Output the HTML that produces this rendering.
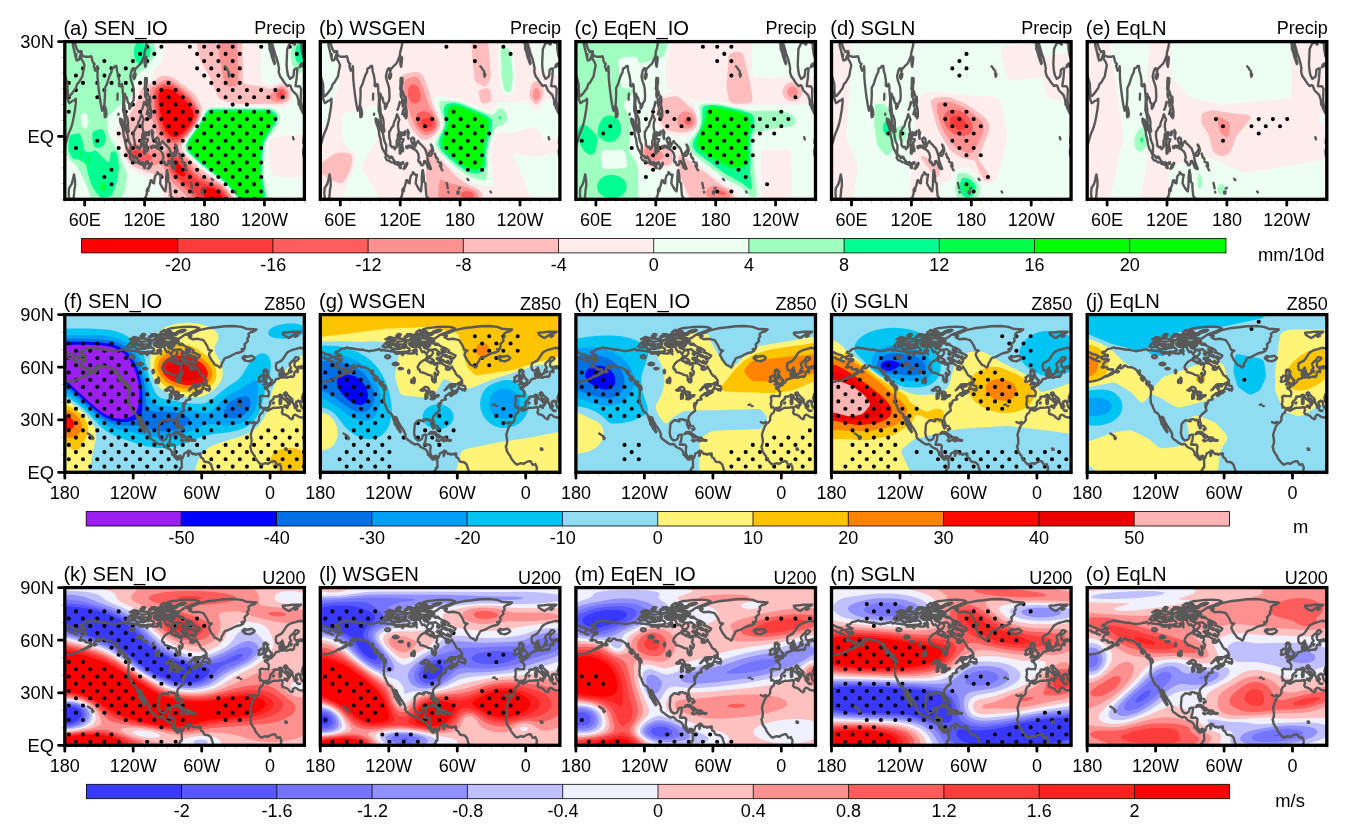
<!DOCTYPE html><html><head><meta charset="utf-8"><title>fig</title><style>html,body{margin:0;padding:0;background:#fff}</style></head><body><svg width="1350" height="832" viewBox="0 0 1350 832" style="display:block;will-change:transform;font-family:'Liberation Sans',sans-serif" fill="#000">
<rect width="1350" height="832" fill="#fff"/>
<defs><clipPath id="cp"><rect x="1.6" y="1.6" width="239.6" height="157.7"/></clipPath><path id="c1" d="M-0.3 30L1.2 33.2L3.1 39.5L4.4 44.2L4.5 49L4.9 54.6L5.1 56.2L6.6 55.9L9.1 53.1L11.1 50.2L12.6 48.3L14.1 43.9L15.6 42.7L17.1 40.1L19.3 36.3L20.1 31.6L21.4 25.3L20.1 21.8L18.4 19.3L17.9 13.6L17.1 15.8L15.6 19.9L13.6 20.6L12.9 18.7L13.1 14.3L12.4 16.8L11.8 13.3L10.8 9.5L9.8 5.4L9.6 2.9L10.4 0.7M10.4 0.7L11.1 1.6L12.4 4.8L13.6 8.6L15.6 12.1L17.4 11.1L18.4 11.1L18.9 15.2L20.6 16.2L22.6 16.8L25.6 16.8L28.1 16.2L28.8 18.1L29.4 21.2L30.4 23.1L31.6 24L30.6 25.9L32.1 30.7L33.6 29.7L34.1 26.3L34.4 30L34.4 36.3L34.9 42.7L35.4 47.4L36.4 55.6L37.8 64.7L39.1 70.7L39.8 68.2L40.6 66.9L41.4 63.8L41.9 55L41.8 48.3L42.6 46.4L43.9 43.9L44.9 40.4L46.6 35.4L48.3 32.2L48.8 28.5L50.6 27.8L52.1 25.9L53.4 25.9L53.9 31L55.1 34.8L56.1 41.1L55.9 45.8L57.1 46.4L58.6 43.9L59.3 45.2L59.7 52.1L60.3 58.4L60.1 64.7L59.9 70.1L61.1 74.5L61.8 78.6L62.2 83.7L62.8 87.4L64.9 91.9L65.7 91.5L64.9 86.8L64.9 82.4L64.4 78.6L63.5 76.4L62.1 73.9L61.5 67.3L60.9 62.8L61.5 58.1L61.8 53.7L62.5 56.2L63.8 57.8L64.8 62.5L66.1 63.5L66.3 68.8L67.9 66.3L68.5 63.5L70.4 60.6L70.8 56.2L70.4 48.3L69.7 45.2L68 40.4L67.2 36.3L68.1 32.2L68.9 29.7L70 28.1L71.1 28.5L71.5 31.9L72 29.4L73.5 27.8L75.1 25.9L77 24.4L78.5 22.2L79.8 19L81.1 15.8L81.5 12.1L82.8 7.6L83.5 3.5L83.3 0.1M0.7 46.4L2.1 49.6L3.6 54.3L4.7 59.4L6.1 63.2L7.6 62.2L9.4 60.9L11.1 60.3L12.8 58.7L12.7 63.2L11.9 69.5L10.6 77.3L9.6 82.1L7.9 88.1L6.1 92.2L4.3 97.2L3.1 101.9L2.1 104.8L1.3 109.5L0.7 115.2M10.9 134.4L11.9 140.4L12 146.1L11.3 149.3L11 153.7L10.2 160.9M10.9 134.4L9.8 139.2L8.6 143.9L7.1 146.4L6 148L5.6 153L6 158.7L5.4 162.5M41.5 65.7L42.8 69.5L43.4 74.2L42.8 76.7L41.7 77.3L41.4 72L41.5 65.7M54.5 53.7L54.3 59.7M55.4 73.6L55.3 74.8M56.9 78.6L59.1 79.9L60.3 84.6L61.9 89.3L63 90.9L64.5 94.4L65.2 99.1L66 101.9L67.5 105.1L67.5 107L67.4 114.6L66.8 114.6L65.8 112L63.8 108.9L62.5 104.2L61.8 99.1L60.6 95.3L60.2 90.9L58.8 86.2L57.1 81.8L56.9 78.6M66.7 117.7L67.6 114.9L68.5 115.2L69.8 116.1L70.3 117.7L71.9 118L72.5 116.5L74.1 118L74.3 119.3L76 120.9L75.9 123.7L74.5 122.4L72.5 122.4L70.5 120.6L69 120.6L67.9 119.6L66.7 117.7M76.5 122.1L77.1 124L76.7 123.4L76.5 122.1M77.5 122.4L78.2 122.8L77.9 124.3L77.5 122.4M78.3 123.1L79.5 122.1L80.5 123.1L79.8 124L78.5 124.7L78.3 123.1M81.3 123.1L82.5 122.8L84.4 122.1L84.3 123.7L82.5 124.3L81.3 124L81.3 123.1M80.5 126.2L81.7 125.9L82.3 128.1L81.1 127.8L80.5 126.2M85 128.8L86.5 124.7L88.5 122.8L88.7 123.7L87 127.2L85.5 128.8L85 128.8M70.5 91.5L71.5 90.9L72.8 87.8L74.5 86.2L75.5 81.8L77 78.9L78.3 74.2L79.2 76.1L80.7 79.6L79.5 82.7L79.3 86.8L80.4 93.1L79.3 93.7L79 98.8L78 101L78 107.3L77.4 107.6L76.1 109.2L75.1 106.7L73.5 107.3L71.7 105.4L71.5 101L70.6 97.8L70.5 91.5M81.5 93.4L82.5 92.2L84.5 93.4L86.5 91.2L86 95L84.5 94.7L82.5 95L81.7 99.1L83 99.1L84.8 99.1L84.5 101.3L83.1 102.3L83.8 106.4L84.5 109.5L84.3 111.4L83.1 111.4L83.1 108.9L82.4 104.8L81.8 105.4L81.9 113.6L81 113.6L81 107.3L80.3 104.8L81.3 96.6L81.5 93.4M82.1 37.9L83.7 38.2L83.7 42.7L83.1 45.8L83.1 51.2L84.1 51.5L85.5 56.5L84.5 53.1L84.1 54.6L83.2 52.4L82.2 52.4L82.1 49.6L81.5 49L81.9 45.2L81.9 41.1L82.1 37.9M83.5 74.2L84.9 69.1L86.3 69.5L87 65.7L87.9 71L88 76.1L87.2 78.3L86.9 74.8L85.7 76.4L85.5 72.3L83.5 74.2M85.8 56.8L86.8 56.8L87.2 61.6L86.5 64.7L86.3 61.9L85.8 56.8M83.5 59.1L84.6 60L84.7 64.7L84.1 66.6L83.9 63.5L83.4 63.2L83.5 59.1M78.7 69.8L80 66.3L81 61.9L80.8 64.1L79.5 68.2L78.7 69.8M81.9 54L82.9 54.3L82.8 57.5L82.4 57.2L81.9 54M82.5 16.8L83.4 17.4L83.1 21.2L82.4 26.9L81.7 24.4L81.6 21.8L82.5 16.8M70.2 35.7L71.5 32.9L72.5 34.1L72 37.3L71 38.9L70.2 37.6L70.2 35.7M89 90L89.5 93.1L90.2 92.2L89.5 95.6L89.8 98.8L89.3 97.2L89 93.7L89 90M89.5 105.7L91.5 105.7L92.3 107.6L90.5 107.3L89.5 105.7M87.5 106.4L88.5 106.4L88.5 108.3L87.7 107.9L87.5 106.4M92.5 98.8L94.1 97.5L95.5 98.8L95.8 103.8L96.5 106.7L97.8 103.2L99.4 101L101.3 103.8L102.5 104.5L104 106.4L106 108.3L107.3 111.7L108.3 115.2L109.3 115.8L108.7 117.7L109.5 121.5L111.4 126.5L112.3 128.8L111.2 129.1L109.4 127.8L108.1 124.3L106.5 120.9L105.4 121.2L104.9 124L103.9 125.3L102.5 125L101.4 121.8L100.4 122.4L99.5 120.2L100.3 117.7L99.5 113.6L98 111.1L96.5 110.1L95 108.3L94.3 108.9L93.5 105.4L94.5 104.2L93.5 102.9L92.5 100.7L92.5 98.8M109.8 113.9L111.5 112L113 109.5L113.8 109.8L113.5 113.6L112 115.8L110.5 115.8L109.8 113.9M112.2 104.5L113.5 106.4L114.5 110.5L114.3 111.1L113.3 107.6L112.2 105.1M116.2 113.6L117.4 117.7M118 117.4L119 119.6M119 121.5L121.3 123.1M121.1 125.6L122.2 127.5M122.1 122.8L122.7 126.5M122.7 128.8L123.7 130.3M128 142.9L128.6 145.5M128.7 146.7L129.2 148.3M129.6 151.8L129.8 152.4M138.7 151.8L140 151.5L139.7 153.7L138.8 153.4L138.7 151.8M140.2 148.6L141.3 147.7M148.6 138.8L149.8 140.1M171.7 151.5L172.3 152.4M79 161.6L80.1 160.3L81.3 159L83 156.2L83.8 153L83.7 149.9L84.5 148.3L85.1 151.1L85.5 147.7L86.5 145.2L87.5 140.4L88.5 140.1L89.7 142.9L91 143.3L91.3 138.8L92.3 135.4L94.1 134.1L94.1 132.2L96.5 134.7L98.3 134.7L97.5 138.8L97 143.3L98.5 146.1L100.5 149.6L102.3 151.5L103.1 143.6L103.1 137.3L103.6 131L104.1 130L105 135.7L105.3 141.7L106.8 143.3L107 148.3L107.7 155.9L109 157.5L110.3 160.3L111 164.1M161.7 26.3L162.1 26.9M163.2 28.1L163.7 29.1M164.7 30.4L165.4 31M165.5 32.6L166.6 34.8L165.8 36.7L165.4 34.1L165.5 32.6M229.9 97.2L230.5 99.4L230.2 98.5L229.9 97.2M204 -7.8L204.2 -6.2L204.7 -3.1L205.5 1.6L206.5 6.4L206.3 8.6L207.1 10.8L207.8 12.4L209 17.4L209.8 19.6L211.4 24L211.9 22.8L211 19.9L210 14.3L209 9.5L208.1 4.8L206.8 0.1L206.5 -3.7L208.1 -2.1L209.1 3.9L210.5 8.6L211.8 13.3L213.3 17.4L214.9 23.1L215.9 28.5L215.6 31.9L217 36.3L219.3 39.5L221.3 42.7L224.3 46.1L226.3 45.2L227.3 45.8L229 50.2L231.3 52.7L233.3 54.6L233.8 55.3L235.3 60L235.6 64.7L236.3 64.7L237.3 67.9L238.3 70.1L239.8 73.2L241 73.2L241.2 70.1L241.7 67.9L242.7 69.5M236 2.6L234.8 0.4L233.3 0.7L231.8 1L232 4.5L230.8 4.2L229.5 2.9L227.5 2.6L226.5 3.9L225.3 6.4L224.1 9.2L223.9 14.3L223.6 20.6L223.5 25.3L224.1 31.3L225 35.4L226.3 37.6L226.9 38.9L228.8 37.6L230 36.7L230.7 33.8L230.9 30L232.8 28.5L234.3 28.5L233.9 32.6L233.6 37.9L233.1 41.1L232.4 46.1L233.8 46.4L235.3 46.1L236.8 46.4L238 49L237.7 55.3L237.6 60.9L238.3 64.7L239.3 67.9L240.3 68.5L241.4 66.6L242.7 66.6M236 2.6L237.3 1.5L238.5 4.8L238.6 8.9L239.5 14.3L240.3 17.1L241.1 15.8L241.2 11.7L240.8 7.3L240.3 4.8L239.9 0.1M236.4 27.2L237.3 24.7L238.8 23.4L240.8 23.4L242.2 25.3L243.2 27.5M236.4 27.2L237.8 26.3L239.3 25.6L240.8 26.9L242.2 28.5L243.2 31M242.4 91.5L241.2 93.7L240.8 97.8L240.4 99.4L240.3 103.2L241.2 104.2L241 107L240 111.1L240.3 115.2L241.4 119L242.7 124.7" fill="none" stroke="#585858" stroke-width="2.4" stroke-linejoin="round" stroke-linecap="round"/><path id="c2" d="M15.2 44.4L17.1 46.2L18.3 46.3L21 46.3L23.3 46.5L22.8 48.1L21.6 48.1L19.3 49L17.6 51.4L18.3 53.3L19.9 54.4L22 54.4L22.2 56L23.9 56.5L26.2 56.3L27.7 56.5L27.3 58.6L26.1 59.8L23.9 61.2L21.6 62.5L19 63.7L21 63.5L22.8 62.8L24.5 61.9L26.3 61.2L28.5 59.5L30.2 58.1L31.3 56.8L32 55.4L33.6 53.3L35.3 52.1L34.3 53L33.8 55.1L35.9 55.3L37.6 54.2L38.7 52.5L40.4 52.8L42.2 54L45 54.2L47.3 54.7L49.6 56L51.3 57.4L52.4 59.1L54.1 60.9L55.8 62.5L57.6 63.5L58.4 64.2L59.8 66.5L61 68.2L61.8 70L64.4 71.7L66.5 73.1L67.1 74.4L67.3 76.5L66.1 75.1L64.7 74.5L65.4 77.2L65.5 78.4L65.4 82.3L65 84.4L65.3 87.5L65.1 88.6L65.8 90.5L66.7 92.4L67.3 93.1L67.4 94.2L67.9 95.2L68.6 96.8L69.4 98.7L71 99.6L71.9 100.1L73.2 101.5L73.4 102.4L74 104.2L74.9 106.8L76 109.4L75.8 110.6L76.7 111.9L77.5 112.7L78.9 115.5L79.8 116.8L81.6 119.2L82.2 118.5L81.2 116.9L80 113.8L78.9 111.2L77.9 108.5L76.4 105.9L76 103.8L77.9 104.7L79 108L80.6 110.6L82.1 113.3L83.8 115.5L85.6 118.7L86.8 121.7L86.4 123.6L88 126.1L90.6 127.8L92.9 129.6L96.3 131.5L98.6 131L99.8 131.3L101.7 133.8L104.3 135.2L106.6 136.2L107.2 136.6L108.9 139.2L109.2 141.8L110 141.8L111.2 143.6L112.3 144.8L114 146.6L115.4 146.6L115.7 144.8L116.3 143.6L117.5 144.5L118.1 146.6L118.7 148L118.6 149.7L118.8 152.3L118.6 154.6L117.3 155L117.1 156.7L115.7 157.9L115.6 160.2M15.2 44.4L17.3 43.4L19.9 42.8L21 43.5L22.4 43.2L22.2 42L20.2 41.8L19 40.5L16.7 39.7L17.4 38.6L19.9 38.4L21 37.2L22.2 36.2L25.6 35.3L28.5 34.4L30.7 35.3L33.6 35.3L35.9 35.8L38.2 36.2L41.6 36.7L43.9 36.5L46.1 37.4L48.4 37.6L50.7 38.4L52.4 37.7L54.1 37.6L55.3 37.6L57.6 36.7L59.3 36.7L61 35.8L62.7 37.6L64.4 37L65 36.7L66.7 37.6L69.5 37.7L72.4 38.4L74.7 38.6L76.4 39.8L77.2 40.7L79.2 40.5L81.5 40.4L83.8 41.1L83.8 42.3L84.9 40.5L86.1 39.7L88.4 40L90.6 40.5L92.9 40.5L95.2 40.2L95.8 39.3L97.5 39.8L98.1 41.4L97.3 38.4L97.7 36.7L96.9 34.6L99.2 33.2L101.5 34.9L102.1 36.7L102.6 37.4L103.8 39.3L105.5 38.4L106.6 39.7L107.8 41.3L108.3 40.4L109.5 38.4L110 37L112.9 37.2L114 38.4L114.3 40.2L112.9 42.3L111.8 43.2L110 43.2L108.6 42.8L108.9 43.7L107.8 44.6L106.6 46.7L104.3 47.6L103.2 48.4L101.5 49.7L99.8 52.1L99 54.2L99.5 56.3L100.9 56.5L101.5 59.1L103.8 59.5L106.6 60.3L109.5 61.9L112.9 62.6L113.5 65.6L113.2 66.7L114.6 68.8L115.7 69.5L116.9 68.9L117.1 67.2L116.9 64.7L116.1 63.3L118.6 62.1L119.5 60.3L119.6 58.6L117.5 56.3L118.4 54.2L118.3 51.9L117.9 50L120.9 50.2L122.9 50L124.9 51.4L126.6 52.5L127.7 53.3L127.2 56L127.7 56.5L129.4 56.8L131.1 56.3L132.3 54.6L133.2 53.5L134 55.1L135.1 56.8L136.3 58.6L136.9 60.3L138 61.9L139.1 63L140.8 63.5L141.4 64.7L143.1 66.8L143.5 68.2L142 69.1L139.8 70L138.6 71.2L136.3 71.2L134 71.2L131.1 71.4L130 72.8L128.3 74.4L126.6 76.5L125.8 77.3L127.2 76.5L128.9 74.5L131.7 73.1L133.7 73.7L133.4 74.9L131.7 75.2L132.9 76.3L133.1 77.9L134 78.6L134.6 78.9L136.3 79.1L137.4 80L134.6 81.2L132.3 83.1L131.5 82.6L131.6 81.6L133.4 80L132.3 80L130.6 80.3L128.9 81.7L127.2 82.8L126.4 84L126.2 84.9L126.5 85.9L127.2 85.7L127.2 86.5L125.8 86.6L124.3 87.2L122.8 87.7L122.6 88.2L122.5 89.6L121.6 91.2L121 90.3L121.3 91.9L120.4 94.2L120 94.5L119.9 91.9L120 90.5L120.1 93.6L120.3 94.7L120.7 96.3L120.9 97.7L119.7 98.5L118.3 99.8L116.9 100.8L115.7 102.2L114.6 103.6L114.1 105.9L114.6 108.5L115.2 109.9L115.7 112.4L115.5 114.7L114.6 115.4L113.7 113.8L112.7 110.8L112.6 108.5L111.2 106.7L109.7 107.3L108.3 106.1L106.6 106.3L104.9 106.4L105.1 108.4L103.8 108.2L102.3 107.5L100 107.3L98.9 108L97.5 109.4L96.1 111L95.9 113.8L95.6 117.3L95.4 119.9L96.1 123.3L97.1 125.5L98.6 126.8L99.3 127.5L101.5 126.8L102.9 126.2L103.7 124.7L103.9 122.6L106 121.7L107.8 121.7L107.3 124L107 126.9L106.4 128.7L105.6 131.5L107.2 131.7L108.9 131.5L110.6 131.7L112 133.1L111.6 136.6L111.5 139.7L112.3 141.8L113.5 143.6L114.6 143.9L116 142.9L117.5 142.9L118.8 144.3L119.4 145.3L120.3 143.1L120.8 141.5L120.9 141.1L121.7 140.1L123.2 139.5L124.6 138.5L125.6 137.6L125.7 138.8L125 139.5L125.3 140.4L126 140.1L127.2 138.1L127.5 139.2L129.1 140.3L129.4 141L131.7 140.8L132.9 141.7L134 141L135.5 140.6L136.3 140.8L136.4 141.8L137.4 142.7L138 144.5L139.7 145.3L140.5 147.3L141.6 148.8L143.7 149L145.4 149.2L147.1 150.6L148 151.6L148.8 154.1L149.4 156.2L150 157.6L150 160.2M117.5 142.9L118.8 144.3M117.5 144.5L118.1 146.6M1.6 38.4L4.5 39.7L7.4 41.1L10.8 42L13.4 43.5L11.9 44.6L10.2 46.3L9.1 46.7L6.8 45.8L5.6 44.6L3.4 44.4L2.4 43.4L1.6 44.8M1.6 49.8L2.6 50.2M11.1 47.7L13.1 48.1L14.4 48.6L12.5 48.4L11.1 47.7M16.1 53.9L17.9 53.7L17.9 54.6L16.5 54.6L16.1 53.9M30.5 58.9L32.2 57.7L33.4 58.6L31.9 59.6L30.5 58.9M19 63.7L17.1 65.1L14.8 66.1M13.6 66.7L12.1 67.2M10.2 67.7L7.9 68.1M6.2 68.4L3.9 68.8M60.5 70.3L64.1 71.4L66.1 74.5L64.6 74.2L62.7 72.6L60.5 70.3M55.3 64.7L56.8 64.7L57.6 67.9L55.8 66.5L55.3 64.7M54.1 57.4L52.1 59.1L54.7 62.1L54.1 57.4M107.8 44.9L110 44.1L111.2 45.1L113.5 46L115.2 47.6L112.3 48.6L109.5 48.6L107.8 47.7L108.9 46.3L107.8 44.9M131.7 50.9L129.4 50.2L127.2 49.3L124.9 47.7L122.6 46.5L119.2 46.7L118 45.6L118.6 44.6L122.6 44.6L123.2 42.5L124.3 41.4L123.2 39.7L121.5 39.7L118 37.2L116.9 36.2L114 36.7L110.3 36.7L108.9 36.2L105.5 34.9L104.6 33.2L104.9 31.1L108.9 30L110.6 30.9L113.5 30.2L115.2 30.4L118 31.4L119.2 32L120.3 31.8L121.5 33L123.7 34.1L126 34.9L127.7 35.8L129.4 36.7L130.6 38.1L129.4 39.3L132.9 40.5L135.1 41.6L136.9 42.5L136.3 43.7L134.6 45.5L133.4 44.6L131.7 43.4L130 43.7L131.7 45.8L133.1 47.2L132.9 49L131.7 49.7L129.4 48.4L128.9 47.7L131.1 49.7L131.7 50.9M71.8 32.3L75.8 30.9L81.5 31.4L84.9 31.1L87.2 32L87.8 34.1L90.6 35.8L91.2 37.6L88.4 38.6L84.9 38.6L81.5 39.1L77.5 39.3L74.1 38.4L73.5 36.7L77 36.2L73.5 35.5L71.8 34.6L71.8 32.3M64.4 33.2L66.1 30.6L68.4 28.8L73 29.3L75.2 30.9L72.4 32.7L69.5 34.1L66.7 34.6L63.8 33.4L64.4 33.2M73.5 27.6L75.8 25.5L81.5 25.5L86.1 26.2L86.7 27.9L83.8 28.1L79.2 28.8L77 28.3L73.5 27.6M90.6 30L95.2 30L96.3 31.8L95.2 34.1L92.9 33.5L90.6 31.8L90.6 30M98.1 29.7L103.2 29.7L104.3 31.4L100.9 33.2L98.1 32.3L98.1 29.7M97.5 24.8L102.1 25.1L105.5 25.5L110 25.7L114.6 26.5L115.7 28.3L112.3 28.8L106.6 28.8L102.1 28.5L101.5 27.1L97.5 26.2L97.5 24.8M115.7 25.8L118 24.4L120.9 22.2L123.7 20.9L128.3 19.2L132.9 17.4L136.3 15.3L132.9 14.1L127.2 13.7L119.2 13.9L113.5 14.6L107.8 15.3L104.3 16.5L107.8 18.3L108.9 20L106.6 21.8L106 23.6L110 24.4L113.5 25.5L115.7 25.8M97.5 19.2L100.9 16.9L104.3 18.3L106.6 20.4L103.2 22.2L99.8 21.3L97.5 19.2M92.9 25.3L95.8 25.3L96.3 27.4L92.9 27.9L90.6 26.7L92.9 25.3M66.7 26.2L71.2 23.9L74.7 24.8L71.2 26.5L66.7 26.2M94.1 37.6L96.3 36.9L98.1 38.1L96.9 39.3L94.6 38.8L94.1 37.6M88.4 21.3L92.9 21.3L94.1 23L89.5 23.2L88.4 21.3M115.7 30.6L119.2 30.6L119.7 31.6L116.3 31.8L115.7 30.6M71.5 43.7L70.7 42.6L69 42.1L67.2 42.6L66.5 43.7L67.2 44.8L69 45.3L70.7 44.8L71.5 43.7M79.8 51.1L79 50.2L77 49.8L74.9 50.2L74.1 51.1L74.9 51.9L77 52.3L79 51.9L79.8 51.1M84.1 55.6L83.5 55.1L82.1 54.9L80.6 55.1L80 55.6L80.6 56.1L82.1 56.3L83.5 56.1L84.1 55.6M90.8 58.6L90.6 57.4L90.1 56.8L89.6 57.4L89.4 58.6L89.6 59.8L90.1 60.3L90.6 59.8L90.8 58.6M96.1 67.4L95.9 65.4L95.2 64.6L94.6 65.4L94.3 67.4L94.6 69.3L95.2 70.2L95.9 69.3L96.1 67.4M93.4 68.2L93.2 67.1L92.9 66.7L92.6 67.1L92.5 68.2L92.6 69.3L92.9 69.8L93.2 69.3L93.4 68.2M101.9 77.3L104.3 75.6L106 74L108.3 74L110 75.4L110.4 77.2L108.9 77.7L107.2 77.9L106 76.6L104.3 77.7L101.9 77.3M106.8 85.8L108.6 85.2L108.6 82.3L109.5 80.1L110 79.1L108.3 79.1L106.8 81.4L106.7 84L106.8 85.8M110.6 78.9L111.8 78.6L114 78.7L115.7 79.6L115.7 81.2L114.3 81L113.8 83.5L112.9 84L111.8 82.6L111.8 80.5L110.6 78.9M112 86.1L114.6 86.3L116.9 84.5L116.9 84.2L114.6 84.5L112.3 85.4L112 86.1M116.1 83.5L119.2 83.5L120.1 82.3L118.6 82.3L116.7 82.6L116.1 83.5M139.4 75.4L140.3 73.5L141.6 70.5L143.2 68.9L143.6 70.9L142.6 71.7L143.9 72.6L146 73L146.6 74.4L146.9 76.1L146 77.7L145.1 76.3L143.7 77.2L143.1 75.9L140.8 75.9L139.4 75.4M133.4 71.9L136.6 73.3L135.1 73L133.4 71.9M136.9 79.4L138.2 77L138.8 78.7L136.9 79.4M133.5 77.7L136.3 77.9L135.7 78.7L133.5 77.7M156.8 54.6L154.5 52.8L151.7 51.6L150 49L148.3 46.9L147.1 44.6L145.8 42L146.6 39.3L148.8 37.6L145.4 36.7L144.8 34.9L143.7 32.3L142 29.7L140.3 27.1L135.1 25.8L129.4 26.2L126 24.4L128.3 23L123.7 21.8L129.4 20L132.9 18.8L136.3 17.1L144.3 15.3L153.4 14.3L161.4 13.2L170.5 13L178.5 13.9L183.1 15.7L193.3 16.5L191 18.3L187.6 19.2L185.3 20.9L185.9 23.6L184.2 25.8L184.8 27.9L183.1 29.7L181.3 31.4L181.9 33.2L181.3 35.8L178.5 36.2L180.2 37.6L177.4 39.3L172.8 40.2L169.4 42L165.9 43.9L163.1 44.6L161.4 45.5L160.2 48.1L158.5 50.7L158 53.3L156.8 54.6M179.3 44.6L181.3 43L183.9 43.7L186.5 43.2L188.8 42.8L190.4 43.7L191.5 45.1L190.1 46.7L186.5 48.3L183.6 47.9L181.3 47.4L181.9 46.3L179.6 45.6L181.3 44.9L179.3 44.6M219.6 19.7L225.3 19.2L229.8 18.6L237.8 18.8L235.5 20.4L231 21.5L228.1 23.6L225.8 25L223 23.6L220.1 21.5L219.6 19.7M231 22.3L234.4 23L232.1 23.9L231 22.3M200.5 71.6L203 71.2L205 70.5L207.4 70.3L208.6 69.6L207.9 69.1L209 67.2L207.4 66.5L207 65.4L205.5 63.7L205.2 62.1L203.7 61.2L204.5 59.8L205 58.4L202.5 58.2L203.4 56.7L201.3 56.7L200.4 58.2L200.6 60.3L201 61.8L201.5 63.3L203.1 63.2L203.6 64.9L203.5 66L201.9 66L202.2 67.2L201.1 68.4L203.3 69.3L201.9 70L200.5 71.6M195.6 68.9L197.7 68.6L199.8 67.9L200.2 66L200.6 63.7L199.6 62.6L197.7 62.6L197.3 64L195.6 64.4L196.2 66L195.8 67.5L195.2 68.2L195.6 68.9M242.4 37L239.5 35.3L236.5 34.8L232.1 36.2L228.7 37L225.3 38.8L223.6 40.2L221.9 42.8L220.1 45.5L218.4 47.7L216.1 48.8L213.3 50.4L212.7 52.5L213 55.4L213.5 56.7L215 57.7L216.7 57.2L218.7 55.6L219.2 54.6L219.6 56L220.1 57.7L220.9 59.8L221.6 61.4L221.9 62.3L223.3 62.1L223.6 60.9L225.3 60.3L225.8 58.6L226.4 56.5L228.1 54.9L227 53L226.6 50.7L228.1 49L230.4 47.2L231.6 45.5L232.5 44.1L234.4 44.1L235.9 45.5L234.4 47.2L231.6 49L231.3 51.6L231.6 53.3L233.3 54.4L235.5 53.9L238.4 53.3L241.8 54.2M241.8 54.6L239 55.1L235.5 55.1L233.8 55.6L233.8 57.4L234.9 57.2L234.4 59.3L232.8 58.2L231.6 58.8L231 61.2L231 62.6L229.6 64L228.2 63.5L225.8 63.9L223.3 64.9L221.3 64L219.6 64.7L218.4 63.9L218 63L218.8 60.9L219.1 58.2L217.9 59.3L216.4 59.8L216.3 61.9L216.8 63.2L217.1 64.7L216.1 65.4L215 65.8L213.3 66L212.4 66.7L211.6 68.4L210.8 69.5L209.8 70L208.8 70.7L208.7 71.6L207.2 72.4L205.8 72.8L205 72.3L205.3 74L203.6 74L201.7 74.4L202.1 75.6L203.9 76.3L204.6 77.3L205.7 78.7L205.7 81.2L205.1 83.3L203 83.1L200.7 83L197.9 82.8L196.5 84L197 85.8L197 88.9L196.2 91.4L197 92.1L196.9 94.5L198.6 94.2L199.8 95.2L200.6 96.3L202 95L204.5 95L206.2 93.5L207.2 91.4L206.7 90.1L207.9 87.9L209.5 86.8L210.7 85.4L210.6 83.8L212.2 83.3L214.1 83.8L215.6 82.6L217.1 81.6L218.7 82.4L219.6 84.9L221.1 86.3L222.7 87.2L224.1 88.9L225 89.8L225.3 91.5L224.9 92.8L225.8 92.1L226.5 91L226 89.8L226.4 88.4L228 89.3L227.6 88L225.3 86.6L225.3 85.9L224.1 85.8L223 84.4L222.4 83L221.2 81.7L221.1 80L222.7 79.3L222.5 80.5L223.6 80L224.4 81.9L225.8 83.1L228.1 85.1L229.3 86.5L229.2 88.4L230.1 90.1L231 91.9L231.3 93.3L231.8 94.9L232.7 95.4L233.4 95.4L233 93.6L233.8 93.1L234.4 93.3L233.3 91.5L233 90.5L233.1 88.6L234.4 88.9L234.9 87.7L236.7 88L236.9 89.1L237.3 90.5L237.6 91.9L238.2 93.6L239 95L240.1 95.4L241.8 95.7M240.1 87.3L239 85.9L238.9 84.4L239.7 82.8L239.8 81.4L240.9 80.1L241.8 78.7M236.9 89.1L238.4 88.6L240.1 88.4L240.1 87.3L241.8 87.2M221.3 92.8L224.8 92.4L224.2 95L221.3 93.5L221.3 92.8M216.4 87.3L218.1 87.5L218 90.7L216.7 91L216.5 88.9L216.4 87.3M216.9 84.7L217.7 84L217.9 85.9L217.5 86.8L216.8 85.8L216.9 84.7M233.9 97.1L237 97.7L235 98L233.9 97.1M209.8 90L210.9 89.6L210.4 90.5L209.8 90M219.3 61.2L221.3 61.2L220.9 62.6L219.6 62.6L219.3 61.2M227.8 57.9L228.7 58.1L227.9 59.5L227.8 57.9M241.8 104.5L238.4 104.5L235.5 103.8L233.3 102.1L231.6 101.7L229.8 103.3L229.8 105.4L228.7 106.3L226.4 105L224.5 102.8L221.9 101.7L219.6 101L218.7 99.2L219.6 97.5L219 95.4L219.6 94.5L218.4 94L216.1 94.5L212.7 94.9L210.4 94.7L207 96.4L204.7 97.7L203.6 97.5L201 96.4L200.2 96.6L199.3 99.8L197.3 101L195.8 104.2L196 106.4L195.4 108L193.9 109.8L192.2 110.8L190.5 113.4L189 117.3L187.6 121.7L188.2 125.2L188.5 127.8L188.2 131.3L187.1 133.6L187.9 136L188 137.8L189.3 139.7L190.1 141.3L191.6 142.9L192 144.6L193.3 146.6L194.7 148.3L196.8 150.6L198.5 151.6L200.2 150.9L202.5 150.2L204.7 150.9L207 149.5L208.4 148.8L209.9 148.3L211.9 148.3L213.1 150.2L213.9 151.8L215.6 151.6L216.7 151.1L217.3 152.5L218.1 154.1L218.2 155.8L217.7 157.6L217.6 160.2M222.1 135.5L223.6 135.7L223.7 136.9L222.5 136.9L222.1 135.5M110.2 121L111.2 119.6L112.9 118.9L115.2 118.9L116.9 119.9L118.6 121.2L120.3 122.2L122.4 124L120.9 124.5L118.4 124.5L118 123.1L116.9 121.7L115.2 120.8L113.5 120.1L111.8 120.5L110.2 121M122.1 127.1L124.3 127.5L125.2 128.3L126.6 127.3L128.8 127.5L129 126.6L127.5 125.7L127.2 124.7L125.2 124.5L123.7 124.5L123.3 124.8L124 125.7L124.4 126.8L122.1 127.1M117.7 127.3L120 127.5L120.1 128L118.6 128.2L117.7 127.3M130.3 126.9L132.2 127.1L131.9 127.8L130.3 127.8L130.3 126.9M136.5 140.6L137.4 140.4L137.4 141.7L136.5 141.7L136.5 140.6M117.7 112.7L118.9 113.3M118 115.9L118.4 117.3M120.1 115.2L120.2 116.2M125 139.5L125.7 141.8L125.1 143.1L124.9 141L125 139.5M24.8 120.5L25.3 120.8M26.5 121.5L27.1 122M28.2 122.7L29 123.1M29.1 124L30.4 125.2L29.5 126.2L29 124.8L29.1 124M174.4 91.9L176 91.5M177.6 93.1L178.3 93.1M186.5 109.1L188.4 109.8M189.1 110.3L191.5 108.9M98.6 22.2L98.1 21.5L96.9 21.3L95.7 21.5L95.2 22.2L95.7 22.8L96.9 23L98.1 22.8L98.6 22.2M81.1 23.2L80.5 22.6L79.2 22.3L77.9 22.6L77.4 23.2L77.9 23.8L79.2 24.1L80.5 23.8L81.1 23.2M82.1 21.6L81.6 21.1L80.4 20.9L79.2 21.1L78.7 21.6L79.2 22.1L80.4 22.3L81.6 22.1L82.1 21.6M88.6 23.7L88.2 23.3L87.2 23.1L86.3 23.3L85.9 23.7L86.3 24.2L87.2 24.3L88.2 24.2L88.6 23.7M100.3 23.4L100 23L99.2 22.9L98.4 23L98.1 23.4L98.4 23.7L99.2 23.9L100 23.7L100.3 23.4M104.7 23.9L104.4 23.5L103.8 23.4L103.1 23.5L102.9 23.9L103.1 24.3L103.8 24.4L104.4 24.3L104.7 23.9M73 26.5L72.6 25.9L71.8 25.7L71 25.9L70.7 26.5L71 27.2L71.8 27.4L72.6 27.2L73 26.5M89.3 27.6L89 27.2L88.4 27.1L87.7 27.2L87.4 27.6L87.7 28L88.4 28.1L89 28L89.3 27.6M87.8 30.7L87.5 30.2L86.7 30L85.8 30.2L85.5 30.7L85.8 31.2L86.7 31.4L87.5 31.2L87.8 30.7M95.8 29.5L95.4 29.2L94.6 29.1L93.8 29.2L93.5 29.5L93.8 29.8L94.6 29.9L95.4 29.8L95.8 29.5M121.1 40.7L120.7 40L119.7 39.7L118.8 40L118.4 40.7L118.8 41.5L119.7 41.8L120.7 41.5L121.1 40.7M114.7 49.5L114.2 48.9L112.9 48.6L111.6 48.9L111.1 49.5L111.6 50.1L112.9 50.4L114.2 50.1L114.7 49.5M116.4 50.7L116.2 50L115.7 49.7L115.3 50L115.1 50.7L115.3 51.5L115.7 51.8L116.2 51.5L116.4 50.7M100 27.6L99.6 27L98.6 26.8L97.7 27L97.3 27.6L97.7 28.1L98.6 28.4L99.6 28.1L100 27.6M111.4 32.2L110.5 31.4L108.7 31.5L107 32.3L106.4 33.5L107.3 34.3L109.1 34.2L110.8 33.3L111.4 32.2M86.7 34.1L86.1 33.3L84.9 33L83.7 33.3L83.2 34.1L83.7 34.8L84.9 35.1L86.1 34.8L86.7 34.1M82.6 35L81.9 34.5L80.3 34.4L78.7 34.9L78.1 35.6L78.8 36.1L80.4 36.2L82 35.7L82.6 35M80.6 33.2L79.9 32.5L78.1 32L76.4 32L75.6 32.5L76.3 33.2L78 33.7L79.8 33.7L80.6 33.2M102.1 31.1L101.7 30.5L100.9 30.2L100.1 30.5L99.8 31.1L100.1 31.7L100.9 32L101.7 31.7L102.1 31.1M114 27L113.2 26.6L111.2 26.5L109.2 26.9L108.3 27.5L109.2 27.9L111.2 27.9L113.2 27.6L114 27M114.6 20.5L113.5 20L111.1 20.2L108.7 21.1L107.8 22L108.9 22.5L111.3 22.3L113.6 21.5L114.6 20.5M122.5 17.1L121.1 16.7L117.9 17.3L114.8 18.4L113.5 19.5L114.9 19.9L118.1 19.3L121.3 18.2L122.5 17.1M105 19.9L104.5 19.3L103.2 19L101.9 19.3L101.4 19.9L101.9 20.5L103.2 20.7L104.5 20.5L105 19.9M72 30.4L71.3 29.9L69.8 30.3L68.5 31.4L68.2 32.5L68.9 33L70.4 32.6L71.7 31.5L72 30.4M127 38.8L126.6 37.7L125.1 36.6L123.5 36L122.7 36.4L123.2 37.4L124.6 38.6L126.2 39.1L127 38.8M129.4 43.7L128.8 42.9L127.3 42L125.7 41.6L125 41.9L125.5 42.8L127 43.7L128.6 44.1L129.4 43.7M124.6 47.3L123.9 47L122.5 47.4L121.1 48.2L120.6 48.9L121.3 49.1L122.7 48.8L124.1 48L124.6 47.3M95.1 31.8L94.8 30.9L94.1 30.6L93.3 30.9L93 31.8L93.3 32.7L94.1 33L94.8 32.7L95.1 31.8M115.6 66.5L115.3 66L114.6 65.9L113.9 66L113.6 66.5L113.9 66.9L114.6 67.1L115.3 66.9L115.6 66.5M116.9 60.7L116.7 60.1L116.3 59.8L115.9 60.1L115.7 60.7L115.9 61.3L116.3 61.6L116.7 61.3L116.9 60.7M63.9 69.1L63.7 68.7L63.3 68.6L62.8 68.7L62.6 69.1L62.8 69.5L63.3 69.6L63.7 69.5L63.9 69.1M130 53.7L129.8 53.3L129.4 53.2L129 53.3L128.9 53.7L129 54.1L129.4 54.2L129.8 54.1L130 53.7" fill="none" stroke="#585858" stroke-width="2.4" stroke-linejoin="round" stroke-linecap="round"/></defs>
<g transform="translate(63.1 40)" clip-path="url(#cp)"><rect x="0" y="0" width="242.9" height="161" fill="#FF0000"/><path d="M-2 -2L244.8 -2L244.8 163L158.9 163L159.5 162.2L160 160.8L159.9 158.5L159 155.5L158.1 154L156.9 152.5L154 150.3L151 148.8L147.2 147.8L142.8 147.3L139.8 147.6L138.7 148L137.9 148.8L137.7 149.5L137.7 150.2L138.5 152.5L139.4 154L141.1 156.2L144.2 159.5L147.2 161.6L150.4 163L-2 163ZM101.5 49.3L99.2 50.1L97.5 51.2L96.5 52.8L95.9 55L95.8 58L96.2 64.1L97 70.7L97.9 75.2L99.2 80.5L101.4 87.2L102.3 89.5L103.8 92.1L106 94.5L108.2 96.1L110.5 96.9L112.8 96.9L114.2 96.4L115.8 95.7L119.1 93.2L122.5 90.1L125.5 86.4L128.4 82L129.9 79L130.6 76L130.6 74.5L130.3 73L129.8 71.5L128.5 68.9L126.9 66.2L124.8 63.5L122.3 61L113.3 52.8L110 50.5L107.5 49.5L104.5 49ZM112 123.2L111.3 124.8L111.3 127L112.1 130L113.5 132.5L115 134.1L117.2 135.6L119.5 136.3L120.2 136.3L121.3 136L121.8 135.2L122 134.5L121.8 133L120.7 130L118.9 127L117.2 125.1L115 123.4L113.5 122.9L112.8 122.9Z" fill="#FF3A3A" fill-rule="evenodd"/><path d="M-2 -2L244.8 -2L244.8 163L165.1 163L163.8 159.2L162 155.5L160 152.5L157.8 150.3L155.6 148.8L153.2 147.5L150.2 146.3L142.8 143.9L139 142.5L136 141L133 139.1L130 136.6L127.8 134.3L125.5 131.5L121 125L118.1 121.8L115.8 119.7L113.5 118.1L112 117.4L110.5 117.1L109.8 117.2L109 117.6L108.2 118.5L107.7 120.2L107.5 121.8L107.8 124.8L108.6 128.5L109.6 131.5L110.8 133.8L112 135.4L114 137.5L122.5 144L127.8 148.9L136.7 158.5L138.3 160.8L139.5 163L-2 163ZM68.5 112.8L68.5 114.2L69.1 115.8L70.8 117.2L72.2 117.8L74.5 118.1L76.8 117.7L78.2 116.9L78.7 116.5L79 115.8L78.7 114.2L77.6 112.8L75.7 111.2L73.8 110.5L72.2 110.3L70.8 110.6L69.2 111.5ZM100.8 46.8L97.8 47.7L95.5 49.1L94 51.1L93.3 53.5L93.1 57.2L93.6 64L94.4 70.8L95.3 76L96.7 81.2L98.8 88L100.1 91L101.9 94L104.5 96.8L107.5 98.9L109 99.5L110.5 99.8L112.8 99.8L114.2 99.3L115.8 98.6L118.8 96.5L122.5 93L126.2 88.7L130 83.3L132.2 79L133.3 76L133.4 74.5L133.3 73L132.5 70.8L131.3 68.5L129.2 65.1L127 61.9L122.5 57.1L115.2 50.5L111.9 48.2L108.2 46.8L104.5 46.3ZM217.8 52.4L217 52.8L216.5 53.5L216.5 54.2L217 55.3L217.8 55.6L218.5 55.5L219.1 55L219.4 54.2L219.4 53.5L218.9 52.8L218.5 52.5Z" fill="#FF5C5C" fill-rule="evenodd"/><path d="M-2 -2L244.8 -2L244.8 163L168.3 163L166.9 159.2L164.4 154.8L162.2 151.8L159.2 148.7L157 147.1L154.8 145.8L142 140.5L138.2 138.4L135.2 136.4L131.9 133.8L129.2 131.2L127 128.6L122.5 122.5L119 118.8L113.5 114.1L111.2 112.9L109.8 112.6L108.2 112.9L107.1 113.5L106.3 114.2L104.8 116.5L104.3 118.8L104.3 121.8L105 125.5L106.3 130L107.8 133.8L109.6 136.8L111.2 138.7L120.2 146.5L124.8 150.9L132.9 159.2L134.5 161.2L135.6 163L-2 163ZM66.4 111.2L66 112.8L66.1 114.2L67 116.6L68.1 118L69.2 119L70.8 119.8L72.2 120.4L74.5 120.9L76.8 121.1L81.2 121.2L84.2 121L87.2 120.2L88.3 119.5L88.9 118.8L89.2 118L89.2 117.2L89 116.5L87.5 115L82.8 112.3L78.2 109.4L75.2 108.1L72.2 107.7L70 108L68.5 108.6L67.8 109.2L67 110ZM103 43.6L98.5 44.8L94.8 46.5L92.6 48.2L91.2 50.5L90.6 52.8L90.5 56.5L91.2 66.2L92 72.2L93.4 79L95.9 87.2L97.5 91.8L99.2 94.8L100.8 96.8L102.2 98.3L106 101.1L109 102.5L110.5 102.7L112 102.7L113.5 102.4L115 101.8L118 99.7L123.2 94.4L127 89.9L131.5 83.5L133.8 79.4L134.6 77.5L135.2 75.2L135.2 72.6L134.7 70.8L133.6 68.5L131 64L129 61L125.5 56.9L119.5 51.2L115 47.4L111.2 45.2L109 44.3L106.8 43.7L104.5 43.5ZM217 49.2L215.5 49.8L214 51.2L213 53.5L212.9 55.8L213.3 57.2L213.9 58L214.8 58.7L216.2 59.1L217.8 59.2L220 58.6L221.5 57.3L222.3 55.8L222.5 53.5L222.2 52.3L221.8 51.2L220.8 50.1L219.2 49.3L218.5 49.2Z" fill="#FF9090" fill-rule="evenodd"/><path d="M-2 -2L244.8 -2L244.8 163L171.3 163L169.6 159.2L166.7 154.8L163.8 150.7L160 146.8L157.8 145.1L155.5 143.7L145.1 138.2L141.2 136L137.5 133.5L134 130.8L130.8 127.5L124.2 119.5L118.7 114.2L116.7 112L114.7 109L114.5 107.5L115.2 106L127.8 90.7L130.8 86.5L133.7 82L135.6 78.2L136.6 75.2L137 72.2L136.6 70L134.9 66.2L130.8 59.5L128.4 56.5L124.7 52.8L117.2 46.4L112.8 43.2L110.5 42L107.5 40.8L105.2 40.1L103 39.9L100.8 40.2L99.2 40.8L92.5 44.7L89.7 46.8L88.3 48.2L87 50.5L86.4 52.8L86.3 55.8L87 65.5L88.2 74.5L89.7 81.2L92.2 89.5L94.3 94.8L96.1 97.8L98.5 100.5L103 104.5L104.3 106L104.6 106.8L104.5 107.5L104.2 108.2L103 109.9L100.8 112.2L99.2 113.1L98.5 113.1L97 112.6L92.5 110.1L84.7 107.5L78.2 104.7L76 104L73.8 103.6L70.8 103.7L69.2 104L67.8 104.6L66.2 105.9L65.5 106.9L64.5 109L64 111.2L63.9 112.8L64.2 115L64.7 116.5L65.5 118L67 119.8L68.5 121.2L70 122.2L72.2 123.3L78.2 125.1L83.5 126.1L88 126.1L91.8 125.4L97 123.4L97.8 123.3L98.5 123.5L99.2 124.2L100 125.4L102.5 131.5L104 134.5L106.1 138.2L108.2 141.3L110.5 143.9L116.9 149.5L121 153.4L127.8 160.2L130.3 163L-2 163ZM157.8 -0.3L156.2 0.5L155.1 1.8L154.6 3.2L154.5 5.5L158.3 28L160.9 42.2L161.6 43.8L162.2 44.8L163 45.5L164.5 46.4L166 46.7L167.5 46.8L171.2 46.3L172.8 45.7L173.5 45.2L174.2 44.4L175 42.5L175.3 40L175.2 25.8L174.7 19L174.4 10L173.5 3.2L172.8 1.5L172 0.6L171.2 0L169.8 -0.5L167.5 -0.7L161.5 -0.7L159.2 -0.6ZM223 49.2L221.5 48L219.2 47.1L217 47.1L214.8 47.8L212.8 49L209.5 52.7L206.5 55L206 55.8L205.9 56.5L206.1 58L207.3 59.5L208.3 60.2L209.7 61L212.5 61.8L214.8 62L217 61.8L219.2 61.3L221.5 60.4L222.8 59.5L223.5 58.8L224.3 57.2L224.7 55.8L224.7 53.5L224.5 52L223.9 50.5Z" fill="#FFBDBD" fill-rule="evenodd"/><path d="M-2 -2L133.2 -2L133.9 4L135.5 13.8L136.1 16.8L137.1 19.8L138.9 23.5L145 34L146.9 37.8L148.8 42L153.9 55L155.3 57.2L156.7 58.8L159.2 60.2L162.2 61.2L168 62.5L175.8 63.7L180.2 64L190.8 64L204.2 63.7L214 64.4L218.5 63.9L222.2 62.7L224.5 61.4L226.2 59.5L226.8 58L227 56.5L227.1 54.2L226.8 52L226.1 49.8L225.2 48.4L224.5 47.5L223 46.3L221.5 45.5L220 45.1L218.5 44.9L216.2 45L213.2 46L208.8 48.5L208 48.8L206.5 48.8L205 48.5L200.5 46.8L198.2 46.3L186.2 44.8L183.2 44.2L181.8 43.7L180.9 43L180.2 42.1L179.8 40.8L179.6 39.2L180.2 25.8L179.6 17.5L179.4 10L178.8 2.5L178.7 -2L244.8 -2L244.8 163L174.2 163L170.5 157.4L166.8 152.3L163.8 148.6L161.1 145.8L157.8 143.1L144.2 134L139 130.3L135.2 127.4L120.6 112.8L119.6 111.2L118.9 109.8L118.6 107.5L119 105.2L119.6 103.8L120.7 101.5L122.2 99.2L127.8 92.3L131.5 87.2L134 83.5L135.7 80.5L137.4 76.8L138.5 73L138.9 69.2L138.7 67L136.9 63.2L133.5 57.2L130.8 53.7L127.8 50.8L117.2 42.4L112.8 39.4L109 37.4L106.8 36.5L104.5 35.9L102.2 35.7L98.5 36.1L95.5 37.2L94 38.4L92 40.8L90.2 42.2L88 43.4L81.2 46.6L79.8 47.6L78.4 49L77.5 50.5L76.8 52.1L73.8 61L72 65.5L69.8 69.2L63.2 79.5L60 85.8L58.5 89.5L58.1 92.5L58.2 94L58.7 96.2L60.6 101.5L61.4 104.5L61.6 106.8L61.6 112L62 115L62.8 117.2L64.5 120.2L66.2 122.5L68.5 124.7L70.8 126.3L73 127.5L79 130.2L83.5 132L95.5 135.2L97.8 136.2L100 138.1L101.2 139.8L102 141.2L103.1 145L104.9 155.5L105.8 163L-2 163Z" fill="#FFEDED" fill-rule="evenodd"/><path d="M-2 -2L95.1 -2L99 4.8L99.8 7L100.4 9.2L100.6 11.5L100.5 14.5L99.9 17.5L99.1 19.8L97.9 22L96.1 24.2L94.5 25.8L91.8 27.8L90.9 28.8L90.2 29.8L89.9 31L89 36.2L88.4 37.8L87.8 38.5L85.8 39.8L80.5 41.6L78.2 42.6L76 44.4L74.7 46L73.8 47.9L73 49.8L71.2 56.5L70 59.6L67.8 63.5L59.7 76L56.8 81.2L54.6 85.8L53.7 88L53.2 90.2L53 92.5L53.1 94L53.6 96.2L57.2 106.1L59.9 116.5L61.8 120.8L64.8 125.8L66.2 127.7L68.5 129.8L70.8 131.2L78.2 135L82 136.5L93.2 139.6L95.1 140.5L96.2 141.5L97.6 143.5L98.5 146.3L100 155.5L100.9 163L-2 163ZM198.6 -2L244.8 -2L244.8 163L177.2 163L174.2 160.1L166 149.5L161.5 144.5L158.5 142L140.5 129.1L135.2 125L122.7 112.8L121.2 110.5L120.7 109L120.5 107.5L120.8 105.2L121.5 103L122.6 100.8L124.1 98.5L131.5 88.8L135.5 82.8L137.8 78.2L140.5 71.3L141.5 69.2L142.8 67.6L145 66.1L146.5 65.6L148.8 65.2L154 65.1L166 65.4L179.5 66.2L205.8 66.1L209.5 66.4L214 67.1L216.2 67.3L220 66.8L223.8 65.7L226.8 64.2L228 63.2L229 62.1L229.9 60.2L230.4 58L230.4 55L230 52L229.4 49.8L228.5 47.5L226.9 45.2L225.2 43.9L223 42.7L220 41.8L217.8 41.6L215.5 41.9L214 42.3L208 44.7L205.8 44.7L203.5 43.9L201.1 42.2L199.6 40.8L198.1 38.5L197.4 36.2L197.1 32.5L197.8 24.2L197.9 12.2L198.6 4.8ZM238 95.1L237.2 94.7L235.8 94.3L232.8 94.4L211.8 96.7L210.2 97L208.8 97.7L207.2 98.9L206.5 99.9L205.7 101.5L205.3 104.5L205.8 113.5L207.2 126.2L208 131.5L208.8 133.8L209.5 134.7L210.2 135.3L212.5 136.2L217.8 136.9L228.2 137.2L234.2 137.7L235.8 137.6L237.2 137.1L238 136.7L238.8 135.9L239.5 134.2L239.8 131.5L239.9 100.8L239.7 98.5L239.4 97L238.8 95.8Z" fill="#EDFFF2" fill-rule="evenodd"/><path d="M-2 -2L89.3 -2L90.2 0.1L92.2 7.8L92.6 10.8L92.5 13.8L92.1 15.2L91.4 16.8L90.4 18.2L86.5 22.8L84.2 27L83.5 28L82.5 28.8L79.5 30.2L77.5 31.6L75.1 34L73 36.8L72.1 38.5L71.1 41.5L68 55L67.4 56.5L66.5 58L65.5 59.2L64 60.4L57.3 64.8L54.6 67L46.5 75.2L45.2 77L44.5 79L44.2 81.2L44.3 84.2L45.1 91.8L45.8 94.8L47.5 98.5L51.7 106L55.1 110.5L56 112.8L58.2 120.2L63.2 131.5L63.8 133.8L63.9 136L62.6 146.5L62.1 149.5L61.1 152.5L57.5 160L56.5 163L29.6 163L28.8 160L22.4 142.8L19.5 136.8L14.5 127.6L13.1 125.5L11.8 124L9.2 122.1L7.8 120.7L4.8 116.6L2.5 114.1L0.2 112.2L-2 110.9ZM19.8 73.3L18.6 73.8L18 74.5L17.8 75.2L17.8 78.2L18.4 81.2L18.6 85L19.3 86.5L20.5 87.8L22 88.8L22.8 88.8L23.6 88L24.9 85L25.4 83.5L25.4 82L24.9 79.8L24.6 77.5L23.8 74.5L23.1 73.8L22 73.3ZM231.7 -2L240.9 -2L241.9 -0.5L242.9 1.8L243.8 4.8L244.4 7.8L244.8 10.3L244.8 17.6L244.3 21.2L243.5 24.2L242.4 27.2L241 29.8L239.5 31.5L238.8 32.1L237.2 32.7L235.8 32.8L234.2 32.3L232.8 31.1L231.4 29.5L230.2 27.2L229.3 25L228.1 19.8L227.7 13.8L227.8 10.8L228.6 5.5L229.5 2.5L230.5 0.1ZM144.2 69.2L145.8 68.4L147.2 68L151.8 67.6L166.8 67.6L178.8 67.9L201.2 67.9L205.8 68L208.8 68.5L211 69.4L213.6 71.5L216 74.5L216.7 76L217 77.5L216.9 79L216.1 81.2L214.5 84.2L210.7 90.2L205.8 96.7L204.2 98.9L202.8 102.2L202.1 105.2L200.9 118.8L200.9 135.2L201.2 138.8L204.6 154.8L204.8 157L204.4 159.2L203.5 160.6L202.8 161.3L201.2 162L199.8 162.5L197 163L183 163L181 162.6L179.5 162.1L177.2 160.9L175.8 159.8L174.2 158.3L166.1 148L162 143.5L158.5 140.7L141.2 128L137.1 124.8L126.7 115L124.5 112.8L123.3 111.2L122.3 109L122 106.8L122.4 104.5L123.5 101.5L125.3 98.5L131.5 90.2L135.6 84.2L138.2 79.8L142 71.7L143.3 70Z" fill="#A0FFC0" fill-rule="evenodd"/><path d="M75.2 2.1L76.8 2.4L81.2 4.6L85 5L85.8 5.2L86.9 6.2L87.3 7L87.6 8.5L87.7 10.8L87.3 13L86.1 16L84.2 19.8L82.8 21.7L81.2 23L79 24.1L77.5 24.5L76 24.3L75.2 23.9L73.5 22L72.6 20.5L71.7 18.2L70.9 14.5L70.7 12.2L70.9 10L71.8 6.2L72.4 4.8L73.4 3.2L74.5 2.3ZM236.5 4.4L237.2 4.6L238 5.1L238.8 6L239.5 7.4L240.3 10L240.7 13.8L240.4 17.5L239.5 20.6L238.8 21.9L238 22.8L237.2 23.3L236.5 23.6L235.8 23.5L235 23.1L234.2 22.4L233.5 21.2L232.8 19.5L232.3 17.5L232 13.8L232.4 10L233.3 7L234.2 5.5L235 4.8L235.8 4.4ZM145 70.7L146.5 70L148 69.6L151.8 69.3L203.5 69.4L206.5 69.8L209.1 70.8L211.1 72.2L213 74.5L213.8 76L214.2 77.5L214.1 79L213.4 81.2L210.5 86.5L202.3 99.2L201.1 102.2L200.2 106L198.9 118L198.9 135.2L199.4 139.8L201.8 151.8L202.2 155.5L201.9 157.8L201.6 158.5L200.5 159.6L199 160.3L196 161.1L193 161.4L187.8 161.4L181.8 161.1L179.5 160.6L177.2 159.5L175.8 158.3L174.5 157L166.7 147.2L162.6 142.8L159.2 140L142 127.1L137.5 123.5L127.5 114.2L125.4 112L124.4 110.5L123.5 108.2L123.4 106L123.8 103.8L125.1 100.8L127 97.8L132.5 90.2L136.6 84.2L138.8 80.5L142.8 73.1L144 71.5ZM39.2 89.3L40 89.7L40.8 91L42.7 97L42.7 99.2L41.4 103.8L40.7 105.2L40 106.2L39.2 106.7L34.8 107.7L33.2 107.9L32.5 107.6L31.5 106.8L30.7 105.2L29.4 100.8L29.2 98.5L29.2 94L29.5 92.7L30.2 91.6L31.8 90.8L37 89.3L38.5 89.1ZM7.1 95.5L8.5 94.7L13.8 93.6L15.2 93.4L16 93.6L16.8 94L17.7 95.5L19.8 102.2L20.5 105.2L20.8 109L21.2 110L22 110.9L22.8 111.5L24.1 112L26.5 112.3L28 112L31 110.5L31.8 110.3L32.5 110.5L34 111.6L43.8 121.6L44.5 122L45.2 122.1L45.7 121.8L46.1 121L47 117.2L47.4 113.5L47.7 112.8L48.2 112.1L49.8 111.4L51.2 111.2L52 111.4L52.8 111.8L53.4 112.8L54.5 116.5L55.9 125.5L54.5 138.2L53.3 143.5L50.6 151L49 154.8L48.2 155.7L47.5 156.2L46 156.6L40 157.5L37.8 157.2L36.1 156.2L34.2 154L29.5 147.3L28.7 145.8L27.8 143.5L24.7 133L23.5 126.5L22.2 124L20.5 122.4L16 119.8L14.5 119.5L11.4 119.5L10 118.9L9.2 118L7.5 115L6.1 112L5.4 109.8L5.2 108.2L5.2 104.5L5.8 100.8L6 97.8L6.4 96.2Z" fill="#00FF90" fill-rule="evenodd"/><path d="M145.8 72.1L147.2 71.3L148.8 71L152.5 70.6L202 70.7L205 71.1L207.2 71.7L209.5 73.2L211.2 75.2L211.9 76.8L212.2 78.2L212.1 79.8L211.6 81.2L209.7 85L200.9 99.2L199.7 102.2L198.8 106L197.5 118.7L197.5 135.2L198 139.8L200.1 151L200.5 154.8L200.1 157L199.7 157.8L198.2 158.9L196 159.7L193.8 160.1L184.8 160.2L182.5 160L180.2 159.6L178.8 159.1L177.2 158.2L175 156.1L166.8 145.9L163 141.9L159.2 138.8L138.2 122.7L128.5 113.8L126.8 112L125.7 110.5L124.8 108.2L124.6 106L125 103.8L126.3 100.8L128.1 97.8L137.2 85L143.4 74.5L144.6 73ZM17.5 111.1L18.2 111.3L19 112.8L19 114.3L18.2 115.6L17.5 115.4L16.8 114.2L16.7 113.5L16.8 111.9ZM25.8 115.9L26.5 116.8L26.7 119.5L26.6 122.5L26.1 123.2L25.8 123.5L25 123L24.4 121.8L24.1 120.2L24.1 118.8L24.2 117.2L24.5 116.5L25 116ZM39.2 142.4L40.8 142.6L42.1 143.5L43 145L43.3 146.5L43.1 148L42.4 149.5L41.5 150.4L40 150.9L38.5 150.6L37.8 150.1L36.8 148.8L36.4 147.2L36.4 145.8L36.9 144.2L37.8 143.2Z" fill="#00FF48" fill-rule="evenodd"/><path d="M146.5 73.3L148 72.6L149.5 72.2L153.2 71.9L201.2 71.9L204.2 72.3L206.5 73L208.6 74.5L209.8 76L210.4 77.5L210.6 79L210.3 80.5L209.8 82L208.2 85L199.6 99.2L198.4 102.2L197.5 106L196.3 118L196.3 134.5L196.8 139.7L198.9 151L199.1 154L198.7 156.2L198.2 157L197.4 157.8L195.9 158.5L193.8 159L186.2 159.1L183.2 159L181 158.7L179.5 158.3L178 157.5L176.5 156.3L175.1 154.8L167.2 145L163.7 141.2L160 138.2L139 121.9L129.7 113.5L127 110.4L126 108.2L125.8 106L126.2 103.8L127.4 100.8L129.2 97.8L137.8 85.8L143.5 76.5L145 74.6Z" fill="#00FF00" fill-rule="evenodd"/><path d="M147.2 74.4L149.5 73.5L153.2 73.1L200.5 73.1L203.5 73.4L205.8 74.2L207.3 75.2L208.5 76.8L208.8 77.5L209.1 79L208.9 80.5L208.4 82L207.2 84.2L198.6 98.5L197.1 102.2L196.3 106L195.2 118L195.1 134.5L195.6 139.8L197.5 150.2L197.8 153.2L197.4 155.5L196.9 156.2L196 157L194.5 157.7L192.2 158L184.8 158.1L181 157.6L179.5 157.1L178.1 156.2L175.8 154L167.8 144.2L164.3 140.5L161.5 138.1L139.8 121.1L130.4 112.8L129 111.2L127.9 109.8L127.2 108.2L127 106L127.4 103.8L128.6 100.8L130.4 97.8L138.4 86.5L144.2 77.5L145.8 75.6Z" fill="#00FF00" fill-rule="evenodd"/><path d="M126.8 6.7h0M141.1 6.7h0M155.3 6.7h0M169.6 6.7h0M198.1 6.7h0M226.6 6.7h0M134 13.9h0M148.2 13.9h0M162.5 13.9h0M176.7 13.9h0M233.7 13.9h0M141.1 21.1h0M155.3 21.1h0M169.6 21.1h0M134 28.4h0M148.2 28.4h0M162.5 28.4h0M176.7 28.4h0M141.1 35.6h0M155.3 35.6h0M169.6 35.6h0M77 42.9h0M91.2 42.9h0M105.5 42.9h0M148.2 42.9h0M162.5 42.9h0M176.7 42.9h0M69.8 50.1h0M84.1 50.1h0M98.3 50.1h0M112.6 50.1h0M155.3 50.1h0M169.6 50.1h0M183.8 50.1h0M198.1 50.1h0M212.3 50.1h0M77 57.3h0M91.2 57.3h0M105.5 57.3h0M119.7 57.3h0M162.5 57.3h0M176.7 57.3h0M191 57.3h0M205.2 57.3h0M219.5 57.3h0M69.8 64.6h0M84.1 64.6h0M98.3 64.6h0M112.6 64.6h0M126.8 64.6h0M169.6 64.6h0M183.8 64.6h0M5.7 71.8h0M62.7 71.8h0M77 71.8h0M91.2 71.8h0M105.5 71.8h0M119.7 71.8h0M134 71.8h0M148.2 71.8h0M162.5 71.8h0M176.7 71.8h0M191 71.8h0M205.2 71.8h0M69.8 79.1h0M84.1 79.1h0M98.3 79.1h0M112.6 79.1h0M126.8 79.1h0M141.1 79.1h0M155.3 79.1h0M169.6 79.1h0M183.8 79.1h0M198.1 79.1h0M212.3 79.1h0M62.7 86.3h0M77 86.3h0M91.2 86.3h0M105.5 86.3h0M119.7 86.3h0M134 86.3h0M148.2 86.3h0M162.5 86.3h0M176.7 86.3h0M191 86.3h0M205.2 86.3h0M55.6 93.5h0M69.8 93.5h0M84.1 93.5h0M98.3 93.5h0M112.6 93.5h0M141.1 93.5h0M155.3 93.5h0M169.6 93.5h0M183.8 93.5h0M198.1 93.5h0M62.7 100.8h0M77 100.8h0M91.2 100.8h0M105.5 100.8h0M119.7 100.8h0M134 100.8h0M148.2 100.8h0M162.5 100.8h0M176.7 100.8h0M191 100.8h0M55.6 108h0M69.8 108h0M84.1 108h0M98.3 108h0M112.6 108h0M126.8 108h0M141.1 108h0M155.3 108h0M169.6 108h0M183.8 108h0M198.1 108h0M62.7 115.3h0M77 115.3h0M91.2 115.3h0M105.5 115.3h0M119.7 115.3h0M134 115.3h0M148.2 115.3h0M162.5 115.3h0M176.7 115.3h0M191 115.3h0M69.8 122.5h0M84.1 122.5h0M98.3 122.5h0M112.6 122.5h0M126.8 122.5h0M141.1 122.5h0M155.3 122.5h0M169.6 122.5h0M183.8 122.5h0M198.1 122.5h0M48.4 129.7h0M119.7 129.7h0M134 129.7h0M148.2 129.7h0M162.5 129.7h0M176.7 129.7h0M191 129.7h0M41.3 137h0M98.3 137h0M112.6 137h0M126.8 137h0M141.1 137h0M155.3 137h0M169.6 137h0M183.8 137h0M198.1 137h0M48.4 144.2h0M119.7 144.2h0M134 144.2h0M148.2 144.2h0M162.5 144.2h0M176.7 144.2h0M191 144.2h0M112.6 151.5h0M126.8 151.5h0M141.1 151.5h0M155.3 151.5h0M169.6 151.5h0M183.8 151.5h0M198.1 151.5h0M119.7 158.7h0M134 158.7h0M148.2 158.7h0M162.5 158.7h0M176.7 158.7h0M191 158.7h0M84.1 6.7h0M84.1 6.7h0M98.3 6.7h0M77 13.9h0M91.2 13.9h0M41.3 21.1h0M69.8 21.1h0M84.1 21.1h0M19.9 28.4h0M34.2 28.4h0M48.4 28.4h0M62.7 28.4h0M12.8 35.6h0M41.3 35.6h0M55.6 35.6h0M5.7 42.9h0M19.9 42.9h0M34.2 42.9h0M48.4 42.9h0M62.7 42.9h0M12.8 50.1h0M41.3 50.1h0M5.7 57.3h0M34.2 57.3h0M5.7 71.8h0M77 57.3h0M69.8 64.6h0M34.2 100.8h0M12.8 108h0" stroke="#000" stroke-width="4.1" stroke-linecap="round" fill="none"/><use href="#c1"/></g>
<rect x="64.8" y="41.6" width="239.6" height="157.7" fill="none" stroke="#000" stroke-width="3.3"/>
<path d="M84.7 199.3V205.2M144.6 199.3V205.2M204.5 199.3V205.2M264.4 199.3V205.2M64.8 136.3H58.5M64.8 41.6H58.5" stroke="#000" stroke-width="2.8" stroke-linecap="round" fill="none"/>
<path d="M64.8 199.3V202.9M74.7 199.3V202.9M94.7 199.3V202.9M104.7 199.3V202.9M114.7 199.3V202.9M124.7 199.3V202.9M134.6 199.3V202.9M154.6 199.3V202.9M164.6 199.3V202.9M174.6 199.3V202.9M184.6 199.3V202.9M194.5 199.3V202.9M214.5 199.3V202.9M224.5 199.3V202.9M234.5 199.3V202.9M244.4 199.3V202.9M254.4 199.3V202.9M274.4 199.3V202.9M284.4 199.3V202.9M294.4 199.3V202.9M304.4 199.3V202.9M64.8 199.3H60.5M64.8 183.6H60.5M64.8 167.8H60.5M64.8 152H60.5M64.8 120.5H60.5M64.8 104.7H60.5M64.8 89H60.5M64.8 73.2H60.5M64.8 57.4H60.5" stroke="#000" stroke-opacity="0.3" stroke-width="0.7" fill="none"/>
<text x="84.7" y="225.6" font-size="18" text-anchor="middle">60E</text>
<text x="144.6" y="225.6" font-size="18" text-anchor="middle">120E</text>
<text x="204.5" y="225.6" font-size="18" text-anchor="middle">180</text>
<text x="264.4" y="225.6" font-size="18" text-anchor="middle">120W</text>
<text x="53.9" y="47.9" font-size="18.3" text-anchor="end">30N</text>
<text x="53.9" y="142.6" font-size="18.3" text-anchor="end">EQ</text>
<text x="63.4" y="34.7" font-size="20.2">(a) SEN_IO</text>
<text x="305.4" y="34.2" font-size="18" text-anchor="end">Precip</text>
<g transform="translate(318.7 40)" clip-path="url(#cp)"><rect x="0" y="0" width="242.9" height="161" fill="#FF3A3A"/><path d="M-2 -2L244.8 -2L244.8 163L-2 163ZM103.5 79.8L102.8 81.2L102.7 82L102.9 83.5L103.7 85L104.4 85.8L106 86.8L108.2 87.5L110.2 87.2L112 86.4L113.3 85L113.8 83.5L113.8 82.8L113.5 81.3L112.5 79.8L111.2 78.7L109.8 78.1L107.5 77.9L105.2 78.5Z" fill="#FF5C5C" fill-rule="evenodd"/><path d="M-2 -2L244.8 -2L244.8 163L-2 163ZM94 44.5L92.5 45L91.8 45.5L91 46.3L90.2 47.5L89.5 49.7L89.3 51.2L89.3 55L89.6 56.5L90.4 58.8L91.2 60.2L92.5 62L93.2 62.6L94.8 63.4L95.5 63.6L97 63.5L98.5 63L100 61.8L101.1 60.2L101.6 58.8L101.9 57.2L102 55.8L101.9 53.5L101.5 51.8L100.8 49.7L100 48.2L98.5 46.3L97.8 45.6L96.2 44.7L95.5 44.5ZM100.8 72.3L99.2 73.4L98.4 74.5L97.8 76.2L97.5 78.2L97.6 80.5L98.1 82.8L99 85L100.5 87.2L102.2 89.1L103.8 90.3L105.2 91.2L106.8 91.7L108.2 91.8L110.5 91.4L112.8 90.5L114.2 89.5L115.6 88L116.5 86.6L117.1 85L117.2 83.5L117.1 82L116.5 80.1L115.8 78.6L114.2 76.5L112.8 74.8L111.2 73.5L109.8 72.5L107.5 71.6L106 71.3L104.5 71.3L102.2 71.7ZM142.3 154L142.2 154.8L142.4 155.5L142.8 156.2L143.5 157L145.8 158.2L148 158.7L151 158.8L153.2 158.4L154.8 157.5L155.5 156.2L155.5 154.8L154.5 153.2L153.6 152.5L152.2 151.8L149.5 151L147.2 150.9L145 151.4L143.3 152.5L142.6 153.2Z" fill="#FF9090" fill-rule="evenodd"/><path d="M-2 -2L244.8 -2L244.8 163L158.6 163L159.2 160.7L159.6 158.5L159.5 155.5L159 154L158 152.5L157 151.5L155.5 150.4L152.5 148.9L148.8 147.6L130.8 143L126.1 141.2L121.8 139.3L121.2 140.5L120.2 145.4L119.6 151.8L119.6 154.8L119.9 157L121.2 163L-2 163ZM90.2 37.9L88 38.9L86.7 40L85.8 41.5L85.3 43.8L85.4 49.8L85.9 55.8L86.8 60.2L88.4 65.5L91.7 73.8L94.8 83.5L96.3 86.5L97.9 88.8L101.5 92.8L103 94L104.5 94.8L106 95.3L107.5 95.5L109 95.3L110.5 94.9L112.8 93.8L115 92.3L116.5 90.9L118.1 88.8L118.8 87.2L119.4 85L119.4 82.8L118.8 80.2L117.2 76.9L112.2 68.5L109.9 64L107.9 58.8L104.5 47.8L102.2 42.4L100.8 39.7L99.2 38.1L98.5 37.6L97 37.1L94 37ZM217.8 47.7L217 47.9L216.2 48.4L215.2 49.8L214.4 52L214 55L214.3 57.2L215.1 58.8L216.2 60L217 60.3L217.8 60.4L218.5 60.3L219.2 59.9L220 59.1L220.7 58L221.3 56.5L221.5 54.2L221.2 52L220.3 49.8L219.2 48.4L218.5 47.9Z" fill="#FFBDBD" fill-rule="evenodd"/><path d="M-2 -2L244.8 -2L244.8 163L164.4 163L163.6 154.8L162.7 152.5L161.5 151L159.7 149.5L157.8 148.3L150.7 145L147.2 143.1L142.8 140.2L139 137.5L134.5 133.3L124.7 122.5L113.5 110.7L111.2 108.9L110.5 108.7L109.8 108.6L109 109L108.3 109.8L107.8 111.2L107.4 113.5L107.3 118L107.4 138.2L109.5 163L-2 163ZM27.2 112.8L24.2 112.5L19.8 112.6L17.5 113L15.2 114L4 122.1L0.2 125.1L-0.8 126.2L-1.2 127L-1.4 127.8L-1 129.2L0.2 130.8L4.8 135L7.8 137.3L10 138.7L13 140.2L19.8 142.9L22 143.3L23.5 143L25 141.8L26.5 139.8L31 131.2L32.4 127L33.5 121L33.7 118.8L33.6 117.2L33.2 116.1L32.5 115L31.5 114.2L30.2 113.6ZM87.2 33.7L84.2 35L82.1 37L80.9 39.2L80.5 41.5L80.6 46L82.2 58L83.3 64L84.5 68.5L90.7 84.2L92.1 87.2L94.7 91L99.2 96.2L102.2 98.6L103.8 99.3L105.2 99.8L106.8 99.9L108.2 99.7L110.5 98.7L114.2 96L117.2 93.2L119.5 90.3L120.6 88L121.2 85.8L121.3 83.5L120.8 80.5L119.6 77.5L116.3 70.8L114.4 66.2L112.5 60.2L110.7 52.8L109.6 49L106.3 40L104.9 37L104 35.5L103 34.4L101.5 33.2L100 32.5L97.8 32L95.5 31.9L93.2 32.2ZM155.5 1.2L154.1 1.8L153.3 2.5L152.9 3.2L152.7 4.8L153.1 9.2L153.3 14.5L153.8 19L154.1 23.5L155.9 39.2L156.7 41.5L157.2 42.2L158.5 43.3L165.2 46.2L166.8 46.4L167.5 46L168.2 45.2L170 42.2L171.4 39.2L172 36.2L171.9 34L171.4 29.5L171.2 22.8L170.6 17.5L170.5 10.8L169.6 4L169 2.6L168.2 1.8L166.8 1.2L160.8 1ZM217.8 41L216.2 41.4L215 42.2L214 43.3L212.8 45.2L211.9 47.5L211.3 49.8L210.8 54.2L210.9 55.8L211.2 57.2L211.9 58.8L212.8 60.2L215.5 63.4L217 64.2L217.8 64.3L218.5 64.2L220 63.3L222.3 60.2L223.6 58L224.2 56.5L224.7 53.5L224.1 49L223.4 46.8L222.3 44.5L221.3 43L220 41.8L218.5 41.1ZM169 48.3L167.5 48.1L166.8 48.2L162.2 49.6L160.8 50.5L160 51.7L159.8 52.8L160 54.2L161.4 59.5L162.3 61.8L163 62.7L163.8 63.2L164.5 63.5L166 63.5L169.8 62.7L171.5 61.8L172.1 61L172.5 60.2L172.6 58L172.2 53.5L171.8 51.2L171.2 49.9L170.5 49.1Z" fill="#FFEDED" fill-rule="evenodd"/><path d="M12 -2L12.9 2.5L20.8 34L21.2 37L21 39.2L20.2 43L14.8 63.2L9.9 80.5L9.2 82L7.8 84.2L-0.2 94.8L-2 96.3L-2 -2ZM212.2 -2L244.8 -2L244.8 37.1L241.8 36.3L222.2 30L219.2 28.8L217.5 27.2L216.6 25.8L215.8 22.8L213.1 4.8ZM181.8 3.5L183.2 3.4L184.8 3.8L188.5 5.4L191.5 6.9L193.4 8.5L194.3 10L194.7 11.5L195.4 16L195.6 21.2L196.1 25.8L196.4 31L196.9 34.8L196.9 37.8L195.4 49.8L194.9 52L194.2 53.5L193 54.7L191.5 55.1L190 55.1L187.8 54.6L186.2 54.1L184.8 53.2L184 52.5L183.2 51.2L182.3 48.2L180.1 34.8L180 22.8L179.3 15.2L179.3 8.5L179.5 6.2L180.2 4.5L181 3.8ZM116.1 58L116.5 56.9L117.2 56.1L118.8 55.4L120.2 55.3L122.5 55.6L130.1 57.2L139.8 59L145.8 60.8L159.8 67L169.6 70.8L171.2 71.1L172.8 70.9L173.5 70.4L174.6 69.2L177.2 65.2L178.8 64L180.2 63.3L183.2 62.8L187.8 62.6L201.2 61.5L205.8 61.3L208 61.6L209.5 62.3L211.2 64L213.5 67.8L214.8 69.3L216.2 70.4L217 70.6L218.5 70.6L220 69.9L221.5 68.5L222.5 67L225.2 61.9L226 61L227.5 59.9L229 59.4L232 58.8L244.8 57.7L244.8 95.5L241 96.6L231.2 100.1L229.8 100.5L228.2 100.5L226.8 100.1L225.2 99L223.7 97L220 91.3L218.7 89.5L217 88L215.5 87.5L214 87.3L211.8 87.7L195.2 92.4L191.5 93.3L190 93.3L188.5 93L184.8 91.1L183.2 90.6L181.8 90.7L180.8 91L179.5 91.9L178 93.9L176.5 96.6L175 100L173.5 104.5L172.8 108.4L172.1 113.5L171.9 118.8L172.7 130.8L173.3 134.5L174.9 140.5L175 142L174.7 143.5L174.3 144.2L173.5 145.1L172 145.8L170.5 146.1L168.2 146L165.2 145.7L158.5 144.3L154.8 142.9L151 140.8L141.2 134.2L136.8 130.8L133 127.3L119.4 113.5L116.3 109.8L114 106L113.2 103.8L113.3 102.2L113.5 101.5L114.8 99.2L118.8 94.4L121.1 91L122.5 87.8L123 85.8L123.1 84.2L122.9 82L122.2 79L118.7 70.8L116.8 64.8L116 61L115.9 59.5ZM61 65.3L61.8 65.9L62.4 67L62.7 68.5L62.6 70L58.9 93.2L57.6 100L56.7 102.2L55.5 104.5L44.5 121.8L43.5 124L43.3 126.2L43.6 127.8L44.5 130L61 158.5L62.2 160.8L63 163L23.4 163L24.9 156.2L27.9 145.8L30.2 139.9L33.9 132.2L35 129.2L36 124.8L36.7 120.2L36.8 118L36.7 115.8L35.8 113.5L34.8 112.4L31 109.8L29.6 108.2L25.4 101.5L23.8 97.8L23.2 94.8L23.1 90.2L23.2 79L23.7 76L24.2 74.9L25.3 73.8L26.6 73L28.8 72.2L56.5 65.3L59.5 64.9ZM244.8 110.4L244.8 163L233.5 163L230.5 161.9L217 159L215.5 158.5L213.9 157.8L212.2 156.2L211.1 154.8L210.4 153.2L197.8 121.8L196 118.9L192.4 115L192.4 114.2L194.5 113.8L198.2 113.9L202.8 114.7L213.2 116.8L215.5 117.1L217.8 117.1L221.5 116.4L240.2 111.4Z" fill="#EDFFF2" fill-rule="evenodd"/><path d="M183.2 6.8L184 6.7L185.5 7.1L188.5 8.4L190.1 9.2L191.5 10.8L192.2 13.4L192.7 16.8L192.8 21.2L193.4 25.8L193.6 30.2L194.2 37L192.6 49.8L192 51.2L191.5 51.8L190.8 52.1L189.2 52.1L187.8 51.7L186.2 50.7L185.6 49.8L184.8 46.4L183.2 37.4L182.8 33.2L182.7 22.8L182.1 16.8L182 12.2L182.1 8.5L182.5 7.3ZM121.8 61.4L122.5 61.1L124 60.9L131.5 60.8L136.8 61.2L141.2 62.2L145.8 63.7L156.5 68.5L165.2 71.9L170.5 74.3L172.8 75L174.2 74.8L175 74.4L176.4 73L178.7 70L180.2 68.8L181.8 68.5L183.2 68.7L184.8 69.5L186.2 71L187.6 73L188.6 75.2L188.8 77.5L188.3 79.8L187.6 81.2L186.2 83L184.8 84.4L183.2 85.2L178.8 86.8L177.2 88L176.1 89.5L175 91.8L171.2 101.5L170.1 106L169.2 112.8L169 117.2L169.3 124L169.2 127L168.4 133.8L168.3 138.2L168.1 139L167.4 139.8L166 140.2L163.8 140.1L160 139.7L157 138.9L151.8 136.7L145 132.7L138.2 128L133 123.6L123.2 114.2L120.5 111.2L118.4 108.2L117.4 106L117 104.5L116.9 103L117.1 101.5L118 99.2L121.8 93L123.2 90L124.3 87.2L124.8 84.2L124.7 82L124.4 79.8L121.8 71.5L120.8 67L120.7 63.2L121 62.2Z" fill="#A0FFC0" fill-rule="evenodd"/><path d="M128.5 64.1L131.5 63.3L135.2 63.1L139 63.5L143.5 64.7L147.2 66.2L155.7 70L166 74.2L170.2 76.8L171.9 78.2L173.1 79.8L173.7 81.2L173.8 82.8L173.1 88L171.8 93.2L168.8 102.2L167.7 108.2L167.1 114.2L167.2 123.2L166.9 126.2L166.1 128.5L165.2 129.9L163.8 131.4L162.2 132.3L160.8 132.9L158.5 133.5L156.2 133.6L154.8 133.5L151 132.5L146.5 130.2L139 125.1L129.5 117.2L124.2 112L122.4 109.8L121.1 107.5L120.5 106L120 103.8L120.2 100.8L121.2 97.8L125.3 88.8L126.2 85.8L126.5 83.5L126.4 79.8L124.8 71.5L125 68.5L125.5 67L126.2 65.8L127.4 64.8ZM181.8 76L182.2 76.8L182.3 77.5L181.8 78.7L181 79.2L180.2 79L179.9 78.2L180.2 76.8L181 75.9Z" fill="#00FF90" fill-rule="evenodd"/><path d="M130.8 65.9L132.2 65.4L133.8 65L136.8 64.9L139.8 65.2L143.5 66.3L146.5 67.4L155.5 71.5L164.7 75.2L166.8 76.4L168.2 77.5L170 79.8L170.5 81.2L170.8 82.8L170.7 87.2L170 91.8L167.1 101.5L166.1 106.8L165.4 113.5L165.4 121.8L165.2 124L164.5 126.2L163.8 127.6L162.2 129.1L160.8 129.9L157.8 130.8L156.2 130.9L154 130.7L152.5 130.4L150.2 129.5L146.5 127.4L139 122.3L130.8 115.5L127.8 112.8L125.7 110.5L124.1 108.2L123.3 106.8L122.5 103.8L122.4 102.2L122.7 100L123.8 96.2L127.2 88L128.2 83.5L128.3 79.8L127.3 73L127.5 70L128.5 67.8L129.2 66.9Z" fill="#00FF48" fill-rule="evenodd"/><path d="M133 67.3L135.2 66.8L138.2 66.7L141.2 67.2L144.2 68.1L154 72.5L163.8 76.5L166.3 78.2L167.1 79L168 80.5L168.5 82L168.8 83.5L168.6 88L167.8 92.5L165.4 100.8L164.4 106L163.7 112.8L163.6 121L163.4 123.2L162.9 124.8L162 126.2L160.8 127.4L159.2 128.2L157.8 128.6L156.2 128.8L153.2 128.4L150.2 127.2L145.8 124.6L139 119.8L131.5 113.6L127.7 109.8L126.2 107.9L125.3 106L124.8 104.5L124.5 103L124.5 101.5L124.8 99.2L125.9 95.5L129.1 87.2L129.7 85L130.1 82.8L130.2 79.8L129.5 73.8L129.6 71.5L130 70L130.8 68.9L131.5 68.2Z" fill="#00FF00" fill-rule="evenodd"/><path d="M134.5 69.2L136.8 68.6L139 68.7L142 69.2L144.2 70L153.2 74.1L162.2 77.8L164.5 79.2L165.2 80L166 81.2L166.5 82.8L166.7 84.2L166.5 88L165.9 91.8L163.4 100.8L162.5 105.2L161.8 112L161.5 121.8L160.7 124L160 124.9L158.5 126L156.2 126.5L154.8 126.5L153.2 126.2L150.2 124.9L146.2 122.5L140 118L132.8 112L129.1 108.2L128 106.8L127.3 105.2L126.8 103.8L126.6 102.2L126.6 100.8L127 98.5L127.9 95.5L131.1 87.2L132 83.5L132.2 80.5L131.7 74.5L131.8 72.2L132.2 71.1L133 70.1Z" fill="#00FF00" fill-rule="evenodd"/><path d="M134.9 71.8h0M127.7 79.1h0M142 79.1h0M156.2 79.1h0M134.9 86.3h0M149.1 86.3h0M163.4 86.3h0M127.7 93.5h0M142 93.5h0M156.2 93.5h0M134.9 100.8h0M149.1 100.8h0M163.4 100.8h0M127.7 108h0M142 108h0M156.2 108h0M134.9 115.3h0M149.1 115.3h0M163.4 115.3h0M142 122.5h0M156.2 122.5h0M149.1 129.7h0M163.4 129.7h0M127.7 6.7h0M156.2 6.7h0M156.2 21.1h0M184.7 6.7h0M191.9 13.9h0M99.2 79.1h0M113.5 79.1h0M106.4 86.3h0M170.5 93.5h0" stroke="#000" stroke-width="4.1" stroke-linecap="round" fill="none"/><use href="#c1"/></g>
<rect x="320.3" y="41.6" width="239.6" height="157.7" fill="none" stroke="#000" stroke-width="3.3"/>
<path d="M340.3 199.3V205.2M400.2 199.3V205.2M460.1 199.3V205.2M520 199.3V205.2" stroke="#000" stroke-width="2.8" stroke-linecap="round" fill="none"/>
<path d="M320.3 199.3V202.9M330.3 199.3V202.9M350.3 199.3V202.9M360.3 199.3V202.9M370.3 199.3V202.9M380.2 199.3V202.9M390.2 199.3V202.9M410.2 199.3V202.9M420.2 199.3V202.9M430.2 199.3V202.9M440.1 199.3V202.9M450.1 199.3V202.9M470.1 199.3V202.9M480.1 199.3V202.9M490.1 199.3V202.9M500 199.3V202.9M510 199.3V202.9M530 199.3V202.9M540 199.3V202.9M550 199.3V202.9M559.9 199.3V202.9" stroke="#000" stroke-opacity="0.3" stroke-width="0.7" fill="none"/>
<text x="340.3" y="225.6" font-size="18" text-anchor="middle">60E</text>
<text x="400.2" y="225.6" font-size="18" text-anchor="middle">120E</text>
<text x="460.1" y="225.6" font-size="18" text-anchor="middle">180</text>
<text x="520" y="225.6" font-size="18" text-anchor="middle">120W</text>
<text x="319" y="34.7" font-size="20.2">(b) WSGEN</text>
<text x="561" y="34.2" font-size="18" text-anchor="end">Precip</text>
<g transform="translate(574.3 40)" clip-path="url(#cp)"><rect x="0" y="0" width="242.9" height="161" fill="#FF5C5C"/><path d="M-2 -2L244.8 -2L244.8 163L-2 163ZM73.8 112.4L73.8 112.8L74.5 113.1L74.7 112.8L74.5 112.3ZM112.8 77.3L111.2 78.2L110.7 79L110.2 80.5L110.4 82L111.2 83.3L112 83.9L113.5 84.4L115 84.2L116.4 83.5L117 82.8L117.5 81.2L117.4 79.8L116.6 78.2L115.8 77.5L114.2 77ZM143.5 152.5L143.6 153.2L144.1 154L145.3 154.8L146.5 155.1L148 155.3L149.5 155.2L150.6 154.8L151.1 154L150.9 153.2L150.2 152.4L149.3 151.8L147.2 151L145.8 151L145 151.1L143.9 151.8Z" fill="#FF9090" fill-rule="evenodd"/><path d="M-2 -2L244.8 -2L244.8 163L-2 163ZM70.1 109.8L69.9 110.5L69.8 112L70 113.5L70.8 115.2L73 118.2L75.2 120.3L76.8 121.4L77.5 121.7L79 121.8L82.3 121L87.6 118.8L88.7 118L89.2 117.2L89.4 116.5L89.5 115L89.2 114.2L88.6 113.5L84.8 111.2L79.9 109L76 107.9L73 107.8L71.5 108.2L70.8 108.8ZM109 71.6L107.5 72.4L106 73.7L104.7 75.2L103.9 76.8L103.3 78.2L103 80.5L103.3 82.8L103.8 84.2L104.8 85.8L106 86.8L107.5 87.7L109.8 88.4L111.2 88.6L113.5 88.5L115.8 87.9L117.2 87.2L118.8 86.1L119.5 85.2L120.4 82.8L120.5 79.8L120.2 78.2L119.5 76.2L118.8 75L117.7 73.8L116.5 72.8L115 72L113.5 71.5L112 71.2L110.5 71.2ZM131.6 151L131.3 152.5L131.5 154L131.8 154.8L132.9 156.2L134.5 157.6L136 158.6L138.2 159.6L140.5 160.3L145.8 161.3L148.8 161.4L151.8 161.3L154 160.5L155.2 159.2L155.8 157.8L156.1 155.5L155.8 154L155.1 152.5L154 151.3L152.5 150.2L150.2 148.9L147.2 147.7L144.2 146.7L142 146.1L139.8 145.9L138.2 146.1L136.8 146.5L135.2 147.2L133.8 148.2L132.5 149.5ZM217 46.6L215 47.5L213.6 49L212.9 50.5L212.8 52.8L213.2 54.1L213.8 55L215.4 56.5L217 57.2L219.2 57.2L221 56.5L222.6 55L223 54.2L223.5 52.8L223.4 50.5L223 49.4L222.2 48.3L220.8 47.1L219.2 46.6Z" fill="#FFBDBD" fill-rule="evenodd"/><path d="M-2 -2L244.8 -2L244.8 163L160.7 163L159.9 159.2L159 154L157.9 151.8L156.6 150.2L154 148.4L147.5 145L144 142.8L133.7 134.5L112.3 118.8L108.2 116.1L106 115.3L105.2 115.3L104.4 115.8L103.8 116.8L103.5 118.8L106 135.4L107.5 140.2L115.5 158.5L116.9 163L-2 163ZM68.2 108.2L67.7 109.8L67.6 111.2L67.9 113.5L68.3 115L73.6 124.8L74.5 125.7L75.2 126.3L76.8 126.8L79 126.9L84.2 126.5L92.5 125.6L94 125.2L95.5 124.5L96.2 123.9L97.2 122.5L97.7 121L98 118.8L98.1 115.8L98 112.8L97.7 110.5L97.1 109L96.2 107.8L95.5 107.2L94 106.6L92.5 106.4L83.5 106.2L76 105.6L73 105.6L71.5 105.8L70 106.3L69.2 106.8ZM85.8 60.3L85 61.3L84.4 62.5L83.7 65.5L83 72.2L83.1 76L83.8 78.2L85.5 81.2L89.4 86.5L91.8 88.9L94 90.3L97 91.2L105.2 92.4L109 92.6L112.8 92L116.5 90.7L118 90L119.5 89L121 87.4L121.8 86L122.3 84.2L122.7 81.2L122.6 79L122.2 76.8L120.9 73L119.5 70.8L118 69L106 58.4L104.2 57.2L102.2 56.5L100.8 56.3L98.5 56.4L93.3 57.2L89.5 58.1L87.2 59.1ZM158.5 12.5L157.2 13L156.2 13.6L155 15.2L154.3 17.5L153.8 21.2L153.6 28L153 33.2L152.9 39.2L152.3 46.8L152.7 50.5L154.5 58.8L155 60.2L156.1 61.8L157.8 63L159.2 63.5L161.5 63.8L169 63.8L172.8 63.6L175 63.2L176.7 62.5L177.4 61.8L177.8 61L178.1 59.5L178 57.2L176.6 47.5L175.6 41.5L173.9 35.5L170.9 22L169.4 16L168.2 13.6L167.5 12.8L166 12L164.5 11.8L163 11.8ZM214.8 42.7L212.6 43.8L211 45.1L209.7 46.8L209 48.2L208.5 49.8L208.3 52L208.4 53.5L209.1 55.8L209.9 57.2L211.1 58.8L212.5 59.8L214.8 60.7L217 61.2L219.2 61.2L221.5 60.8L223 60.2L224.5 59.3L225.9 58L226.9 56.5L227.6 55L227.9 53.5L228.1 51.2L227.9 49.8L227.1 47.5L226.1 46L225.2 45L223.8 43.7L222.2 42.9L220.8 42.4L218.5 42.1L216.2 42.3Z" fill="#FFEDED" fill-rule="evenodd"/><path d="M-2 -2L99.2 -2L98.1 2.5L94.6 13L92.4 18.2L91.6 21.2L91.4 25.8L91.5 44.5L92.1 46.8L92.6 47.5L94 48.6L96.2 49.3L100.8 50.2L103.8 50.5L103 50.8L100 50.9L88 54.1L85 55.2L83.1 56.5L82 57.6L81.3 58.8L80.1 61.8L79.3 66.2L78.7 73L78.7 76L79.4 79L80.9 82L82.9 85L86.4 89.5L88.8 92L91 93.6L92.5 94.3L94.8 95.1L99.2 95.8L106 96.6L109 96.6L112 96.1L115.8 94.6L118.8 92.8L121 90.8L122.9 88L124 84.8L124.4 80.5L124.1 76L123.1 71.5L121.8 68.2L120.2 65.6L118 62.8L113.4 58L112.9 57.2L113.5 56.9L115.7 58L120.2 61L122.5 61.7L124 61.7L127.8 61.1L130 60.9L140.5 61.4L151 62.8L153.2 63.5L157.8 65.3L161.5 65.9L169.8 66.3L174.2 66.2L177.2 65.8L181.8 64.6L184 64.4L204.2 64.4L218.5 65.2L231.2 64.4L244.8 64.4L244.8 163L217.4 163L217.3 115L216.9 112.8L216.2 111.4L215.4 110.5L214 109.8L212.5 109.5L210.2 109.4L192.2 109.5L190.8 109.6L189.2 110.1L187.8 111.2L187.4 112L186.9 113.5L186.6 116.5L186.7 137.5L186.9 154.8L186.7 163L164.6 163L163.7 158.5L163.6 154L163.4 152.5L162.7 151L161.4 149.5L158.5 147.5L152.1 144.2L148.4 142L136 131.9L109 111.9L106 110.2L102.2 108.9L101.3 108.2L98.5 105.1L97 104.1L95.5 103.6L92.5 103.3L82.8 103.2L73.8 102.9L70 103.3L68.5 103.8L67 104.8L66 106L65.2 107.5L64.7 110.5L64.7 112.8L65.2 115L65.9 116.5L68.5 121.1L71.3 127L72.2 128.2L73.8 129.3L75.2 129.8L77.5 130L83.5 129.6L91.8 128.8L94.8 128.3L98.5 127.2L99.2 127.1L100 127.4L100.8 128.4L101 129.2L102.4 136.8L103.3 139.8L112 160L113 163L-2 163ZM177.6 -2L244.8 -2L244.8 37.4L230.5 37.3L218.5 37L205 37.3L184.8 37.4L181.8 37.2L180.2 36.7L179.5 36.2L178.4 34.8L177.9 33.2L177.8 31.8Z" fill="#EDFFF2" fill-rule="evenodd"/><path d="M-2 -2L95.6 -2L94 3.6L90.7 13L89.5 15.2L88 16.8L86.5 17.7L76.8 20.8L67.8 23.2L66.2 23.1L65.5 22.8L64.7 22L63.3 19L62.5 17.9L61.8 17.3L60.2 16.8L51.2 17.2L47.5 17.8L46.1 18.2L45.2 18.8L44.5 19.6L44.1 20.5L44 22L44.3 25.8L46.7 44.5L47.2 46L48.2 47.4L49.8 48.2L51.2 48.5L55.8 48.8L58 49.4L58.5 49.8L59.1 50.5L59.3 51.2L59.1 52L58.2 53.5L52 59.9L50.5 61.8L49.8 63.2L49.5 64.8L49.7 66.2L50.2 67.8L55.7 78.2L56.6 80.5L57.1 82.8L57.2 85L57 88L54.7 104.5L54.4 109L54.6 110.5L55.2 112L61.8 122.7L62.7 124.8L63.3 127L63.7 130.8L63.9 144.2L63.7 163L-2 163ZM50 111.2L49.1 110.5L48.2 110.1L46.8 109.8L45.2 109.7L31 110.1L29 110.5L28 111.1L27.4 112L27.1 112.8L26.9 114.2L26.9 117.2L27.5 124.8L27.8 126.2L28.5 127.8L29.3 128.5L30.2 128.9L32.5 129.1L48.2 128.2L50.5 127.8L51.9 127L52.5 126.2L52.8 125.5L52.9 123.2L51.1 113.5L50.5 112ZM127 64.6L128.5 64L131.5 63.6L137.5 63.4L142 63.7L151 65.1L158.5 67.2L166 68.4L173 70L178 70.9L201.2 70.7L206.5 70.9L209.5 71.7L217.8 75.1L220 76.4L221 77.5L221.3 78.2L221.4 79.8L221.2 81.2L220.6 83.5L220 84.6L219.2 85.5L217.8 86.4L214.8 87.1L202.8 88.2L195.2 89.3L187.6 91L182.5 92.4L180.8 93.2L179.5 94.8L179 96.2L178.8 98L178.3 108.2L179 117.2L179.5 127L182.3 151L182.4 153.2L182.2 154.8L181.8 155.9L181 156.8L180.2 157.1L179.5 157.2L178.8 157.1L177.2 156.5L175 154.9L169.4 149.5L166 146.8L163 145L152.5 139.4L148 136.6L120.2 115.2L118.4 113.5L116.7 111.2L116 109.8L115.3 106.8L115 104.5L115.2 102.2L115.7 100.8L116.6 99.2L121 94L123.1 91L124.3 88.8L125.1 86.5L125.9 82.8L126.1 79L125.9 75.2L125.1 67.8L125.5 66.2L125.9 65.5Z" fill="#A0FFC0" fill-rule="evenodd"/><path d="M130 66.3L131.5 65.8L133.8 65.3L138.2 64.9L142.8 65.3L149.5 66.4L166 70.3L175 72.9L176.9 73.8L178 74.5L179.1 76L179.6 77.5L179.9 79.8L180.1 83.5L179.9 87.2L179.3 89.5L177.5 92.5L176.8 94.8L176.4 97.8L175.9 106L175.9 109L176.4 118.8L175.7 127.8L175.7 130.8L176 134.5L177.5 146.5L177.3 148.8L176.5 149.3L175 148.7L167.5 143L152.3 134.5L148.8 132.2L124.8 114.6L121.7 112L120 109.8L119.3 108.2L118.8 106L118.6 103.8L118.8 102.2L120 99.2L124.8 91L126.8 85.8L127.6 82.8L128 79.8L128.1 69.2L128.6 67.8L129.1 67ZM34.8 75.5L37 75.6L39.2 76.2L41.5 77.4L43 78.8L44.4 80.5L45.6 82.8L46.4 85L46.8 88L46.7 91L46.2 93.2L45.3 95.5L43.9 97.8L42.2 99.5L40.8 100.6L38.5 101.6L36.2 102.1L34.8 102.1L32.5 101.7L31 101.2L28.7 100L26.5 98.5L24.1 96.2L23.6 95.5L23.2 94L23.4 91L24 87.2L24.9 84.2L26.3 81.2L28 79L30.2 77.1L32.5 76ZM7 84.9L8.5 84.6L10 84.7L11.5 85.3L13 86.1L15.2 87.9L17 89.5L20.6 93.2L22.4 95.5L22.6 97L22.7 100.8L22.5 104.5L22.2 106.8L21.2 110.3L20.5 112.3L19.7 113.5L18.2 114.6L16.8 114.9L15.2 114.7L13.8 114.1L11.5 112.5L9.7 110.5L8 108.2L6.8 106L5.4 103L4.4 100L3.8 97L3.5 94L3.5 91.8L3.9 89.5L4.7 87.2L5.5 86.1ZM24.9 140.5L26.5 138.8L28.8 137.1L31 136.1L33.2 135.4L35.5 135.1L38.5 135L41.5 135.3L43.8 135.9L46 136.9L48 138.2L49.6 139.8L50.8 141.2L51.6 142.8L52.3 145L52.4 147.2L52 149.5L50.9 151.8L49 154.2L46.8 155.9L43.8 157.4L40.8 158.2L37.8 158.5L34.8 158.3L31.8 157.5L29 156.2L26.8 154.8L24.8 152.5L23.5 150.2L22.9 148L22.9 145L23.6 142.8Z" fill="#00FF90" fill-rule="evenodd"/><path d="M133.1 67.8L134.5 67L136 66.6L139 66.3L142.8 66.6L148.8 67.7L163.8 71.3L168.2 72.6L173.5 74.6L175 75.6L175.8 76.6L176.2 77.5L176.6 79L176.7 82.8L176.2 88.8L175 95.5L174.3 104.5L174.2 109L174.7 116.5L174.5 119.5L173.8 122.5L172.8 124.8L171.2 126.7L169.8 127.8L168.2 128.6L166.8 129.1L164.5 129.4L162.2 129.4L159.2 128.9L157 128.4L151.8 126.5L141.2 121.4L133.8 116.9L129.2 114L126.2 111.8L124.2 109.8L123.1 108.2L122.4 106.8L121.9 104.5L121.8 103L122.1 100.8L123.1 97.8L126.9 89.5L129.5 82.8L130.3 79L130.8 73L131.2 70.8L131.8 69.2Z" fill="#00FF48" fill-rule="evenodd"/><path d="M136 68.5L138.2 67.8L141.2 67.7L145.8 68.4L152.5 69.9L163.8 72.6L167.5 73.8L171.2 75.4L172.8 76.5L173.6 77.5L174.5 79.8L174.6 82.8L174.2 90.2L172.7 106L172.7 109L173.1 115L173 118L172.5 120.2L171.5 122.5L170.3 124L168.2 125.6L166.8 126.3L165.2 126.6L163.8 126.8L161.5 126.7L157 125.7L151.8 123.8L140.5 118.1L133 113.6L127.8 109.9L126.2 108.2L125.2 106.8L124.6 105.2L124.1 103L124.2 100.8L124.6 98.5L126.3 94L131.7 82L132.5 79L133.1 73.8L133.6 71.5L134.5 69.8Z" fill="#00FF00" fill-rule="evenodd"/><path d="M137.5 69.9L139.8 69.2L143.5 69.4L150 70.8L162.7 73.8L166.8 74.9L169 75.9L171.2 77.5L172 78.7L172.4 79.8L172.8 81.2L172.9 85L172.6 92.5L171.3 106L171.2 109L171.5 115L171.4 117.2L170.9 119.5L170.2 121L169 122.5L167.5 123.7L166 124.4L164.5 124.7L161.5 124.8L157.8 124L153.2 122.4L142.8 117.2L136.3 113.5L130 109.3L128.1 107.5L127 106L126.4 104.5L126 102.2L126.1 100L126.7 97L128.5 92.3L132.7 84.2L133.6 82L134.4 79L135.1 73.8L135.5 72.2L136.5 70.8Z" fill="#00FF00" fill-rule="evenodd"/><path d="M142.9 79.1h0M157.1 79.1h0M171.4 79.1h0M185.6 79.1h0M199.9 79.1h0M214.1 79.1h0M135.8 86.3h0M150 86.3h0M164.2 86.3h0M178.5 86.3h0M192.8 86.3h0M207 86.3h0M128.6 93.5h0M142.9 93.5h0M157.1 93.5h0M171.4 93.5h0M185.6 93.5h0M199.9 93.5h0M135.8 100.8h0M150 100.8h0M164.2 100.8h0M178.5 100.8h0M128.6 108h0M142.9 108h0M157.1 108h0M171.4 108h0M135.8 115.3h0M150 115.3h0M164.2 115.3h0M178.5 115.3h0M142.9 122.5h0M157.1 122.5h0M171.4 122.5h0M164.2 129.7h0M171.4 137h0M128.6 6.7h0M142.9 6.7h0M157.1 6.7h0M150 13.9h0M142.9 21.1h0M157.1 21.1h0M157.1 35.6h0M221.2 57.3h0M36 86.3h0M28.9 93.5h0M7.5 100.8h0M192.8 144.2h0M142.9 151.5h0M157.1 151.5h0M135.8 71.8h0M207 71.8h0M64.5 71.8h0M78.8 71.8h0M93 71.8h0M71.6 79.1h0M85.9 79.1h0M100.1 79.1h0M114.4 79.1h0M93 86.3h0M107.2 86.3h0M57.4 93.5h0M57.4 108h0M85.9 108h0M100.1 108h0M78.8 115.3h0M93 115.3h0M71.6 122.5h0M78.8 129.7h0M71.6 137h0" stroke="#000" stroke-width="4.1" stroke-linecap="round" fill="none"/><use href="#c1"/></g>
<rect x="575.9" y="41.6" width="239.6" height="157.7" fill="none" stroke="#000" stroke-width="3.3"/>
<path d="M595.9 199.3V205.2M655.8 199.3V205.2M715.7 199.3V205.2M775.6 199.3V205.2" stroke="#000" stroke-width="2.8" stroke-linecap="round" fill="none"/>
<path d="M575.9 199.3V202.9M585.9 199.3V202.9M605.9 199.3V202.9M615.9 199.3V202.9M625.9 199.3V202.9M635.8 199.3V202.9M645.8 199.3V202.9M665.8 199.3V202.9M675.8 199.3V202.9M685.8 199.3V202.9M695.7 199.3V202.9M705.7 199.3V202.9M725.7 199.3V202.9M735.7 199.3V202.9M745.7 199.3V202.9M755.6 199.3V202.9M765.6 199.3V202.9M785.6 199.3V202.9M795.6 199.3V202.9M805.6 199.3V202.9M815.5 199.3V202.9" stroke="#000" stroke-opacity="0.3" stroke-width="0.7" fill="none"/>
<text x="595.9" y="225.6" font-size="18" text-anchor="middle">60E</text>
<text x="655.8" y="225.6" font-size="18" text-anchor="middle">120E</text>
<text x="715.7" y="225.6" font-size="18" text-anchor="middle">180</text>
<text x="775.6" y="225.6" font-size="18" text-anchor="middle">120W</text>
<text x="574.6" y="34.7" font-size="20.2">(c) EqEN_IO</text>
<text x="816.6" y="34.2" font-size="18" text-anchor="end">Precip</text>
<g transform="translate(829.9 40)" clip-path="url(#cp)"><rect x="0" y="0" width="242.9" height="161" fill="#FF3A3A"/><path d="M-2 -2L244.8 -2L244.8 163L-2 163ZM121.3 77.5L120.8 78.2L120.3 79.8L120.2 81.2L120.5 82.8L121.8 85.2L124 87.5L125.5 88.6L127 89.3L128.5 89.7L130 90L131.5 89.9L133 89.5L134.4 88.8L135.1 88L135.6 87.2L136.1 85.8L136.1 84.2L135.8 82.8L134.5 80.2L132.2 77.9L130.8 77L129.2 76.3L127.8 75.8L126.2 75.6L124.8 75.7L123.2 76.1L122.1 76.8Z" fill="#FF5C5C" fill-rule="evenodd"/><path d="M-2 -2L244.8 -2L244.8 163L-2 163ZM115.8 72.8L114.6 74.5L113.9 76.8L113.8 79L114.3 82L115.5 85L116.7 87.2L118.8 89.8L121 91.9L123.2 93.4L126.2 94.8L129.2 95.7L132.2 96L135.2 95.7L137.5 95L139.3 94L140.9 92.5L141.9 91L142.7 88.8L142.9 86.5L142.5 83.5L141.6 81.2L140.4 79L138.6 76.8L136 74.4L133.8 72.8L130.8 71.2L127.8 70.2L124.8 69.7L121.8 69.8L119.5 70.3L117.2 71.5Z" fill="#FF9090" fill-rule="evenodd"/><path d="M-2 -2L244.8 -2L244.8 163L-2 163ZM108.2 63L107.5 63.7L107.1 64.8L107 67L107.7 73L108.9 79L110.3 83.5L112 87.8L114 91.8L116.5 95.6L123.2 104.6L124.8 106.2L127 107.9L133 111.2L136.8 112.8L139 113.2L140.5 113.2L142 112.8L142.8 112.4L143.5 111.6L145 109.4L148.8 102.4L151 97.8L153.4 91.8L154 89.3L154 86.8L153.3 84.2L152 82L150.8 80.5L148.4 78.2L144 74.5L140.1 71.5L135.2 68.3L129.2 65.3L121.9 62.5L118 61.6L115.8 61.4L112.5 61.8L109.8 62.3Z" fill="#FFBDBD" fill-rule="evenodd"/><path d="M-2 -2L244.8 -2L244.8 163L-2 163ZM91.8 116.2L91.4 116.5L91.3 117.2L91.7 118.8L92.5 120.2L94.6 123.2L103.8 134.7L105.2 136.3L106.8 137.2L107.5 137.2L108.2 137L109.1 136L109.7 134.5L110 130.8L109.9 128.5L109.5 127L108.2 124.8L106.8 123.5L105.2 122.4L97.8 118L94 116.3L92.5 116ZM103.1 58.8L102.2 59.5L101.4 61L101.1 62.5L101.1 64L102.7 71.5L105.6 82L107.7 88L110.1 93.2L113 98.5L118.9 108.2L120.7 110.5L122.5 112.1L126.2 114.5L131.5 117.5L133.8 118.4L136 119.1L139 119.6L142.8 119.7L144.2 120.4L145 121.1L145.8 122.5L147.9 128.5L149 130.8L152.5 136.7L154 138.8L154.9 139.8L156.4 140.5L158.5 140.4L160.3 139.8L160.9 139L161.1 138.2L160.6 136.8L158.1 133L150.7 122.5L149.1 119.5L148.6 117.2L148.8 116.1L149.1 115L151.3 110.5L158.3 94L159.4 90.2L159.7 87.2L159.3 85L158.3 82L157 79.7L155.5 77.9L153.2 75.9L140.5 66.8L136.8 64.5L133.8 62.9L125.5 59.3L120.2 57.6L118 57.1L115.8 57L111.2 57.1L106.8 57.5L104.6 58Z" fill="#FFEDED" fill-rule="evenodd"/><path d="M22.4 -2L244.8 -2L244.8 10.6L239.5 11.5L213.2 17.1L211.8 17.2L211 17L210.2 16.6L209.7 16L208.8 13.9L207.7 8.5L207 6.2L206.5 5.5L205.6 4.8L203.5 4L202 4L191.5 4.5L185.5 5L179.5 5.2L175 5.7L173.1 6.2L171.8 7L171.1 7.8L170.8 8.5L170.6 10L171 13L176.2 34.8L177.3 37.8L178 38.8L178.8 39.6L179.5 40L181 40.5L182.5 40.6L186.2 40.3L204.2 38.6L206.5 38.1L210.2 36.9L211 36.8L211.8 37.2L212.3 37.8L213.2 39.5L214 42.2L216.6 53.5L217.6 55.8L219.2 57.6L221.5 58.9L224.5 59.7L241 62.8L244.8 63.4L244.8 163L110.1 163L110.2 149.5L110.4 147.2L110.9 145.8L112 144.2L113.5 143.1L115 142.5L118.8 141.6L120.6 140.5L121.2 139.8L121.8 138.4L122.5 134.5L123.4 132.2L125.1 130L126.2 129.1L127.8 128.3L130.8 127.5L133.8 127.5L137.5 128.2L141.2 129.6L143.5 131L145 132.4L146.5 134.1L149.5 138.2L151.5 140.5L154 142.4L155.5 143L157 143.2L158.5 143.2L162.2 142.5L164.5 141.5L165.7 140.5L167.1 138.2L168.2 135.2L176.7 103.8L177.7 98.5L177.6 94.8L173.1 72.2L171.1 63.2L170.6 61.8L169.8 60.2L169 59.3L167.5 58.3L165.2 57.5L163 57.1L137.5 55.1L128.5 54.3L118 52.9L113.5 52.6L97 52.1L94.8 52.4L93.2 52.9L91.8 54.2L90.8 55.8L89.4 60.2L86 75.2L85.6 78.2L84.9 88L84.7 97L84.4 100.8L83.9 106L82.9 112L82.7 118.8L82.4 123.2L78 163L22.5 163L23.1 158.5L27.5 130.8L27.8 128.5L27.8 126.2L27.4 124L26.4 121L17.8 100.8L16.9 97.8L16.6 94.8L19.3 54.2L19.5 47.5L20 40.8L20.2 34L20.8 27.2Z" fill="#EDFFF2" fill-rule="evenodd"/><path d="M46.8 63.9L48.2 63.8L52 64.2L54.2 64.8L55.8 65.6L57 67L58.3 69.2L61.1 75.2L64.4 81.2L65.4 83.5L66.2 86.3L67 87.7L67.8 87.6L70.8 85.7L72.2 85.6L73 85.7L74.3 86.5L75.2 87.5L76 88.8L76.7 91L77 94L76.6 97L76.1 98.5L75.3 100L73.8 101.5L72.2 102L70.8 101.8L69.1 100.8L67 98L66.2 97.4L65.5 98.1L63.9 103.8L63.1 109L62.6 110.5L61.3 112.8L60.2 114.2L59.4 115L58 115.6L57.2 115.6L55.8 114.9L53.4 112.8L48.5 106.8L47.7 105.2L47 103L44.7 87.2L44.5 83.5L44.6 67L44.9 65.5L45.2 65L46 64.2ZM130 132.8L132.2 132.4L134.5 132.7L137.5 133.8L140.5 135.5L143.5 138.1L146.4 141.2L148.7 144.2L149.8 146.5L150.2 148.8L150 151L149.3 154L148.3 156.2L147 158.5L145.8 160.1L143.5 162.1L141.9 163L133.6 163L133 162.7L130.8 161.1L129.2 159.5L127.6 157L126.5 154.8L125.8 152.5L125.3 150.2L125.1 148L125.2 146.5L126.5 141.2L127.2 136L127.8 134.7L128.5 133.8Z" fill="#A0FFC0" fill-rule="evenodd"/><path d="M57.2 80.9L58.8 81.1L60.2 82.3L61 83.3L61.7 85L62.1 87.2L61.8 90.2L61 92.5L60.2 93.7L59.5 94.4L58 94.8L56.5 94.5L55.8 94.1L54.2 92.5L53.2 90.2L52.9 88L53.1 85.8L54 83.5L55 82.1L55.8 81.5ZM133 137.9L134.5 137.7L136 137.9L138.2 138.6L140.5 139.8L142 141L143.7 142.8L144.7 144.2L145.3 145.8L145.6 147.2L145.6 148.8L145.4 150.2L144.6 152.5L143.8 154L142.6 155.5L141.2 156.6L139.8 157.4L138.2 157.7L136.8 157.6L134.5 156.8L133 155.6L132.2 154.7L131.3 153.2L130.3 151L129.7 148.8L129.6 147.2L129.9 144.2L130.8 141.2L131.5 139.4L132.2 138.4Z" fill="#00FF90" fill-rule="evenodd"/><path d="M136 142.5L137.5 142.4L138.9 142.8L139.8 143.2L141.2 144.7L142 146.5L142 148.8L141.2 150.8L140.5 151.7L139.8 152.3L138.2 152.9L136.8 152.8L135.2 151.9L134 150.2L133.4 148.8L133.2 146.5L133.5 145L134.5 143.4Z" fill="#00FF48" fill-rule="evenodd"/><path d="M136.6 13.9h0M129.5 21.1h0M122.4 28.4h0M136.6 28.4h0M129.5 35.6h0M158 137h0M136.6 144.2h0M143.8 151.5h0M72.5 93.5h0M58.3 93.5h0M115.3 64.6h0M122.4 71.8h0M136.6 71.8h0M115.3 79.1h0M129.5 79.1h0M143.8 79.1h0M122.4 86.3h0M136.6 86.3h0M150.9 86.3h0M129.5 93.5h0M143.8 93.5h0M122.4 100.8h0M136.6 100.8h0M129.5 108h0M143.8 108h0M136.6 115.3h0M150.9 115.3h0" stroke="#000" stroke-width="4.1" stroke-linecap="round" fill="none"/><use href="#c1"/></g>
<rect x="831.5" y="41.6" width="239.6" height="157.7" fill="none" stroke="#000" stroke-width="3.3"/>
<path d="M851.5 199.3V205.2M911.4 199.3V205.2M971.3 199.3V205.2M1031.2 199.3V205.2" stroke="#000" stroke-width="2.8" stroke-linecap="round" fill="none"/>
<path d="M831.5 199.3V202.9M841.5 199.3V202.9M861.5 199.3V202.9M871.5 199.3V202.9M881.5 199.3V202.9M891.4 199.3V202.9M901.4 199.3V202.9M921.4 199.3V202.9M931.4 199.3V202.9M941.4 199.3V202.9M951.3 199.3V202.9M961.3 199.3V202.9M981.3 199.3V202.9M991.3 199.3V202.9M1001.3 199.3V202.9M1011.2 199.3V202.9M1021.2 199.3V202.9M1041.2 199.3V202.9M1051.2 199.3V202.9M1061.2 199.3V202.9M1071.1 199.3V202.9" stroke="#000" stroke-opacity="0.3" stroke-width="0.7" fill="none"/>
<text x="851.5" y="225.6" font-size="18" text-anchor="middle">60E</text>
<text x="911.4" y="225.6" font-size="18" text-anchor="middle">120E</text>
<text x="971.3" y="225.6" font-size="18" text-anchor="middle">180</text>
<text x="1031.2" y="225.6" font-size="18" text-anchor="middle">120W</text>
<text x="830.2" y="34.7" font-size="20.2">(d) SGLN</text>
<text x="1072.2" y="34.2" font-size="18" text-anchor="end">Precip</text>
<g transform="translate(1085.5 40)" clip-path="url(#cp)"><rect x="0" y="0" width="242.9" height="161" fill="#FF9090"/><path d="M-2 -2L244.8 -2L244.8 163L-2 163ZM132.2 77L131.8 77.5L131.6 78.2L131.9 80.5L134.3 90.2L135.1 92.5L136.3 94L139 96.1L140.5 96.8L141.2 96.9L142 96.8L142.6 96.2L143 95.5L143.8 92.5L144 88.8L144.6 85.8L144.5 84.2L143.8 82.8L142.8 81.7L135.2 77.2L133.8 76.7L133 76.7Z" fill="#FFBDBD" fill-rule="evenodd"/><path d="M-2 -2L244.8 -2L244.8 163L-2 163ZM118.8 72.2L117.4 73L116.6 73.8L115.9 75.2L115.7 79L115.9 82.8L116.7 85L121.9 92.5L123.1 94.8L124 97.8L126.8 109L127.7 111.2L128.5 112.3L130 113.6L133 115.3L135.2 116.2L136.8 116.3L138.2 115.9L142 114.2L144 112.8L145.1 111.2L146.8 107.5L150.2 98.1L151.6 95.5L153.8 92.5L160.1 85L163.5 80.5L164.8 78.2L164.9 76.8L164.5 76L163.8 75.5L161.5 74.7L148.8 73.5L127.8 70.2L126.2 70.2L124.8 70.5Z" fill="#FFEDED" fill-rule="evenodd"/><path d="M24 -2L64.3 -2L59.4 60.2L59.3 63.2L59.7 67.8L61.2 76.8L62.2 80.5L64.5 88L65.6 92.5L66 96.2L66 99.2L65.2 104.5L62 116.5L60.6 123.2L55.6 156.2L54.8 163L24.1 163L26.3 151.8L36.9 103L37.5 100L37.7 97L37.2 91L24.8 4.8ZM86.1 -2L206.1 -2L206.1 50.5L206 53.5L205.4 55.8L204.3 57.2L203.5 57.9L202 58.5L199.8 58.9L139.8 64.2L137.5 64.1L134.5 63.7L109.8 59L106.8 58L105.2 57.1L103.8 56L98.5 50.8L94 45.7L88.8 40.2L87.5 38.5L86.8 37L86.3 34.8L86.1 31.8ZM235.8 72.9L236.5 73.1L237.6 74.5L238.2 76.8L238.3 79L238.1 81.2L237.4 83.5L236.5 84.6L235.8 84.7L235 84.2L234.2 82.8L233.8 81.2L233.6 79L233.7 76.8L234 75.2L235 73.4ZM84.2 129.2L84.7 127.8L85.8 126.2L87.2 125.1L89.5 124.3L120.2 118.7L123.2 118.3L125.5 118.3L127.8 118.7L130.8 119.8L154.8 131.6L157.8 132.5L159.2 132.7L161.5 132.7L171.2 131.2L234.2 120.2L244.8 118.6L244.8 163L83.9 163L83.9 133.8Z" fill="#EDFFF2" fill-rule="evenodd"/><path d="M57.2 88.1L58.8 88.8L59.5 89.5L61 91.9L62 95.5L62.2 97.8L62.1 100L61.7 102.2L61 104.8L60.2 106.8L58.9 109L58 110.1L56.5 111.2L55.8 111.5L54.2 111.7L52.8 111.2L51.8 110.5L50.6 109L49.8 107.5L49.3 106L49 103.8L48.9 101.5L49 99.2L49.5 97L50.2 94.8L52 91.4L53.5 89.6L54.7 88.8L55.8 88.2ZM114.2 134.3L115 134.7L116 136.8L116.4 139L116.6 142L116.4 144.2L116 146.5L115 148.6L114.2 149.1L113.5 148.7L112.7 147.2L112.1 145L111.8 142L111.9 139.8L112.4 136.8L113.5 134.6ZM136 144.3L137.5 144.6L139 145.8L139.9 147.2L140.3 149.5L140 151.8L139 153.5L137.5 154.7L136 155L134.5 154.5L133.1 153.2L132.4 151.8L132 149.5L132.5 147.2L133.3 145.8L134.5 144.8Z" fill="#A0FFC0" fill-rule="evenodd"/><path d="M56.5 97.1L57.2 97.4L57.7 98.5L57.8 100L57.2 101.5L56.5 102.3L55.8 102.4L54.9 101.5L54.7 100.8L54.8 99.2L55 98.4L55.8 97.4Z" fill="#00FF90" fill-rule="evenodd"/><path d="M130.4 79.1h0M137.5 86.3h0M137.5 100.8h0M173.2 79.1h0M187.4 79.1h0M201.7 79.1h0M166 86.3h0M180.3 86.3h0M194.5 86.3h0M173.2 93.5h0" stroke="#000" stroke-width="4.1" stroke-linecap="round" fill="none"/><use href="#c1"/></g>
<rect x="1087.2" y="41.6" width="239.6" height="157.7" fill="none" stroke="#000" stroke-width="3.3"/>
<path d="M1107.1 199.3V205.2M1167 199.3V205.2M1226.9 199.3V205.2M1286.8 199.3V205.2" stroke="#000" stroke-width="2.8" stroke-linecap="round" fill="none"/>
<path d="M1087.2 199.3V202.9M1097.1 199.3V202.9M1117.1 199.3V202.9M1127.1 199.3V202.9M1137.1 199.3V202.9M1147.1 199.3V202.9M1157 199.3V202.9M1177 199.3V202.9M1187 199.3V202.9M1197 199.3V202.9M1207 199.3V202.9M1216.9 199.3V202.9M1236.9 199.3V202.9M1246.9 199.3V202.9M1256.9 199.3V202.9M1266.9 199.3V202.9M1276.8 199.3V202.9M1296.8 199.3V202.9M1306.8 199.3V202.9M1316.8 199.3V202.9M1326.8 199.3V202.9" stroke="#000" stroke-opacity="0.3" stroke-width="0.7" fill="none"/>
<text x="1107.1" y="225.6" font-size="18" text-anchor="middle">60E</text>
<text x="1167" y="225.6" font-size="18" text-anchor="middle">120E</text>
<text x="1226.9" y="225.6" font-size="18" text-anchor="middle">180</text>
<text x="1286.8" y="225.6" font-size="18" text-anchor="middle">120W</text>
<text x="1085.8" y="34.7" font-size="20.2">(e) EqLN</text>
<text x="1327.8" y="34.2" font-size="18" text-anchor="end">Precip</text>
<g transform="translate(63.1 313)" clip-path="url(#cp)"><rect x="0" y="0" width="242.9" height="161" fill="#9B1FF0"/><path d="M-2 -2L244.8 -2L244.8 163L-2 163L-2 65.1L1.8 67.2L6.2 70.6L25.1 88L32.5 94.5L37 98.1L40.8 100.7L44.5 102.7L47.5 104L51.2 105.1L54.2 105.6L57.2 105.8L60.2 105.7L62.5 105.4L64.8 104.9L67 104.1L69.2 102.9L71.1 101.5L72.5 100L73.5 98.5L74.2 97L75 94.8L75.9 89.5L76.3 82L76 75.2L75 68.5L73.4 61.8L70.9 55L67.9 49L64.8 44.5L61.2 40.8L57.2 37.8L53.5 35.8L49 34.2L44.5 33.2L39.2 32.5L31 31.9L19.8 31.6L-2 32Z" fill="#0000FF" fill-rule="evenodd"/><path d="M-2 -2L244.8 -2L244.8 163L-2 163L-2 68.3L1.8 70.6L5.5 73.5L30.2 95.4L37 100.9L40.8 103.5L44.5 105.6L48.2 107.1L51.2 108L54.2 108.6L57.2 108.9L60.2 108.9L64 108.7L67.8 108L70.8 107.2L73 106.3L75.2 105.1L76.8 103.8L77.4 103L78.2 101.5L78.6 100L79.1 95.5L79.3 87.2L79 78.2L78.2 70.8L76.6 63.2L74.2 55.8L71.5 49.8L68.3 44.5L66.6 42.2L64.6 40L62.5 38.1L60.2 36.3L56.5 34.1L52 32.1L46.8 30.7L41.5 29.9L33.2 29.2L22 28.8L12.2 28.8L-2 29.2ZM100.2 108.2L100.8 109.1L103 109.7L104.5 109.5L106 109L106.6 108.2L106 107.4L103.8 106.9L102.2 107.1L100.9 107.5Z" fill="#0070E6" fill-rule="evenodd"/><path d="M-2 -2L244.8 -2L244.8 163L-2 163L-2 71.8L1.8 74.2L6.2 77.8L22 91.1L33.2 101L37 104L40.8 106.6L43.8 108.3L47.5 110L50.5 111L55 112L59.5 112.5L72.6 112.8L76.8 113.1L80.5 113.9L88.1 116.5L92.5 117.6L97.8 118.3L103 118.4L106.8 118L111.2 117.2L115.8 115.8L119.5 114.3L122.3 112.8L124.8 110.8L126.2 109L126.5 107.5L126.2 106L125.7 105.2L124.1 103.8L121 102L116.5 100.4L112 99.4L106.8 98.8L102.2 98.6L94 98.8L91 98.6L89.5 98.3L88 97.7L86.9 97L85.8 95.9L85 94.8L84.2 93.3L83.4 90.2L82.8 86.5L81.7 74.5L80.2 66.2L78.2 58.8L75.8 52L72.9 46L71 43L69.4 40.8L67.4 38.5L65.1 36.2L62.5 34.1L60.2 32.6L55.8 30.2L51.2 28.6L46.8 27.5L40.8 26.7L31.8 26.1L20.5 25.7L11.5 25.7L-2 26.1ZM186.1 85L184.8 83.8L183.2 83.2L181.8 83L179.5 83.2L176.5 83.9L173.5 85L170.5 86.5L168.2 88L166.4 89.5L164.5 91.6L163.2 93.2L162 95.5L161.2 97.8L160.9 99.2L161.1 100.8L161.7 102.2L163 103.5L164.8 104.5L167.5 105.2L169.8 105.3L172 105.2L175 104.6L178 103.5L180.2 102.2L182.5 100.4L184.2 98.5L185.7 96.2L186.7 94L187.4 91L187.4 88.8L186.9 86.5Z" fill="#00A0F8" fill-rule="evenodd"/><path d="M-2 -2L244.8 -2L244.8 163L-2 163L-2 75.8L4.8 80.4L18.2 90.9L23.6 95.5L34 105.1L37.8 108.2L41.5 110.9L45.2 113L49.8 114.9L55 116.3L70.8 119.2L82.8 122.6L87.2 123.7L92.5 124.5L97 124.8L101.5 124.8L106 124.4L110.5 123.6L115.8 122.4L124.8 119.3L139.8 113L142.8 111.9L145 111.4L147.2 111.1L150.2 111.1L161.5 112.2L167.5 112.3L170.5 112L173.5 111.5L176.5 110.7L179.5 109.5L183.2 107.5L185.9 105.2L188.6 102.2L191 98.5L192.7 94.8L193.8 91L194.5 86.5L194.7 81.2L194.5 73.8L193.7 68.5L193 67.1L192.2 66.7L191.5 66.7L190.8 66.9L189.2 67.9L183.7 72.2L180.2 74.5L169 80L164.5 82.8L161.5 85L159.2 87.1L152.5 94.5L150.2 96.6L147.2 98.7L144.2 99.9L141.2 100.1L138.2 99.8L134.5 99L123.2 96L116.5 94.5L109 93.5L97 92.7L94.8 92.3L92.5 91.6L91 90.8L89.5 89.4L88.5 88L87.6 85.8L86.8 82.8L85 73L83.4 66.2L80.2 55L77.9 48.2L76.2 44.5L74 40.8L71.8 37.8L69 34.8L66.6 32.5L64 30.5L61.8 29L58.8 27.4L53.5 25.3L50.5 24.4L46.8 23.6L38.5 22.6L26.5 22L14.5 21.9L-2 22.2Z" fill="#00C4F4" fill-rule="evenodd"/><path d="M-2 -2L244.8 -2L244.8 163L-2 163L-2 80.7L2.5 83.2L8.5 87L13.8 90.6L18.2 94L21.7 97L25.6 100.8L35.5 111.3L39.2 115L43.8 118.6L48.2 121.3L55 124.2L70.8 129.6L77.5 131.8L82.8 133.2L88.8 134.3L94.8 135L100.8 135L106 134.6L112 133.5L118 131.8L124 129.6L136.2 124.8L143.5 122.4L150.2 121.1L166 119.2L170.5 118.3L175 117.2L178.8 116L181.8 114.7L184.8 113.1L187 111.5L190 108.6L193.2 104.5L195.8 100L197.7 95.5L199.4 89.5L202.1 76L206.9 60.2L207.6 56.5L207.8 52.8L207.5 49L206.7 46L206 44.5L205.1 43L203.6 41.5L202 40.7L199.8 40.3L197.5 40.6L194.5 42L192.2 43.6L190.8 44.9L187.8 48.3L185.1 52L179.3 61.8L177.2 64.4L175.4 66.2L172.6 68.5L166 72.8L162.2 75.4L148.8 86.6L145 88.9L142 90.1L139.8 90.6L136.8 90.9L130.8 90.7L124.8 89.9L107.7 87.2L100.8 86L97.8 84.9L95.5 83.6L93.8 82L92.3 79.8L91 77.1L89.5 73.4L86.2 64L84.3 57.2L81.6 45.2L80.1 40.8L78.2 37.3L75.9 34L73 30.6L69.2 27.1L64.8 23.7L59.5 20.8L53.5 18.6L46.8 17.1L38.5 16.2L25 15.6L13 15.5L-2 15.8ZM205.1 19.8L205.4 21.2L206.5 22.8L208 23.8L210.2 24.7L213.2 25.3L216.2 25.6L220 25.7L224.5 25.4L228.2 24.9L232 24.1L235 23.2L237.9 22L240.3 20.5L241.8 19L242.6 17.5L242.7 16L242 14.5L241 13.6L238.8 12.3L236.5 11.5L233.5 10.8L230.5 10.5L226.8 10.4L223 10.6L219.2 11.2L216.2 11.8L213.2 12.7L210.2 14L208.2 15.2L206.5 16.8L205.5 18.2Z" fill="#90DCF2" fill-rule="evenodd"/><path d="M100.8 15L103.8 13.6L106.8 12.5L109.8 11.6L113.5 10.8L121 9.9L125.5 9.8L129.2 10L133 10.4L136.8 11L140.5 11.9L143.9 13L147.2 14.5L149.5 15.8L151.8 17.5L153.2 19L154.2 20.5L154.9 22L155.2 23.5L155.2 25L154.9 26.5L154.3 28L151.7 33.2L151.3 34.8L151.4 37L152.3 40L156.7 48.2L158.3 52L159.5 56.5L159.7 58.8L159.7 61L159.4 63.2L158.8 65.5L157.9 67.8L156.6 70L153.8 73.8L151.8 75.8L149.5 77.7L147.2 79.4L144.2 81.1L141.2 82.4L138.2 83.4L135.2 83.9L131.5 84.3L127.8 84.3L124 84L118.8 83.3L114.2 82.5L109 81.1L105.2 79.9L102.2 78.5L99.2 76.7L97 74.9L94.8 72.4L92.6 69.2L91 66.3L89.5 62.8L88.4 59.5L87.5 55.8L87.1 52.8L87 49L87.2 46L88.1 40.8L91.1 31.8L92.8 24.2L93.6 22L95 19.8L96.3 18.2L98.1 16.8ZM244.8 38.3L244.8 163L131 163L131.8 158.5L132.8 154L134 150.2L135.2 147.1L136.8 144.2L139 141.1L141.5 138.2L144.2 135.7L145.9 134.5L148.6 133L153.8 130.8L160.5 128.5L176.5 123.7L181 122.2L184.8 120.6L187.8 119L190.4 117.2L193 115L195.2 112.8L197.6 109.8L200.2 106L202.4 102.2L203.8 99.2L204.9 96.2L205.9 92.5L208 81.6L209.1 77.5L210.2 74.5L211.6 71.5L214.8 66.1L217 63L219.2 60.4L223 56.5L227.5 52.3L239.5 41.6L242.5 39.5ZM-2 86.1L3.2 88.1L9.2 91.1L14.5 94.6L19.3 98.5L23.8 103L27.4 107.5L30.6 112.8L32.4 117.2L33.1 121L33.2 123.2L33 125.5L30.2 137.1L28 149.5L27 153.2L25.7 157L24.2 160.2L22.4 163L5.3 163L3.3 160L1.9 157L-2 146.1Z" fill="#FFF478" fill-rule="evenodd"/><path d="M93 44.5L94 42.8L95.5 40.9L97 39.4L99.2 37.5L103 35.2L108.2 33L113.5 31.6L118 31.2L122.5 31.6L124.8 32L127.8 33L130.8 34.3L133.8 35.9L139.8 39.9L145 44.3L147.2 46.7L149.2 49L150.6 51.2L151.8 53.5L152.7 55.8L153.2 58L153.5 60.2L153.4 62.5L153 64.8L152.5 66.2L151.4 68.5L149.9 70.8L148.6 72.2L146.5 74.1L144.2 75.7L142 76.9L139.8 77.8L136.8 78.7L133.8 79.3L130.8 79.6L127.8 79.7L124 79.5L120.2 79.1L116.5 78.4L109.8 76.5L104.5 74.2L102.2 72.8L100 71.2L97.8 69.2L96.2 67.5L94.8 65.4L93.5 63.2L92.5 61L91.7 58.8L91.1 55.8L90.9 53.5L91 51.2L91.3 49L91.9 46.8ZM-2 91.4L1.8 92.1L6.2 93.6L10.8 95.9L14.5 98.5L17.9 101.5L20.6 104.5L22.6 107.5L24.3 111.2L25 114.2L25 117.2L24.5 120.2L23.5 123.2L21.2 128L18.2 133L16 135.8L15.2 136.4L13.8 137.2L12.2 137.4L10 136.7L2.7 132.2L-2 129.9ZM207.7 145L208.6 142.8L210.3 140.5L212.5 138.7L215.5 137.1L218.5 136L222.2 135.2L226 134.9L229.8 135.1L233.5 135.8L236.5 136.8L239.5 138.2L241.8 139.9L243.6 142L244.7 144.2L244.8 149L243.8 151L241.9 153.2L239.9 154.8L237.2 156.2L234.2 157.3L230.5 158.1L226.8 158.4L223 158.2L219.2 157.5L216.2 156.5L213.2 155.1L211 153.4L209.4 151.8L208.1 149.5L207.6 147.2Z" fill="#FFC400" fill-rule="evenodd"/><path d="M95.5 49L97.2 46L98.5 44.5L100 43.1L101.5 42L103.8 40.7L107.5 39.2L112 38.2L116.5 37.8L121 38.1L126.2 39.2L131.5 41.1L136 43.4L140.5 46.4L144.2 49.9L146.9 53.5L147.7 55L148.5 57.2L149 59.5L149.1 61L148.7 64L148 65.8L146.9 67.8L145.8 69.2L144.3 70.8L141 73L136.8 74.7L134.5 75.3L131.5 75.8L126.2 75.9L121 75.4L115 74.2L109.8 72.4L105 70L103 68.7L101 67L98.2 64L97 62.2L96 60.2L94.8 56.5L94.6 52.8L95 50.5ZM-2 96.4L0.2 96.5L3.2 97.1L6.2 98L8.8 99.2L11.5 101L13.8 102.9L15.3 104.5L16.9 106.8L17.9 109L18.6 111.2L18.7 113.5L18.4 115.8L17.6 118L16.3 120.2L14.5 122.2L13 123.3L11.5 124L10 124.5L7 124.7L3.2 124.3L-2 123Z" fill="#FF8200" fill-rule="evenodd"/><path d="M99.2 51.2L99.9 49.8L100.8 48.4L103 46.2L105.8 44.5L109 43.3L112.8 42.6L117.2 42.4L121 42.7L125.5 43.6L130 45.1L133.8 46.9L137.5 49.3L140.7 52L143 55L144.2 57.7L144.7 60.2L144.7 61.8L144.4 63.2L143.8 64.8L142.9 66.2L140.7 68.5L138.2 70L134.5 71.4L130.8 72.1L126.2 72.3L121.8 71.9L116.5 70.8L112 69.3L108.2 67.5L105.1 65.5L102.2 63L100.2 60.2L99 57.2L98.6 54.2ZM-2 102.4L1 102.3L4.3 103L7 104.3L9.2 106.3L10.2 107.5L10.9 109L11.2 111.2L10.7 113.5L9.2 115.4L7.5 116.5L4.8 117.2L1.8 117.2L-2 116.4Z" fill="#FF0A00" fill-rule="evenodd"/><path d="M104.2 53.5L105.2 51.3L106.8 49.9L109 48.6L111.2 47.8L114.2 47.3L117.2 47.2L120.8 47.5L124 48.1L127 49L130.8 50.6L133.8 52.3L136 54.1L137.5 55.8L138.8 58L139.2 60.2L139 61.8L138.2 63.5L136.8 65.1L135 66.2L132.2 67.2L129.2 67.8L126.2 67.9L123.2 67.7L119.3 67L115.8 66L112.6 64.8L109.8 63.2L107.5 61.6L105.6 59.5L104.5 57.6L104 55.8Z" fill="#EB0000" fill-rule="evenodd"/><path d="M5.7 30.5h0M19.9 30.5h0M34.2 30.5h0M48.4 30.5h0M12.8 37.7h0M27.1 37.7h0M41.3 37.7h0M55.6 37.7h0M5.7 45h0M19.9 45h0M34.2 45h0M48.4 45h0M62.7 45h0M12.8 52.2h0M27.1 52.2h0M41.3 52.2h0M55.6 52.2h0M69.8 52.2h0M5.7 59.5h0M19.9 59.5h0M34.2 59.5h0M48.4 59.5h0M62.7 59.5h0M77 59.5h0M12.8 66.7h0M27.1 66.7h0M41.3 66.7h0M55.6 66.7h0M69.8 66.7h0M84.1 66.7h0M5.7 73.9h0M19.9 73.9h0M34.2 73.9h0M48.4 73.9h0M62.7 73.9h0M77 73.9h0M12.8 81.2h0M27.1 81.2h0M41.3 81.2h0M55.6 81.2h0M69.8 81.2h0M84.1 81.2h0M5.7 88.4h0M19.9 88.4h0M34.2 88.4h0M48.4 88.4h0M62.7 88.4h0M77 88.4h0M91.2 88.4h0M105.5 88.4h0M148.2 88.4h0M162.5 88.4h0M176.7 88.4h0M12.8 95.7h0M27.1 95.7h0M41.3 95.7h0M55.6 95.7h0M69.8 95.7h0M84.1 95.7h0M98.3 95.7h0M112.6 95.7h0M126.8 95.7h0M141.1 95.7h0M155.3 95.7h0M169.6 95.7h0M183.8 95.7h0M5.7 102.9h0M19.9 102.9h0M34.2 102.9h0M48.4 102.9h0M62.7 102.9h0M77 102.9h0M91.2 102.9h0M105.5 102.9h0M119.7 102.9h0M134 102.9h0M148.2 102.9h0M162.5 102.9h0M176.7 102.9h0M12.8 110.1h0M27.1 110.1h0M41.3 110.1h0M55.6 110.1h0M69.8 110.1h0M84.1 110.1h0M98.3 110.1h0M112.6 110.1h0M126.8 110.1h0M141.1 110.1h0M155.3 110.1h0M169.6 110.1h0M183.8 110.1h0M5.7 117.4h0M19.9 117.4h0M34.2 117.4h0M48.4 117.4h0M62.7 117.4h0M77 117.4h0M91.2 117.4h0M105.5 117.4h0M119.7 117.4h0M134 117.4h0M148.2 117.4h0M205.2 117.4h0M219.5 117.4h0M233.7 117.4h0M12.8 124.6h0M27.1 124.6h0M41.3 124.6h0M55.6 124.6h0M69.8 124.6h0M84.1 124.6h0M98.3 124.6h0M112.6 124.6h0M126.8 124.6h0M141.1 124.6h0M183.8 124.6h0M198.1 124.6h0M212.3 124.6h0M226.6 124.6h0M240.8 124.6h0M5.7 131.9h0M19.9 131.9h0M48.4 131.9h0M62.7 131.9h0M77 131.9h0M91.2 131.9h0M105.5 131.9h0M119.7 131.9h0M134 131.9h0M162.5 131.9h0M176.7 131.9h0M191 131.9h0M205.2 131.9h0M219.5 131.9h0M233.7 131.9h0M12.8 139.1h0M27.1 139.1h0M41.3 139.1h0M55.6 139.1h0M69.8 139.1h0M84.1 139.1h0M98.3 139.1h0M112.6 139.1h0M141.1 139.1h0M155.3 139.1h0M169.6 139.1h0M183.8 139.1h0M198.1 139.1h0M212.3 139.1h0M226.6 139.1h0M240.8 139.1h0M5.7 146.3h0M19.9 146.3h0M34.2 146.3h0M48.4 146.3h0M62.7 146.3h0M77 146.3h0M91.2 146.3h0M105.5 146.3h0M148.2 146.3h0M162.5 146.3h0M176.7 146.3h0M191 146.3h0M205.2 146.3h0M219.5 146.3h0M233.7 146.3h0M12.8 153.6h0M27.1 153.6h0M41.3 153.6h0M55.6 153.6h0M69.8 153.6h0M84.1 153.6h0M98.3 153.6h0M112.6 153.6h0M141.1 153.6h0M155.3 153.6h0M169.6 153.6h0M183.8 153.6h0M198.1 153.6h0M212.3 153.6h0M226.6 153.6h0M240.8 153.6h0" stroke="#000" stroke-width="4.1" stroke-linecap="round" fill="none"/><use href="#c2"/></g>
<rect x="64.8" y="314.6" width="239.6" height="157.7" fill="none" stroke="#000" stroke-width="3.3"/>
<path d="M64.8 472.3V478.2M133.2 472.3V478.2M201.7 472.3V478.2M270.1 472.3V478.2M64.8 472.3H58.5M64.8 419.8H58.5M64.8 367.2H58.5M64.8 314.6H58.5" stroke="#000" stroke-width="2.8" stroke-linecap="round" fill="none"/>
<path d="M76.2 472.3V475.9M87.6 472.3V475.9M99 472.3V475.9M110.4 472.3V475.9M121.8 472.3V475.9M144.6 472.3V475.9M156 472.3V475.9M167.4 472.3V475.9M178.8 472.3V475.9M190.3 472.3V475.9M213.1 472.3V475.9M224.5 472.3V475.9M235.9 472.3V475.9M247.3 472.3V475.9M258.7 472.3V475.9M281.5 472.3V475.9M292.9 472.3V475.9M304.4 472.3V475.9M64.8 454.8H60.5M64.8 437.3H60.5M64.8 402.3H60.5M64.8 384.7H60.5M64.8 349.7H60.5M64.8 332.2H60.5" stroke="#000" stroke-opacity="0.3" stroke-width="0.7" fill="none"/>
<text x="64.8" y="498.6" font-size="18" text-anchor="middle">180</text>
<text x="133.2" y="498.6" font-size="18" text-anchor="middle">120W</text>
<text x="201.7" y="498.6" font-size="18" text-anchor="middle">60W</text>
<text x="270.1" y="498.6" font-size="18" text-anchor="middle">0</text>
<text x="53.9" y="320.9" font-size="18.3" text-anchor="end">90N</text>
<text x="53.9" y="373.5" font-size="18.3" text-anchor="end">60N</text>
<text x="53.9" y="426.1" font-size="18.3" text-anchor="end">30N</text>
<text x="53.9" y="478.6" font-size="18.3" text-anchor="end">EQ</text>
<text x="63.4" y="307.7" font-size="20.2">(f) SEN_IO</text>
<text x="305.4" y="309.9" font-size="18" text-anchor="end">Z850</text>
<g transform="translate(318.7 313)" clip-path="url(#cp)"><rect x="0" y="0" width="242.9" height="161" fill="#0000FF"/><path d="M-2 -2L244.8 -2L244.8 163L-2 163ZM20.5 64.1L19.3 65.5L18.3 67.8L18.1 70L18.4 72.2L19.6 75.2L21.4 78.2L23.7 81.2L26.5 84.2L28.9 86.5L31.9 88.8L34.8 90.4L37.8 91.6L40.8 92.1L43 91.9L45.2 91L46.8 89.7L48.2 87.5L49.1 85L49.3 82L49 79.5L48 76L46.5 73L44.5 70L42.2 67.5L40 65.6L37 63.8L34 62.6L31 61.8L28 61.6L25 61.9L22.8 62.7Z" fill="#0070E6" fill-rule="evenodd"/><path d="M-2 -2L244.8 -2L244.8 163L-2 163L-2 76.5L1 77.2L4 78.1L9.2 80.3L14.5 83.6L25.4 91.8L30.2 95L35.5 97.7L38.5 98.8L40.8 99.2L43.8 99.3L46.8 98.7L49 97.7L51.2 95.9L52.8 94L54.3 91L55.1 88L55.5 84.2L55.3 80.5L54.3 76L52.8 71.8L50.7 67.8L48.2 64.1L45.6 61L42.2 58L39 55.8L34.8 53.4L30.2 51.5L25.8 50.1L20.5 48.9L16 48.2L10.8 47.9L5.5 48L-2 48.4Z" fill="#00A0F8" fill-rule="evenodd"/><path d="M-2 -2L244.8 -2L244.8 163L-2 163L-2 84.5L1.8 85.3L4.8 86.2L7.8 87.5L10.8 89L16 92.3L28 101L31.8 103.4L34.8 105.1L37.8 106.4L40 107.2L43 107.9L45.2 108.1L49 107.7L52 106.6L53.5 105.7L55 104.5L57.1 102.2L58.9 99.2L60.4 95.5L61.4 91L61.7 86.5L61.5 82L60.5 76.8L58.8 71.5L56.4 66.2L53.8 61.8L51 58L47.5 54.5L43.8 51.4L39.2 48.5L34 45.8L28.8 43.7L22.8 42L17.5 40.9L11.5 40.3L6.2 40.1L-2 40.4ZM181.8 75.8L178.8 77L176.5 78.4L174.3 80.5L172.6 82.8L171.2 85.8L170.5 88.8L170.4 91.8L170.9 94.8L172 97.6L173.5 100.1L175.5 102.2L178 104.1L181 105.4L184 106.1L187 106.1L190 105.6L192.9 104.5L195.2 103L197.5 100.9L199.2 98.5L200.5 95.5L201.2 92.5L201.2 89.5L200.7 86.5L199.5 83.5L198 81.2L196 79.1L193.8 77.5L190.8 76.1L187.8 75.4L184.8 75.3Z" fill="#00C4F4" fill-rule="evenodd"/><path d="M-2 -2L244.8 -2L244.8 163L-2 163L-2 93.1L3.2 94.2L7 95.4L10 96.7L13.8 99.1L16.6 101.5L18.6 103.8L25 112.3L26.5 114L31 118.2L35.5 121.4L39.2 123.5L43 125L46.8 125.9L49.8 126.2L52.8 126.1L55 125.8L57.2 125.2L59.5 124.3L61.8 123L63.5 121.8L65.5 119.9L67 118.1L69.5 114.2L70.5 112L71.5 109L72.2 106L72.7 103L73 97L72.6 89.5L71.3 82L69.6 76L66.8 68.5L63.5 61.8L60.2 56.5L56.5 51.9L52 47.5L46.8 43.5L40 39.5L34 36.8L27.2 34.5L22 33.4L17.5 32.9L5.5 32.6L-2 33.1ZM105.9 97.8L104.6 100L104 102.2L104 105.2L104.6 107.5L105.9 109.8L107.8 112L110.5 113.9L113.5 115.2L116.5 116L120.2 116.2L123.2 115.8L126.2 114.9L129.2 113.3L131.5 111.4L133.3 109L134.3 106.8L134.8 104.5L134.7 102.2L134.1 100L132.9 97.8L131.5 96.1L129.2 94.2L127 92.9L124.8 92.1L122.5 91.6L119.5 91.3L116.5 91.5L114.2 92L112 92.8L109.8 94.1L107.5 95.8ZM190.8 67L187 66.9L182.5 67.8L174.4 70.8L170 73L167.2 75.2L165 78.2L163.1 82L162 85.8L161.7 88L161.5 91L161.9 95.5L163.3 100L164.3 102.2L165.7 104.5L168.9 108.2L172 110.8L174.2 112.2L176.5 113.2L181 114.6L183.2 114.9L186.2 115.1L190.8 114.6L195.2 113.2L197.5 112.1L199.8 110.8L202.8 108.2L204.2 106.7L205.9 104.5L207.3 102.2L208.4 100L209.7 95.5L210.2 91L209.8 86.5L208.6 82L207.6 79.8L206.3 77.5L203.3 73.8L199.8 70.7L197.5 69.4L195.2 68.3L193 67.5Z" fill="#90DCF2" fill-rule="evenodd"/><path d="M-2 -2L244.8 -2L244.8 52.4L240.2 52.3L234.2 51.7L223 51.5L217.6 52L215 52.8L199 58.5L180.2 64.3L169.8 68.1L158.5 72.7L151.8 75L148.8 75.7L147.2 75.6L145 75L128.5 66.9L127 66.4L125.5 66.4L124.3 67L123.2 68.3L119.2 76L118.3 77.5L117.2 78.6L114.2 80.5L107.5 83.4L105.2 84.1L103 84.3L95.5 83.6L85.8 82.4L82.8 81.4L82 80.8L81.2 79.8L79 73.5L76.5 64.8L76.5 62.5L76.7 60.2L80.2 40.8L80.2 39.2L80 38.5L79 37.1L77.5 36.1L71.5 32.7L66.2 30L63.2 28.8L61 28.4L51.2 28.3L43.8 28.9L19 28.1L13.8 28.4L3.2 28.5L-2 29ZM-2 99.6L1.8 99.6L5.5 100.1L7.8 100.9L10.8 102.8L13 104.8L15.2 107.7L17.5 112L18.4 115L18.9 118.8L18.7 122.5L17.9 126.2L16.6 129.2L14.5 132.2L12 134.5L9.2 136.1L5.5 137.3L2.5 137.5L-2 136.7ZM244.8 117.8L244.8 163L136.5 163L137.2 159.2L141.6 141.2L142.2 139.8L143.2 138.2L144.2 137.4L145.4 136.8L148.8 135.8L175.8 130L217 123.6Z" fill="#FFF478" fill-rule="evenodd"/><path d="M-2 -2L244.8 -2L244.8 44.7L240.2 43.8L238 44L226 47.5L215.5 49.8L205.2 53.5L198.3 55.8L195.4 56.5L188.5 57.8L180.2 58.9L160 62.3L157.8 62.4L156.2 61.8L154.8 60.6L150 55.8L148.4 53.5L147.8 52L139.9 22.8L139 21.1L138.2 20.4L137.1 19.8L129.2 18L109.8 14.3L107.5 14.1L102.2 14.1L96.2 14.8L81.2 14.9L75.2 15.6L66.2 15.7L25 21.3L4.8 23.6L-2 24.7Z" fill="#FFC400" fill-rule="evenodd"/><path d="M162.2 30L163.8 29.7L165.2 29.9L167.5 30.9L168.5 31.8L169.6 33.2L170.4 35.5L170.5 37L170.4 38.5L169.5 40.8L168.3 42.2L167.5 42.9L165.2 43.9L163 44L161.5 43.6L160.4 43L159.2 42L158.5 41L157.9 40L157.4 38.5L157.3 37L157.4 35.5L158.2 33.2L159.2 31.8L160 31.1Z" fill="#FF8200" fill-rule="evenodd"/><path d="M156.2 23.3h0M170.5 23.3h0M184.7 23.3h0M199 23.3h0M163.4 30.5h0M177.6 30.5h0M191.9 30.5h0M156.2 37.7h0M170.5 37.7h0M184.7 37.7h0M199 37.7h0M163.4 45h0M177.6 45h0M13.7 52.2h0M28 52.2h0M156.2 52.2h0M170.5 52.2h0M6.6 59.5h0M20.9 59.5h0M35.1 59.5h0M13.7 66.7h0M28 66.7h0M42.2 66.7h0M6.6 73.9h0M20.9 73.9h0M35.1 73.9h0M49.4 73.9h0M13.7 81.2h0M28 81.2h0M42.2 81.2h0M56.5 81.2h0M35.1 88.4h0M49.4 88.4h0M63.6 88.4h0M42.2 95.7h0M56.5 95.7h0M184.7 95.7h0M35.1 102.9h0M49.4 102.9h0M63.6 102.9h0M120.6 102.9h0M177.6 102.9h0M191.9 102.9h0M42.2 110.1h0M56.5 110.1h0M99.2 110.1h0M113.5 110.1h0M127.7 110.1h0M184.7 110.1h0M35.1 117.4h0M49.4 117.4h0M106.4 117.4h0M120.6 117.4h0M134.9 117.4h0M28 124.6h0M42.2 124.6h0M56.5 124.6h0M70.7 124.6h0M85 124.6h0M99.2 124.6h0M113.5 124.6h0M127.7 124.6h0M35.1 131.9h0M49.4 131.9h0M63.6 131.9h0M106.4 131.9h0M120.6 131.9h0M28 139.1h0M42.2 139.1h0M56.5 139.1h0M70.7 139.1h0M20.9 146.3h0M35.1 146.3h0M49.4 146.3h0M63.6 146.3h0M28 153.6h0M42.2 153.6h0M56.5 153.6h0M70.7 153.6h0" stroke="#000" stroke-width="4.1" stroke-linecap="round" fill="none"/><use href="#c2"/></g>
<rect x="320.3" y="314.6" width="239.6" height="157.7" fill="none" stroke="#000" stroke-width="3.3"/>
<path d="M320.3 472.3V478.2M388.8 472.3V478.2M457.3 472.3V478.2M525.7 472.3V478.2" stroke="#000" stroke-width="2.8" stroke-linecap="round" fill="none"/>
<path d="M331.8 472.3V475.9M343.2 472.3V475.9M354.6 472.3V475.9M366 472.3V475.9M377.4 472.3V475.9M400.2 472.3V475.9M411.6 472.3V475.9M423 472.3V475.9M434.4 472.3V475.9M445.9 472.3V475.9M468.7 472.3V475.9M480.1 472.3V475.9M491.5 472.3V475.9M502.9 472.3V475.9M514.3 472.3V475.9M537.1 472.3V475.9M548.5 472.3V475.9M559.9 472.3V475.9" stroke="#000" stroke-opacity="0.3" stroke-width="0.7" fill="none"/>
<text x="320.3" y="498.6" font-size="18" text-anchor="middle">180</text>
<text x="388.8" y="498.6" font-size="18" text-anchor="middle">120W</text>
<text x="457.3" y="498.6" font-size="18" text-anchor="middle">60W</text>
<text x="525.7" y="498.6" font-size="18" text-anchor="middle">0</text>
<text x="319" y="307.7" font-size="20.2">(g) WSGEN</text>
<text x="561" y="309.9" font-size="18" text-anchor="end">Z850</text>
<g transform="translate(574.3 313)" clip-path="url(#cp)"><rect x="0" y="0" width="242.9" height="161" fill="#0000FF"/><path d="M-2 -2L244.8 -2L244.8 163L-2 163ZM12.1 58L11.1 60.2L10.8 62.5L11.3 64.8L12 66.2L13.7 68.5L15.4 70L18.6 72.2L21.2 73.7L25 75.2L27.2 76L30.2 76.5L32.5 76.6L34.8 76.2L37 75.3L38.5 74.2L40 72.2L40.9 70L41.1 67.8L40.8 64.8L40 62.5L38.7 60.2L36.8 58L34.2 55.8L31.8 54.3L29.5 53.5L26.5 52.8L23.5 52.6L20.5 52.8L18 53.5L15.2 54.8L13.2 56.5Z" fill="#0070E6" fill-rule="evenodd"/><path d="M-2 -2L244.8 -2L244.8 163L-2 163L-2 75.5L17 82L23.5 84L27.2 84.8L30.2 85.2L33.2 85.3L35.5 85.2L38.5 84.5L41.5 83.3L43.8 81.9L46.1 79.8L47.8 77.5L49.2 74.5L50 71.5L50.2 68.5L50 65.5L49.1 61.8L47.5 58L45.7 55L43.2 52L40.8 49.7L37.8 47.4L34 45.4L30.2 43.9L26.5 42.9L22 42.2L17.5 41.8L13 41.8L8.5 42.2L-2 44Z" fill="#00A0F8" fill-rule="evenodd"/><path d="M-2 -2L244.8 -2L244.8 163L-2 163L-2 83.6L4 85.3L19.8 90.4L26.5 92.1L30.2 92.7L34 92.9L37.8 92.6L40.8 92.1L44.5 90.8L48.2 88.8L51.4 86.5L54.4 83.5L56.5 80.5L58.2 76.8L59.3 73L59.7 68.5L59.3 64L58.4 60.2L57 56.5L54.8 52.8L51.9 49L48.9 46L45.2 43L40.8 40.2L37 38.5L32.5 36.9L27.2 35.7L22 34.9L16.8 34.6L11.5 34.6L6.2 35L-2 35.9Z" fill="#00C4F4" fill-rule="evenodd"/><path d="M-2 -2L244.8 -2L244.8 163L-2 163L-2 92.7L6.2 93.8L10 94.5L14.5 95.8L18.2 97.3L22.8 99.6L26.5 102L28.6 103.8L34.8 109.5L36.2 110.3L37.8 110.6L42.2 110.6L46.8 110.3L51.2 109.6L55.8 108.5L60.2 106.9L64 105.3L67.8 103.4L71.5 100.9L73 99.4L73.4 98.5L73.6 97L73 93.2L72.2 90.5L69 81.2L67.9 77.5L67.4 73L66.9 64.8L67.1 63.2L67.7 61L70.8 52L73 44.9L74.5 39.2L74.8 37L74.5 35.5L73 33.8L69.2 31.2L64.8 28.7L61 27L56.5 25.4L52 24.2L46.8 23.3L41.5 22.7L36.2 22.5L30.2 22.5L23.5 22.8L12.2 23.9L-2 26.2Z" fill="#90DCF2" fill-rule="evenodd"/><path d="M89.8 29.5L92.5 26.8L95.5 25L104.5 21.1L109.8 19.3L112.8 19.1L122.5 19.7L129.2 20.5L133 21.5L134.5 22.4L135.2 23.4L135.6 25.8L136.1 27.2L144.2 43L148.6 49L151.8 52.8L153.2 53.9L154.8 54.2L158.5 53.3L161.1 52L162.9 50.5L167.5 45.8L169 44.5L170.5 43.5L176.1 40.8L178.5 39.2L181.7 36.2L183.3 34L184 33.4L184.8 33L238.8 24L244.8 23.2L244.8 163L125.1 163L125.2 129.2L125.4 127.8L125.9 126.2L126.9 124.8L127.8 124L131.5 121.5L135.2 119.2L137.5 118.3L139 117.9L147.2 117.5L154 116.9L171.2 116.8L177.2 116.2L183.2 116L185.5 115.7L187 114.9L188.5 113.6L191.4 109.8L192.2 108.2L192.7 106.8L192.8 106L192.6 104.5L190.9 101.5L189.2 99.2L187.9 97.8L186.9 97L185.5 96.3L183.2 96L177.2 95.9L169.8 96.6L151.8 96.7L144.2 97.3L127 97.2L119.5 97.7L112 97.7L109 98.3L107.5 98.9L105.2 100.3L98 105.2L93.2 110.1L92.5 110.5L91.8 110.6L91 110.5L90.2 110.1L88.8 108.5L86.3 105.2L83.5 100.8L82.8 99L82 96.7L81.6 93.2L82.1 91L86 84.2L88.1 79L89.5 73.8L90.1 67.8L89.8 61.8L88.7 56.5L87.7 53.5L86.5 50.5L82.9 43.8L82.7 43L82.7 41.5L83.5 39.2L85.8 35.1L87.4 32.5ZM-2 98.5L1.6 99.2L6.2 100.8L14.5 104.8L22 108.1L24.2 109.5L25.8 110.8L27.2 112.7L28 114L29 117.2L29.4 121L29 124L28 126.8L26.5 129.4L24.2 132.2L20.6 135.2L17.5 137.1L15.2 138.1L12.5 139L6.2 140.3L3.2 140.5L-2 140Z" fill="#FFF478" fill-rule="evenodd"/><path d="M244.8 29.3L244.8 67L241 68.1L223 75.5L217.8 77.4L212.5 78.4L199 80L190 80.1L182.5 79.4L166 79.3L159.2 78.7L152.5 78.5L150.2 78.2L148.8 77.6L147.7 76.8L147.2 76L147 74.5L147.2 73.8L148 72.2L155.9 62.5L159.8 57.2L161.2 55.8L167.5 49.8L170.5 47.3L174.8 44.5L181.8 40.8L184 39.9L194.5 36.8L199.8 35.7Z" fill="#FFC400" fill-rule="evenodd"/><path d="M244.8 41.1L244.8 57.9L242.5 58.6L229 63.7L223.8 65.2L209.5 68.4L206.5 68.8L196 68.8L190 68.2L179.5 68L177.2 67.4L175.7 66.2L171.2 61L170.1 58.8L170.1 57.2L170.8 55.8L175.8 49.7L177.2 48.6L179.5 47.8L182.5 47.3L215.5 43.5L220 43.2L224.5 42.7L229 42.5L233.5 41.9L238 41.7L241.8 41.3Z" fill="#FF8200" fill-rule="evenodd"/><path d="M7.5 59.5h0M21.8 59.5h0M14.6 66.7h0M28.9 66.7h0M7.5 73.9h0M21.8 73.9h0M36 73.9h0M50.2 73.9h0M14.6 81.2h0M28.9 81.2h0M43.1 81.2h0M57.4 81.2h0M21.8 88.4h0M36 88.4h0M50.2 88.4h0M64.5 88.4h0M28.9 95.7h0M43.1 95.7h0M57.4 95.7h0M36 102.9h0M50.2 102.9h0M64.5 102.9h0M235.5 117.4h0M199.9 124.6h0M214.1 124.6h0M228.4 124.6h0M50.2 131.9h0M64.5 131.9h0M178.5 131.9h0M192.8 131.9h0M207 131.9h0M221.2 131.9h0M235.5 131.9h0M57.4 139.1h0M157.1 139.1h0M171.4 139.1h0M185.6 139.1h0M199.9 139.1h0M214.1 139.1h0M228.4 139.1h0M50.2 146.3h0M64.5 146.3h0M164.2 146.3h0M178.5 146.3h0M192.8 146.3h0M207 146.3h0M221.2 146.3h0M235.5 146.3h0M157.1 153.6h0M171.4 153.6h0M185.6 153.6h0M199.9 153.6h0M214.1 153.6h0M228.4 153.6h0" stroke="#000" stroke-width="4.1" stroke-linecap="round" fill="none"/><use href="#c2"/></g>
<rect x="575.9" y="314.6" width="239.6" height="157.7" fill="none" stroke="#000" stroke-width="3.3"/>
<path d="M575.9 472.3V478.2M644.4 472.3V478.2M712.9 472.3V478.2M781.3 472.3V478.2" stroke="#000" stroke-width="2.8" stroke-linecap="round" fill="none"/>
<path d="M587.4 472.3V475.9M598.8 472.3V475.9M610.2 472.3V475.9M621.6 472.3V475.9M633 472.3V475.9M655.8 472.3V475.9M667.2 472.3V475.9M678.6 472.3V475.9M690 472.3V475.9M701.5 472.3V475.9M724.3 472.3V475.9M735.7 472.3V475.9M747.1 472.3V475.9M758.5 472.3V475.9M769.9 472.3V475.9M792.7 472.3V475.9M804.1 472.3V475.9M815.5 472.3V475.9" stroke="#000" stroke-opacity="0.3" stroke-width="0.7" fill="none"/>
<text x="575.9" y="498.6" font-size="18" text-anchor="middle">180</text>
<text x="644.4" y="498.6" font-size="18" text-anchor="middle">120W</text>
<text x="712.9" y="498.6" font-size="18" text-anchor="middle">60W</text>
<text x="781.3" y="498.6" font-size="18" text-anchor="middle">0</text>
<text x="574.6" y="307.7" font-size="20.2">(h) EqEN_IO</text>
<text x="816.6" y="309.9" font-size="18" text-anchor="end">Z850</text>
<g transform="translate(829.9 313)" clip-path="url(#cp)"><rect x="0" y="0" width="242.9" height="161" fill="#9B1FF0"/><path d="M-2 -2L244.8 -2L244.8 163L-2 163Z" fill="#0000FF" fill-rule="evenodd"/><path d="M-2 -2L244.8 -2L244.8 163L-2 163ZM50.9 53.5L51.5 55L52.1 55.8L53.5 56.8L55 57.4L56.5 57.8L59.5 57.8L62 57.2L65.4 55.8L67.6 54.2L69.3 52.8L69.9 52L70 51.2L69.6 50.5L68.8 49.8L65.7 48.2L61.8 47.4L58 47.4L55 48.1L52.8 49.4L52 50.1L51.2 51.2L51 52Z" fill="#0070E6" fill-rule="evenodd"/><path d="M-2 -2L244.8 -2L244.8 163L-2 163ZM47.1 50.5L47.1 52.8L47.5 54.2L48.3 55.8L49.7 57.2L51.2 58.4L53.5 59.5L55.8 60.2L58.8 60.6L66.2 61.1L73.8 62L78.2 62.4L82.8 62.4L87.2 62.1L91 61.2L93.2 60.1L94.7 58.8L95.2 58L96 55.8L95.9 53.5L95.5 52L94.7 50.5L93.7 49L92.5 47.6L89.5 45.3L86.2 43.8L82 42.4L76.8 41.4L70.8 40.5L65.5 40.1L61.8 40.3L58 41L55 42L52 43.7L49.8 45.6L47.9 48.2Z" fill="#00A0F8" fill-rule="evenodd"/><path d="M-2 -2L244.8 -2L244.8 163L-2 163ZM42 45.2L41.7 46.8L41.6 49L41.8 50.5L42.2 52L43 53.5L44.7 55.8L47.9 58.8L51.2 60.9L55 62.6L61.8 64.9L68.5 66.6L74.5 67.6L80.5 68L87.2 67.9L92.5 67.1L96.2 65.8L97.8 65L99.2 63.8L100.5 62.5L101.6 61L102.3 59.5L102.7 58L102.9 56.5L102.9 54.2L101.9 50.5L100.9 48.2L99.5 46L97.8 43.8L96.2 42.2L92.5 39.3L88.8 37.4L82.8 35.4L76 33.7L70 32.8L64 32.4L59.5 32.8L55 33.8L50.5 35.8L48.2 37.2L46.6 38.5L45 40L43.8 41.6L42.6 43.8Z" fill="#00C4F4" fill-rule="evenodd"/><path d="M-2 -2L244.8 -2L244.8 25.6L234.2 20.7L230.5 19.4L226.8 18.5L222.2 17.9L217.8 17.9L213.2 18.3L209.5 19.1L205 20.6L201.2 22.5L198.2 24.5L195.1 27.2L192.7 30.2L191 33.2L189.8 37L189.5 40L190 43.8L191.2 46.8L193.1 49.8L195.8 52.8L199.5 55.8L203.5 58.3L208 60.6L212.5 62.2L216.2 63L220 63.5L223.8 63.4L227.5 63L231.2 62.1L234.2 61.1L244.8 56.4L244.8 163L-2 163ZM25.4 31L24.6 33.2L24.3 35.5L24.5 37L25.6 39.2L28.8 43L40 54.2L46.1 59.5L51.2 63L62.5 69.1L66.2 70.9L70 72.5L75.2 73.9L81.2 74.5L85.8 74.5L90.2 74.2L93.2 73.8L96.2 73.1L98.5 72.4L100.8 71.3L102.9 70L104.5 68.7L106.2 67L107.5 65.3L108.7 63.2L109.7 61L110.5 58L110.8 55L110.7 52L110.2 49L109.3 45.2L107.7 40L106.3 36.2L104.5 32.5L103.1 30.2L101.3 28L99.2 25.9L97.3 24.2L92.5 21.2L86.5 18.5L82.8 17.3L78.2 16.2L73.8 15.4L68.5 14.9L63.2 14.8L58.8 15L54.2 15.4L49.8 16.2L45.2 17.3L41.5 18.5L37.8 20.1L34.1 22L31 24.2L28.8 26.2L26.7 28.8Z" fill="#90DCF2" fill-rule="evenodd"/><path d="M-2 25.8L1 26.1L3.2 26.8L10 31.2L12.6 33.2L15.1 36.2L16.7 37.8L31.8 49.5L43.8 59.5L49.8 63.8L61.8 71.5L66.7 74.5L73.3 77.5L80.5 80.3L85.8 81.7L91 81.9L107.5 81.6L109.8 81L112.8 79L117.2 75L118.8 72.9L119.5 70.8L124.3 53.5L125.1 51.2L126 49.8L127.8 47.8L133.1 43L136 40.7L138.2 39.5L140.5 39L151 38.8L153.2 39L154.8 39.5L157.8 41L164.5 45.2L175.3 51.2L187 56.8L195.2 61.3L198.2 63.2L200.6 65.5L205.3 71.5L209.5 77.9L210.2 78.6L211 78.9L211.8 79.1L213.2 78.9L218.8 77.5L231.2 73.4L242.5 69.2L244.8 68.5L244.8 121.3L213.2 117.1L178 112.8L175 112.8L170.5 113.3L165.2 113.4L160 114L154.8 114.1L149.5 114.6L144.2 114.7L139 115.3L133.8 115.5L127.8 116.3L118.8 117.8L111.2 119.4L92.5 123.9L85.8 125.7L83.5 126.8L81.2 128.4L72.4 136L71.8 136.8L71.3 138.2L71.4 139L71.8 140.5L81 160L82.1 163L-2 163Z" fill="#FFF478" fill-rule="evenodd"/><path d="M-2 36.6L1 37L4 37.9L10.8 41.1L12.2 41.3L15.2 40.7L16.8 41.1L18.2 41.9L27.3 48.2L46.8 63.5L64 75.5L70.4 79L75.2 82L76.9 83.5L78.9 87.2L81.4 90.2L82.8 91.3L86.5 93.2L91.8 96.6L94.8 98L96.2 98.3L97.8 98.5L100 98L103 96.4L105.2 95.7L108.2 95.7L109.8 96L111.2 96.7L112.6 97.8L113.2 98.5L113.8 100L113.9 100.8L113.6 102.2L112.4 104.5L112.1 106L112.5 107.5L113.3 109L113.4 109.8L112.8 110.1L110.5 110L104.5 108.7L100 107.1L91 102.7L88.8 102L87.2 102L85.8 102.6L85 103.4L82.2 109L81.2 110.2L79.8 111.5L66.7 120.2L64 121.7L61.6 122.5L41.5 126.6L36.2 127.3L33.2 127.3L27.2 126.7L19.8 126.5L13.8 125.9L-2 125.9ZM139.1 68.5L140.1 66.2L141.1 64.8L143.6 61.8L147.2 58.9L151 56.9L155.5 55.2L160.8 54.1L166 53.7L169.8 54.2L174 55.8L186.4 61L192.1 64L195.4 66.2L197.5 68.4L199.8 71.5L202.7 76.8L203.6 79L204.1 81.2L204.2 82.8L203.9 84.2L203.1 86.5L202 88.5L200.7 90.2L199 92.1L195.2 95L193 96.2L190 97.6L184.8 99.1L181.8 99.6L178 99.9L171.2 99.8L164.5 98.7L158.5 96.8L155.5 95.6L152.5 94L149.5 92.1L147.2 90.4L145.3 88.8L143.2 86.5L141.5 84.2L140.2 82L139.2 79.8L138.5 77.5L138.2 75.2L138.1 73L138.4 70.8Z" fill="#FFC400" fill-rule="evenodd"/><path d="M-2 43.9L1.8 44.1L4 44.5L6.2 45.4L11.5 48L13 48.5L14.5 48.3L16.8 46.5L17.5 46.2L18.2 46.3L19.8 46.9L24.6 49.8L28.8 52.8L44.5 65.3L49 68.5L59.1 77.5L65.5 82.6L73.3 90.2L75.4 92.5L76.6 94.8L76.9 97L76.1 102.2L75 104.5L73 106.4L67.6 110.5L65.4 112L63.2 113L59.5 114L39.2 118L36.2 118.3L33.2 118.3L26.5 117.7L16 117.5L10 116.9L-2 116.9ZM156 73L157 71.1L158.5 69.4L160.8 67.9L162.7 67L165.2 66.3L168.2 65.9L171.2 66L174.2 66.5L177.2 67.4L179.5 68.4L181.8 69.8L183.8 71.5L185.1 73L186.3 75.2L186.9 77.5L186.8 79.8L185.9 82L184.8 83.6L183.1 85L180.2 86.5L177.2 87.4L174.2 87.7L171.2 87.6L168.2 87.1L165.2 86.2L162.2 84.8L160 83.2L158 81.2L156.9 79.8L156 77.5L155.7 75.2Z" fill="#FF8200" fill-rule="evenodd"/><path d="M-2 50.5L1.8 51L5.7 52L9 53.5L17.5 58L37 71.2L51.2 82.6L55.8 87.1L60.4 92.5L61.3 94L61.7 96.2L61.2 100L60.6 102.2L59.5 104.1L58.1 105.2L51.2 108.8L48.7 109.8L43.8 110.7L29.5 112.2L27.2 112.1L19 110.8L5.5 108.1L3.2 107.9L-2 107.9Z" fill="#FF0A00" fill-rule="evenodd"/><path d="M-2 57.8L0.2 58L5.5 59.1L16 63.2L19 64.6L21.7 66.2L36.3 76.8L46 85.4L48.4 88L49.9 90.2L51.3 93.2L51.7 95.5L51 97.8L49.3 100.8L48.2 101.8L46.8 102.7L41.5 104.9L38.2 106L31 107L25 107.2L21.2 107.6L19 107.5L16.8 107.1L4.8 103.6L-2 103.4Z" fill="#EB0000" fill-rule="evenodd"/><path d="M-2 66.7L1 66.8L7.8 67.7L9.2 68L20.3 72.2L23.3 73.8L32.5 80.5L34.8 82.7L38.6 88L39.9 90.2L40.1 91.8L39.4 93.2L35.1 98.5L32.7 100.8L31 101.6L27.2 102.4L23.5 102.7L19.8 103.2L18.2 103.2L4.8 99.7L-2 99.6Z" fill="#FFB4B4" fill-rule="evenodd"/><path d="M172.3 23.3h0M186.5 23.3h0M200.8 23.3h0M179.4 30.5h0M193.6 30.5h0M186.5 37.7h0M200.8 37.7h0M51.1 45h0M65.4 45h0M79.6 45h0M93.9 45h0M193.6 45h0M58.3 52.2h0M72.5 52.2h0M86.8 52.2h0M200.8 52.2h0M65.4 59.5h0M79.6 59.5h0M93.9 59.5h0M150.9 59.5h0M165.1 59.5h0M15.5 66.7h0M29.8 66.7h0M72.5 66.7h0M86.8 66.7h0M143.8 66.7h0M158 66.7h0M172.3 66.7h0M8.4 73.9h0M22.6 73.9h0M36.9 73.9h0M150.9 73.9h0M165.1 73.9h0M179.4 73.9h0M15.5 81.2h0M29.8 81.2h0M44 81.2h0M58.3 81.2h0M143.8 81.2h0M158 81.2h0M172.3 81.2h0M186.5 81.2h0M8.4 88.4h0M22.6 88.4h0M36.9 88.4h0M51.1 88.4h0M65.4 88.4h0M150.9 88.4h0M165.1 88.4h0M179.4 88.4h0M15.5 95.7h0M29.8 95.7h0M44 95.7h0M58.3 95.7h0M72.5 95.7h0M86.8 95.7h0M158 95.7h0M172.3 95.7h0M8.4 102.9h0M22.6 102.9h0M36.9 102.9h0M51.1 102.9h0M65.4 102.9h0M79.6 102.9h0M15.5 110.1h0M29.8 110.1h0M44 110.1h0M58.3 110.1h0M72.5 110.1h0M22.6 117.4h0M36.9 117.4h0M51.1 117.4h0M65.4 117.4h0M29.8 124.6h0M44 124.6h0M58.3 124.6h0M22.6 131.9h0M36.9 131.9h0M51.1 131.9h0M65.4 131.9h0M29.8 139.1h0M44 139.1h0M58.3 139.1h0M86.8 139.1h0M101 139.1h0M115.3 139.1h0M129.5 139.1h0M143.8 139.1h0M158 139.1h0M172.3 139.1h0M186.5 139.1h0M200.8 139.1h0M215 139.1h0M229.3 139.1h0M22.6 146.3h0M36.9 146.3h0M51.1 146.3h0M65.4 146.3h0M108.1 146.3h0M122.4 146.3h0M136.6 146.3h0M150.9 146.3h0M165.1 146.3h0M179.4 146.3h0M193.6 146.3h0M207.9 146.3h0M222.1 146.3h0M236.4 146.3h0M15.5 153.6h0M29.8 153.6h0M44 153.6h0M58.3 153.6h0M115.3 153.6h0M129.5 153.6h0M143.8 153.6h0M158 153.6h0M172.3 153.6h0M186.5 153.6h0M200.8 153.6h0M215 153.6h0M229.3 153.6h0" stroke="#000" stroke-width="4.1" stroke-linecap="round" fill="none"/><use href="#c2"/></g>
<rect x="831.5" y="314.6" width="239.6" height="157.7" fill="none" stroke="#000" stroke-width="3.3"/>
<path d="M831.5 472.3V478.2M900 472.3V478.2M968.5 472.3V478.2M1036.9 472.3V478.2" stroke="#000" stroke-width="2.8" stroke-linecap="round" fill="none"/>
<path d="M843 472.3V475.9M854.4 472.3V475.9M865.8 472.3V475.9M877.2 472.3V475.9M888.6 472.3V475.9M911.4 472.3V475.9M922.8 472.3V475.9M934.2 472.3V475.9M945.6 472.3V475.9M957.1 472.3V475.9M979.9 472.3V475.9M991.3 472.3V475.9M1002.7 472.3V475.9M1014.1 472.3V475.9M1025.5 472.3V475.9M1048.3 472.3V475.9M1059.7 472.3V475.9M1071.1 472.3V475.9" stroke="#000" stroke-opacity="0.3" stroke-width="0.7" fill="none"/>
<text x="831.5" y="498.6" font-size="18" text-anchor="middle">180</text>
<text x="900" y="498.6" font-size="18" text-anchor="middle">120W</text>
<text x="968.5" y="498.6" font-size="18" text-anchor="middle">60W</text>
<text x="1036.9" y="498.6" font-size="18" text-anchor="middle">0</text>
<text x="830.2" y="307.7" font-size="20.2">(i) SGLN</text>
<text x="1072.2" y="309.9" font-size="18" text-anchor="end">Z850</text>
<g transform="translate(1085.5 313)" clip-path="url(#cp)"><rect x="0" y="0" width="242.9" height="161" fill="#00A0F8"/><path d="M-2 -2L244.8 -2L244.8 163L-2 163L-2 102.3L5.5 102.9L10 103L14.5 102.6L18.2 101.6L21.8 100L24.2 97.9L25 97L25.7 95.5L26.1 93.2L25.5 91L24 88.8L22.8 87.6L21.2 86.7L18.2 85.5L14.5 84.7L10.8 84.5L-2 85.1Z" fill="#00C4F4" fill-rule="evenodd"/><path d="M244.8 -2L244.8 163L-2 163L-2 111.8L7 112.5L13 112.4L19 111.4L22 110.5L25 109.4L28 107.8L30.2 106.2L32.1 104.5L34 102.3L35.4 100L36.3 97.8L36.8 95.5L36.9 93.2L36.7 91L36.1 88.8L35.1 86.5L33.7 84.2L32.4 82.8L30.2 80.8L28 79.3L25.8 78.2L23.5 77.5L21.2 76.9L16.8 76.6L12.2 76.7L2.5 77.6L-2 77.8L-2 20.6L1 21L5.5 22.3L16.8 26.9L22.8 29.6L25 30.4L35.5 33.3L50.5 36.9L52.8 37.1L64 34.5L66 33.2L77.5 27.4L82 24.8L92.5 19.6L94.8 18.8L98.5 18L105.2 17.2L109 17L124 15L127 14.8L139 13.2L175.8 5.5L177.4 4.8L178.8 3.4L180.4 0.2L181.2 -2ZM63.6 38.5L64 40.1L64.6 40.8L65.5 41.2L67.8 41.8L76.8 43.2L77.5 43.1L78.2 42.7L79 41.6L80.1 38.5L80.2 37L79.6 36.2L78.2 35.9L69.2 35.8L64.8 35.6L64 36.2L63.7 37ZM151.8 41.3L151 41.6L150.2 42.3L149.4 44.5L147.9 57.2L148.5 61L151.6 71.5L152.5 73.4L154 75L162.2 80.8L164.5 81.6L166 81.5L167.5 81L172 78.7L173.5 77.7L174.5 76.8L176.5 73.3L179.9 65.5L180.3 64L180.3 61.8L179 51.2L178.5 49L177.7 47.5L176.9 46.8L175.8 46.1L174.2 45.6L153.2 41.2Z" fill="#90DCF2" fill-rule="evenodd"/><path d="M244.8 16.4L244.8 89.4L239.5 90.6L234.2 92.4L231.2 94L217.8 101.8L214.8 103.1L213.2 103.2L211 102.8L203.5 100.1L200.5 98.8L199 97.8L198.2 97L197.2 95.5L196.4 94L190.8 80.2L190 77.5L189.7 75.2L189.6 61.8L189.8 57.2L194.1 25L194.6 22.8L195.2 21.2L196.3 19.8L198.2 18.5L202 17.2L205.8 16.5ZM-2 26.3L3.2 26.4L5.5 26.7L7 27.2L15.2 30.6L21.2 33.6L24.4 35.5L26.2 37L29.9 40.8L38.5 49L52.8 58.4L59.2 63.2L60.4 64.8L61 66.2L62.9 74.5L63.9 76L64.8 76.4L65.5 76.4L67 75.5L68.8 73.8L72.2 69.7L75.6 66.2L77.5 64.6L79.8 63.3L103 55.1L123.2 46.9L124.8 46.4L126.2 46.2L128.7 46.8L134.8 49.8L137.1 51.2L138.3 52.8L139.2 55L142.1 68.5L142.5 71.5L142.4 73L141.6 74.5L139.8 76.3L128.5 84.5L125.5 86.2L123.2 86.9L100.8 93L95.5 94.2L93.2 94.5L91.8 94.3L89.5 93.4L76 85.6L68.5 81.9L66.2 81.2L65.5 81.2L64.8 81.5L64 82.2L60.6 86.5L58 89.1L57.2 89.5L56.5 89.7L55.8 89.6L54.2 88.6L47.7 81.2L46 79.6L38.5 74.7L33.2 71.5L31 70.2L29.5 69.7L28 69.5L25.8 69.7L11.5 72.6L4.8 73.8L1.8 74.2L-2 74.2ZM141.9 124L141.8 125.5L141.2 127L136.7 134.5L135.6 136.8L135.1 138.2L134.2 142.8L131.9 163L16.3 163L15.2 161.7L13.8 160.4L4 152.7L1 151.3L-2 150.7L-2 130.1L1 129.3L26.5 120.1L31.8 118.8L43 117.2L44.5 117.2L46 117.6L55 121.6L61.8 125L65.6 127.8L72.2 133.5L73.8 134.5L75.2 135.1L77.5 135.3L88.8 134L91.8 133.5L94 132.8L96.2 131.5L100 128.7L102 127L103.2 125.5L103.6 124L103.6 122.5L101.8 111.2L101.7 108.2L102.4 106.8L103.8 105.6L107.5 103.6L109.8 102.8L112 102.7L115 103.6L127 108.2L129.9 109.8L132.2 111.8L135 115L139.2 119.5L141.2 122.3Z" fill="#FFF478" fill-rule="evenodd"/><path d="M-2 31.4L1.8 31.2L4.8 31.5L8 32.5L12.8 34.8L15.1 36.2L17.5 38.5L19.6 41.5L21 44.5L22 48.2L22.4 52L22.1 55.8L21.2 59.5L19.7 62.5L18 64.8L16.3 66.2L15.2 67L12 68.5L8.5 69.6L4.8 70.3L1.8 70.7L-2 70.6ZM244.8 39.1L244.8 60.3L243.2 61.6L239.1 66.2L236.5 68.5L232 71.8L226.8 74.6L221.5 76.5L216.2 77.5L212.5 77.6L208 76.5L205 75.1L202.7 73L201.2 70.7L200.4 67.8L200.2 65.5L200.2 63.2L201 59.5L202.6 55.8L205 52L208 48.6L212.5 44.4L217 41.3L221.5 38.9L225.2 37.6L230.5 36.4L233.5 36L236.5 36.3L239.5 37.1ZM113.5 61.5L114.2 61.3L115.8 61.2L117.2 61.6L118.8 62.8L119.8 64.8L119.9 66.2L119.7 67L119 68.5L118 69.6L116.5 70.3L115.8 70.5L114.2 70.4L112.8 69.8L111.4 68.5L110.7 67L110.6 65.5L110.9 64L112 62.5Z" fill="#FFC400" fill-rule="evenodd"/><path d="M1 40.8L3.2 41L5.2 41.5L7 42.3L8.9 43.8L10.2 45.2L11.6 47.5L12.3 49.8L12.6 52L12.4 54.2L11.8 56.5L10.8 58.5L9.3 60.2L7.8 61.6L6.1 62.5L4 63.2L1 63.5L-2 63L-2 41.4ZM114.2 64L115 63.7L115.8 63.8L116.5 64.2L117 64.8L117.3 65.5L117.3 66.2L117 67L116.5 67.5L115.8 67.9L115 67.9L114.2 67.7L113.5 67L113.2 66.2L113.1 65.5L113.4 64.8Z" fill="#FF8200" fill-rule="evenodd"/><path d="M158.9 66.7h0M166 16h0M173.2 8.8h0" stroke="#000" stroke-width="4.1" stroke-linecap="round" fill="none"/><use href="#c2"/></g>
<rect x="1087.2" y="314.6" width="239.6" height="157.7" fill="none" stroke="#000" stroke-width="3.3"/>
<path d="M1087.2 472.3V478.2M1155.6 472.3V478.2M1224.1 472.3V478.2M1292.5 472.3V478.2" stroke="#000" stroke-width="2.8" stroke-linecap="round" fill="none"/>
<path d="M1098.6 472.3V475.9M1110 472.3V475.9M1121.4 472.3V475.9M1132.8 472.3V475.9M1144.2 472.3V475.9M1167 472.3V475.9M1178.4 472.3V475.9M1189.8 472.3V475.9M1201.2 472.3V475.9M1212.7 472.3V475.9M1235.5 472.3V475.9M1246.9 472.3V475.9M1258.3 472.3V475.9M1269.7 472.3V475.9M1281.1 472.3V475.9M1303.9 472.3V475.9M1315.3 472.3V475.9M1326.8 472.3V475.9" stroke="#000" stroke-opacity="0.3" stroke-width="0.7" fill="none"/>
<text x="1087.2" y="498.6" font-size="18" text-anchor="middle">180</text>
<text x="1155.6" y="498.6" font-size="18" text-anchor="middle">120W</text>
<text x="1224.1" y="498.6" font-size="18" text-anchor="middle">60W</text>
<text x="1292.5" y="498.6" font-size="18" text-anchor="middle">0</text>
<text x="1085.8" y="307.7" font-size="20.2">(j) EqLN</text>
<text x="1327.8" y="309.9" font-size="18" text-anchor="end">Z850</text>
<g transform="translate(63.1 586)" clip-path="url(#cp)"><rect x="0" y="0" width="242.9" height="161" fill="#3838FF"/><path d="M-2 -2L244.8 -2L244.8 163L-2 163L-2 136.8L1 137.4L4.8 137.5L8.5 136.9L11.4 136L14.2 134.5L16.1 133L17.7 130.8L18.3 128.5L17.9 126.2L17 124.8L16.3 124L14.2 122.5L11.5 121.4L8.5 120.9L4.8 120.9L1 121.7L-2 122.9L-2 40.8L3.3 43L9.9 45.2L30.2 51L36.2 52.9L42.2 55L48.2 57.7L55 61.3L61 65.2L65.5 68.7L77.1 78.2L81.2 81.2L85.8 84.2L91.3 87.2L97.8 90.4L103.8 92.8L109.4 94.8L115.8 96.2L121.8 96.8L127.8 96.5L133.1 95.5L135.4 94.8L138.2 93.5L142 91L143.7 89.5L145.5 87.2L146.3 85.8L146.6 84.2L146.4 83.5L145.8 82.6L144.7 82L142.8 81.4L126.2 78.7L121.8 77.6L116.5 76L111.2 74L105.2 71.5L100 69.1L95.5 66.7L89.9 63.2L85 59.3L81.3 55.8L71.5 45L67.9 41.5L64.8 38.9L61 36.1L57.2 33.8L53.5 31.7L49 29.7L43 27.4L37 25.5L30.2 23.8L22.8 22.3L16 21.3L9.2 20.7L3.2 20.6L-2 20.9Z" fill="#5858FF" fill-rule="evenodd"/><path d="M-2 -2L244.8 -2L244.8 163L-2 163L-2 139L1.8 139.4L6.2 139.2L10 138.4L13.8 137.1L16.8 135.4L19 133.4L19.8 132.2L20.6 130.8L21 128.5L20.9 127L20.5 125.8L19.9 124.8L19 123.5L16.8 121.8L13.6 120.2L10 119.4L6.2 119.2L1.8 119.7L-2 120.8L-2 43.5L3.2 45.4L9.8 47.5L34 54.2L40 56.3L46 58.8L52 61.9L58 65.6L63.2 69.5L77.3 80.5L82.8 84.2L88 87.2L96.2 91.4L103.8 94.6L110.5 96.8L116.5 98.1L123.2 98.6L129.2 98.3L134.5 97.3L139.8 95.5L142.8 93.9L145.9 91.8L148.6 89.5L155.5 83L159.2 80.2L162.2 78.6L171.3 75.2L174.7 73.8L178.2 71.5L179.5 70L179.8 69.2L179.8 68.5L178.8 67.8L177.2 67.7L175.8 67.9L171.9 69.2L162.2 74.2L158.5 75.8L153.2 77.1L145.8 77.8L137.5 78L129.2 77.2L121.8 75.6L113.5 72.8L106.8 70L100.8 67.1L96.2 64.5L92.1 61.8L89.3 59.5L86 56.5L74.9 44.5L68.5 38.5L65.5 36.1L61.8 33.5L58 31.2L54.2 29.3L48.2 26.7L41.5 24.3L34 22.2L25.8 20.2L17.5 18.7L10.8 17.8L4 17.4L-2 17.4Z" fill="#7474FF" fill-rule="evenodd"/><path d="M-2 -2L244.8 -2L244.8 163L-2 163L-2 140.8L2.5 141L7.8 140.6L12.2 139.6L16 138.2L19.6 136L21.8 133.8L23.1 131.5L23.5 130L23.7 128.5L23.5 127L23 125.5L21.5 123.2L19 121L15.2 119.1L11.5 118.1L7 117.7L2.5 117.9L-2 118.9L-2 46L9.2 49.5L32.5 55.8L38.5 57.8L44.5 60.2L50.5 63.2L55.8 66.4L61 70.1L71.5 78.2L76.7 82L82.5 85.8L88.8 89.3L97.8 93.8L105.2 96.9L112 99L118.8 100.1L125.5 100.4L132.2 99.8L138.2 98.5L143.5 96.4L148 93.8L156.2 87.4L160.8 84.5L165.2 82.2L177.2 76.9L182.6 73.8L185.5 71.5L187.6 69.2L188.9 67L189.3 65.5L189.1 64L188.8 63.2L188.1 62.5L187 61.8L185.5 61.3L184 61.1L180.2 61.4L177.2 62.3L174.2 63.4L160.8 69.9L154.8 72.4L148 74.3L141.2 75.4L135.2 75.6L130 75.2L124 74.1L117.9 72.2L112.1 70L105.5 67L100 64L95.5 61L92.5 58.7L89.3 55.8L76.8 42.5L70.8 36.8L67.8 34.3L64.2 31.8L61 29.8L57.2 27.8L51.2 25.1L43.8 22.4L34 19.4L25 17L17.5 15.3L10.8 14.2L4 13.5L-2 13.4Z" fill="#9090FF" fill-rule="evenodd"/><path d="M-2 -2L244.8 -2L244.8 163L-2 163L-2 142.5L3.2 142.5L9.2 141.8L14.5 140.6L18.8 139L20.5 138.1L22.4 136.8L24.5 134.5L25.8 132.2L26.2 130.8L26.3 129.2L26.2 127.8L25.8 126.2L25.2 124.8L24.2 123.2L22.8 121.8L21.2 120.5L19.7 119.5L17.5 118.4L13 117L8.5 116.3L3.2 116.3L-2 117.2L-2 48.3L8.1 51.2L31 57.3L37.6 59.5L43 61.6L49 64.6L54.2 67.7L59.5 71.2L70.9 79.8L76.8 83.9L83.5 88.1L91.8 92.6L100 96.6L107.5 99.5L114.2 101.2L121 102.1L128.5 102.2L135.2 101.4L141.2 99.9L144.2 98.9L147.2 97.5L151 95.3L159 89.5L163 86.9L167.5 84.6L180.2 78.6L184 76.5L187 74.5L190.7 71.5L193.4 68.5L195.1 65.5L195.5 64L195.6 62.5L195.4 61L194.5 59.2L193 57.6L191.5 56.6L190 55.9L187.8 55.3L185.5 55.1L183.2 55.2L180.2 55.9L177.2 57.2L163.7 64.8L157.6 67.8L151.8 70.1L146.5 71.7L143.5 72.4L139.8 72.9L133.8 73.1L130.8 72.9L127 72.4L120.9 70.8L114.8 68.5L108.2 65.5L102.8 62.5L98.3 59.5L94.8 56.7L91 53.2L76 37.6L71.5 33.4L66.2 29.3L60.2 25.9L55.8 23.8L50.5 21.7L36.4 16.8L24.2 12L20.5 10.8L16 9.8L10.8 9.1L4.8 8.8L-2 8.8Z" fill="#C0C0FF" fill-rule="evenodd"/><path d="M-2 -2L244.8 -2L244.8 163L-2 163L-2 143.9L4.8 143.7L11.5 142.8L17.5 141.4L22 139.8L25 138L27.2 135.8L28.1 134.5L28.8 133L29.1 131.5L29.2 130L28.9 127.8L28.5 126.2L26.7 123.2L25.4 121.8L23.7 120.2L21.5 118.8L19.8 117.8L17.5 116.9L14.5 115.9L9.2 115L4 114.8L-2 115.4L-2 50.5L29 58.8L35.5 60.8L41.5 63.1L47.5 65.9L52.8 68.9L58 72.4L70.3 81.2L77.5 86.1L85.8 91.1L95.5 96.3L103 99.7L109 101.8L115.8 103.3L123.2 104.1L127.8 104.1L131.5 104L139 103L142.8 102.1L146.5 100.9L149.5 99.6L152.5 98.1L155.5 96.2L162.9 91L166.5 88.8L170.6 86.5L184.8 79.5L188.5 77.3L192.5 74.5L196.7 70.8L199.7 67L201 64.8L201.5 63.2L202 60.2L201.9 58.8L201.5 57.2L199.9 54.2L197.5 51.3L193 46.9L190.7 45.2L187.8 44L185.5 43.6L182.5 43.6L181 43.8L178.8 44.6L175.8 46.3L173.5 48.6L170.2 53.5L168.4 55.8L165.4 58.8L162.4 61L160 62.5L155.8 64.8L152.5 66.2L148.6 67.8L145 68.8L141.2 69.7L137.5 70.1L133.8 70.2L130.8 70L127 69.4L123.4 68.5L117.2 66.2L110.7 63.2L105.2 60.2L99.9 56.5L94.8 52.3L88.8 46.7L83.8 41.5L76.8 33.4L73.8 30.4L70 27.3L66.3 25L61 22.4L45.9 16L42 13.8L36.2 9.3L32.5 7.7L26.5 6.3L19 5.4L9.2 4.8L-2 4.6ZM130.3 156.2L130.6 157L132.2 158L134.5 158.6L137.5 158.8L140.5 158.5L142.8 157.9L144.3 157L144.8 156.2L144.6 155.5L143.5 154.6L141.2 153.9L138.2 153.7L135.2 153.8L133 154.3L131.8 154.8L130.8 155.4Z" fill="#F0F0FF" fill-rule="evenodd"/><path d="M-2 -2L244.8 -2L244.8 10.6L243.8 9.2L242.5 8.3L240.2 7.1L238 6.3L235 5.5L232 5.1L226 4.8L223 5L220 5.5L217.8 6.1L215.5 6.9L214 7.8L212.5 9.1L211.9 10L211.4 11.5L211.7 13L212.1 13.8L213.8 15.2L215.3 16L217.6 16.8L220.8 17.4L226.8 18L233.5 17.9L236.4 17.5L238.8 17L241 16.2L242.8 15.2L243.8 14.5L244.8 13.2L244.8 163L144.6 163L150.2 161.8L152.5 161L154.5 160L155.6 159.2L157.1 157.8L157.5 157L157.6 155.5L156.8 154L156 153.2L154.8 152.4L152.5 151.4L150.2 150.8L147.2 150.2L140.5 149.8L133 150.3L125.5 151.6L122 152.5L120 153.2L118.7 154L117.9 154.8L117.5 155.5L117.5 156.2L117.6 157L118.6 158.5L120.2 159.8L121.9 160.8L124 161.6L127 162.5L129.8 163L-2 163L-2 145.3L4.8 145L12.2 144L18.8 142.8L25 140.9L28.8 139L30.6 137.5L32.1 135.2L32.5 133.8L32.6 132.2L32.5 130L31.9 127.8L30.9 125.5L29.9 124L28.1 121.8L26.5 120.2L24.5 118.8L22 117.3L19.8 116.3L16.8 115.2L13.8 114.4L10.8 113.8L4.8 113.4L-2 113.7L-2 52.8L27.2 60.3L34.8 62.6L40.8 64.9L46.8 67.7L52 70.7L57.2 74L70 83L77.5 87.9L88.8 94.5L98.5 99.7L105.2 102.6L111.2 104.3L118.8 105.6L126.2 106.1L133 106L139.8 105.2L146.5 103.8L152.5 101.7L156.4 100L159.2 98.5L169.6 91.8L173.4 89.5L190 80.9L194.5 78.1L198.6 75.2L202.1 72.2L205.1 69.2L207.3 66.2L209 63.2L210 60.2L210.4 57.2L209.9 53.5L208.3 49L206.8 46L205.5 43.8L204.3 42.2L202.7 40.8L200.5 39.4L198.7 38.5L196 37.5L193 36.7L187 35.8L184 35.7L181 35.8L177.2 36.4L174.2 37.3L171.2 38.7L169 40.3L167.1 42.2L165.5 44.5L161.4 52.8L159.4 55.8L156.4 58.8L154.3 60.2L151.7 61.8L148.5 63.2L145 64.5L141.3 65.5L138.2 66L135.2 66.2L132.2 66.1L128.5 65.6L125.5 64.8L118.8 62.5L110.5 58.7L103.8 54.7L97.8 50.5L92.5 46.1L88.1 41.5L84.5 37L79 28.6L76.4 25.8L74.5 24.2L71.5 22.5L59.2 16.8L55.6 14.5L54.7 13.8L53.5 12.2L52.3 9.2L51.4 7.8L50.6 7L49 6L46 4.8L42.2 3.8L37.8 2.9L31.8 2.1L16 0.7L-2 -0.2ZM228.2 98.5L228.1 99.2L228.3 100.8L229.4 102.2L230.3 103L231.6 103.8L234.2 104.5L237.2 104.5L239.5 103.8L240.6 103L241.3 102.2L241.9 100.8L241.7 99.2L241.3 98.5L240.2 97.3L238.6 96.2L236.1 95.5L233.5 95.4L231.2 95.9L229.3 97ZM69.4 145.8L69.4 146.5L70.1 147.2L72.8 148.8L77.4 150.2L81.2 151.1L86.5 151.7L91 151.8L94.8 151.2L95.6 151L96.7 150.2L96.8 149.5L96.2 148.8L95.1 148L93.6 147.2L88.6 145.8L84.8 145L79 144.4L74.5 144.3L70.8 144.9Z" fill="#FFC0C0" fill-rule="evenodd"/><path d="M68.1 10.8L69.2 8.5L71.5 5.9L74.5 3.5L76.8 2.1L79.8 0.9L83.5 -0.2L87.2 -0.9L92.5 -1.6L97.5 -2L160.7 -2L169 -1.5L177.2 -0.6L183.2 0.4L187 1.4L190.8 3.1L192.9 4.8L194.5 6.7L195.6 9.2L196 11.5L195.9 15.2L196 16.8L196.3 17.5L197.1 18.2L198.6 19L201.5 19.8L205.8 20.4L234.8 23.5L239.8 24.2L244.8 25.2L244.8 35L238.8 36.5L233.5 37.2L227.5 37.4L221.5 37.1L211.8 35.6L199 32.8L189.9 30.2L179.5 26.4L176.5 25.6L173.5 25.2L169.8 25.2L165.2 25.4L160.8 26.1L159 26.5L157.1 27.2L156.2 28L155.9 28.8L155.9 30.2L156.9 34L157.2 36.2L157.2 39.2L156.9 42.2L156.3 45.2L155.2 48.2L153.6 51.2L151.8 53.5L149.5 55.5L147.2 56.9L145 58L142 59L139 59.7L136 60L133 60.1L129.2 59.7L125.5 59.1L121 57.9L116.5 56.5L112 54.8L108.2 53.1L104.5 51.1L100.8 48.7L97.8 46.5L94.8 43.8L92.5 41.5L90.3 38.5L89 36.2L88 34L87.5 31.8L86.9 25.8L86.5 24.5L85.9 23.5L85 22.6L83 21.2L73.3 16.8L70.7 15.2L69.2 14.1L68.4 13L68.1 12.2ZM-2 55L16.4 59.5L26.5 62.2L34.8 64.8L41.5 67.4L46.8 69.9L52 72.9L76.8 89.2L88 96L96.2 100.6L101.5 103.1L106.8 105.1L112 106.5L118 107.5L126.2 108.1L134.5 108L142 107.2L149.5 105.7L156.3 103.8L164.3 100.8L185.5 90.9L192.2 88L199.8 85.2L205 83.6L209.5 82.6L213.2 82.3L214.8 82.4L216.2 82.7L217.6 83.5L218.1 84.2L218.3 85L218.3 86.5L217.1 92.5L217.1 94.8L217.5 97L218.3 99.2L219.1 100.8L221.5 103.8L223.8 105.8L226 107.4L228.2 108.7L231.2 109.9L234.2 110.9L238 111.6L241 111.9L244.8 112L244.8 147.5L240.2 149.7L235.8 151.5L231.2 153L226 154.3L220.8 155.2L215.5 155.9L210.2 156.2L204.2 156.1L197.5 155.6L191.5 154.6L187 153.5L177 150.2L172 148.9L166 147.7L160 146.9L152.5 146.4L144.2 146.4L136.8 147L121 148.8L114.2 149.1L109 148.4L95.9 145L88.8 143.5L83.8 142.8L73 141.6L68.5 141.4L64 141.5L61 141.9L59.5 142.2L58.2 142.8L57.6 143.5L57.7 144.2L58.3 145L59.1 145.8L61.6 147.2L64.7 148.8L68.5 150.2L76 152.6L82.8 154.3L95.9 157L98.6 157.8L100.4 158.5L102.6 160L103.9 161.5L104.6 163L-2 163L-2 146.6L6.2 146L14.1 145L22.7 143.5L29.4 142L34.3 140.5L36.2 139.5L37.6 138.2L37.9 137.5L38 136L37.7 133.8L36.7 130.8L35.2 127.8L33.9 125.5L32.2 123.2L30 121L27.3 118.8L25 117.3L22.1 115.8L19.8 114.8L16.8 113.8L13 112.9L9.2 112.3L5.5 112L-2 112Z" fill="#FF9090" fill-rule="evenodd"/><path d="M85.5 12.2L85.6 11.5L86.2 10.8L87.2 10L88.6 9.2L92.5 7.9L97 6.9L103 6.1L110.5 5.4L118.8 5.1L127 4.9L136 5.1L145 5.5L153.2 6.2L160 7L165.2 8L169.6 9.2L171.2 10L172.3 10.8L172.8 11.5L172.9 12.2L172.5 13L171.5 13.8L170 14.5L167.9 15.2L163 16.4L157 17.3L149.5 18.2L139.8 18.9L123.2 19.9L115 20.1L110.5 20L105.2 19.5L100 18.6L95.5 17.5L90.6 16L88 14.8L86.3 13.8L85.7 13ZM94.3 33.2L95.3 31L97 29.2L100 27.5L103.8 26.3L108.2 25.7L112 25.7L116.5 26.1L121.8 27.1L128.5 29L133.8 30.9L138.2 32.9L142.7 35.5L145.3 37.8L146.5 39.2L147.4 40.8L148 43L148.1 44.5L147.8 46L147.2 47.5L146.5 48.6L145.6 49.8L144.2 50.9L141.2 52.7L137.5 53.9L133 54.5L128.5 54.5L124 54.1L118.8 53.1L113.5 51.5L109 49.7L104.5 47.3L100.5 44.5L97.3 41.5L95.2 38.5L94.6 37L94.2 35.5ZM205.3 27.2L206.4 26.5L208.8 26L211 25.8L214.8 25.8L219.2 26.4L221.5 27.1L222.9 28L223 28.8L222 29.5L219.2 30.2L216.2 30.5L212.5 30.3L208.8 29.7L206.5 28.9L205.3 28ZM-2 57.3L13.8 60.9L25.8 64.1L34.8 67L42.2 70L47.5 72.6L53.5 76L74.5 89.7L93.2 101L100.8 104.9L107.5 107.3L114.2 108.8L122.5 109.8L130.8 110.1L139 109.8L145 109.1L151 107.9L172 102.5L182.5 100.2L187.8 99.4L193.8 98.8L198.2 98.6L202 98.9L206.5 100L210.2 101.8L213.2 103.8L228 115L230.5 117.2L232.1 119.5L232.5 121L232.4 123.2L231.8 124.8L230.3 127L227.9 129.2L225.2 131.1L222.2 132.8L218.5 134.3L214.8 135.5L210.2 136.6L203.5 137.7L194.5 138.6L158.5 141.2L151 141.9L144.2 142.8L128.5 145.3L121.8 146L115.8 146.1L109 145.5L84.5 141.2L58 137.7L51.2 136.3L47.5 134.9L44.5 133L41.5 130.3L35.9 124L32.8 121L29 118L24.2 115.2L19 113.1L13 111.5L6.2 110.6L-2 110.1ZM-2 147.8L9.2 146.8L32.5 143.9L38.5 143.7L43 144L46.8 144.8L51.2 146.1L76.4 155.5L79.6 157L81.9 158.5L82.5 159.2L82.8 160L82.8 160.8L82 161.8L80.4 163L-2 163Z" fill="#FF5C5C" fill-rule="evenodd"/><path d="M114.1 12.2L114.7 11.5L117.5 10.8L122.5 10.3L127 10.2L131.5 10.3L135.8 10.8L138.5 11.5L138.8 12.2L137 13L133.8 13.5L130.8 13.8L125.5 14L121 13.8L118 13.5L115.3 13ZM100.8 35.6L101.8 34L103 33L105.2 32L108.2 31.3L111.2 31L115 31.1L118.8 31.5L122.5 32.2L126.2 33.2L130 34.6L133.4 36.2L135.7 37.8L137.5 39.2L138.7 40.8L139.7 43L139.7 44.5L139.1 46L137.8 47.5L135.2 49L132.9 49.8L130 50.2L126.2 50.4L122.5 50.1L118 49.3L114.2 48.3L110.5 46.8L107.5 45.2L104.5 43.2L102.7 41.5L101.2 39.2L100.5 37ZM-2 59.6L11.5 62.6L24.2 65.8L33.2 68.7L41.5 71.9L47.5 74.9L54.2 78.7L75.2 92.1L93.2 103.2L100 106.6L103.8 108L107 109L113.5 110.4L121 111.4L129.2 112L137.5 111.9L142.8 111.5L148.8 110.6L169 106.3L178 104.9L183.2 104.3L188.5 104L193 104L197.5 104.3L202 105L205.8 106.1L209.5 107.8L213.2 110.3L216.1 112.8L218.6 115.8L219.4 117.2L219.7 118.8L219.5 121L218.5 123.1L217 124.8L215.2 126.2L212.8 127.8L209.6 129.2L206.5 130.4L199 132.5L190.8 134.2L181.8 135.5L155.5 138L148 138.9L142 139.9L128.5 142.7L121 143.7L116.5 143.9L112 143.8L106.8 143.3L100.8 142.5L74.5 138L66.2 136.4L60.2 134.9L52.8 132.4L49.8 131.1L46.8 129.5L43 126.9L35.8 121L31.9 118L28 115.6L23.5 113.4L18.2 111.5L13 110.1L7 109.1L-2 108.1ZM-2 149L27.2 146L34.8 145.8L41.5 146.3L46 147.2L51.2 148.5L58 150.7L64.6 153.2L67.9 154.8L70.6 156.2L72.3 157.8L72.8 158.5L72.9 159.2L72.7 160L71.5 161.3L69.9 162.2L68.2 163L-2 163Z" fill="#FF3C3C" fill-rule="evenodd"/><path d="M108.5 38.5L108.8 37.8L109.5 37L110.8 36.2L112 35.9L115.8 35.6L120.2 36.1L124.8 37.5L128 39.2L129.2 40.4L130 41.5L130.2 43L129.9 43.8L129.2 44.5L127.8 45.2L126.2 45.7L122.5 46L118 45.4L115.8 44.7L113.5 43.9L110.8 42.2L109.8 41.3L108.8 40ZM-2 62.1L10.8 64.6L22.8 67.6L32.5 70.7L41.5 74.3L48.2 77.6L55.8 81.9L88 102.1L93.2 105.2L99.5 108.2L106.1 110.5L113 112L121 113.1L130 113.7L138.2 113.7L143.5 113.4L148.8 112.7L166.8 109.2L175 108L183.2 107.4L191.5 107.7L196 108.2L199.8 109.1L202.8 110.1L205.8 111.7L208.1 113.5L209.8 115.8L210.4 118L210.3 119.5L209.7 121L208.6 122.5L207 124L204.8 125.5L201.9 127L199 128.2L191.5 130.5L184.8 132L176.5 133.3L154 135.5L146.5 136.5L139.8 137.8L127 140.6L121 141.6L116.5 142L112 142L106.8 141.8L100.8 141.1L85 138.6L77.5 137.1L70.8 135.4L65.5 133.9L59.5 131.9L54.2 129.8L50.5 128.1L47.5 126.5L43.8 124.2L34.8 118L31.3 115.8L27.2 113.5L23.5 111.9L19 110.3L13.8 108.9L-2 106ZM-2 150.3L14.5 148.3L24.2 147.5L32.5 147.3L39.2 147.8L43.8 148.5L48.2 149.5L52.8 150.8L57.5 152.5L61 154L63.6 155.5L65.4 157L65.8 157.8L65.9 158.5L65.5 159.6L64.2 160.8L61.8 162L58.8 163L-2 163Z" fill="#FF2020" fill-rule="evenodd"/><path d="M-2 64.6L9.2 66.6L21.2 69.4L31.8 72.7L40.8 76.2L48.2 79.9L56.5 84.5L72.2 94.1L88 104.2L92.4 106.8L98.8 109.8L105.2 111.9L112.8 113.5L121 114.6L130.8 115.4L139 115.5L143.5 115.3L148.8 114.7L165.2 111.7L172.8 110.6L179.5 110.1L186.2 110.3L190 110.7L193 111.3L196 112.3L198.7 113.5L200.7 115L201.8 116.5L202.2 118L202.1 119.5L201.4 121L200.1 122.5L197 124.8L192.1 127L184.8 129.2L179.5 130.3L173.5 131.2L153.2 133.3L145.8 134.3L138.2 135.8L125.5 138.9L118.8 140L115 140.4L110.5 140.5L106 140.3L100.8 139.9L88.8 138.1L82.8 136.9L76.8 135.4L71.1 133.8L65.5 131.8L59.5 129.5L52.8 126.5L45.2 122.6L31.8 114.2L28 112.3L24.2 110.7L19.8 109.1L15.2 107.7L-2 103.7ZM-2 151.6L9.2 150L20.5 148.9L28.8 148.6L36.2 148.9L40 149.4L44.5 150.2L48.2 151.2L52.4 152.5L56 154L58.5 155.5L59.9 157L60.1 157.8L60 158.5L59.5 159.2L58.6 160L57.3 160.8L54.2 161.9L50 163L-2 163Z" fill="#FF0000" fill-rule="evenodd"/><path d="M12.8 25.4h0M27.1 25.4h0M41.3 25.4h0M55.6 25.4h0M5.7 32.6h0M19.9 32.6h0M34.2 32.6h0M48.4 32.6h0M62.7 32.6h0M119.7 32.6h0M134 32.6h0M12.8 39.9h0M27.1 39.9h0M41.3 39.9h0M55.6 39.9h0M69.8 39.9h0M112.6 39.9h0M126.8 39.9h0M141.1 39.9h0M19.9 47.1h0M34.2 47.1h0M48.4 47.1h0M62.7 47.1h0M27.1 54.3h0M41.3 54.3h0M55.6 54.3h0M69.8 54.3h0M48.4 61.6h0M62.7 61.6h0M77 61.6h0M91.2 61.6h0M105.5 61.6h0M55.6 68.8h0M69.8 68.8h0M84.1 68.8h0M98.3 68.8h0M112.6 68.8h0M126.8 68.8h0M5.7 76.1h0M19.9 76.1h0M62.7 76.1h0M77 76.1h0M91.2 76.1h0M105.5 76.1h0M119.7 76.1h0M134 76.1h0M12.8 83.3h0M27.1 83.3h0M41.3 83.3h0M69.8 83.3h0M84.1 83.3h0M98.3 83.3h0M112.6 83.3h0M126.8 83.3h0M141.1 83.3h0M5.7 90.5h0M19.9 90.5h0M34.2 90.5h0M48.4 90.5h0M62.7 90.5h0M77 90.5h0M91.2 90.5h0M105.5 90.5h0M119.7 90.5h0M134 90.5h0M148.2 90.5h0M12.8 97.8h0M27.1 97.8h0M41.3 97.8h0M55.6 97.8h0M69.8 97.8h0M98.3 97.8h0M112.6 97.8h0M126.8 97.8h0M5.7 105h0M19.9 105h0M34.2 105h0M48.4 105h0M62.7 105h0M12.8 112.3h0M27.1 112.3h0M41.3 112.3h0M55.6 112.3h0M69.8 112.3h0M155.3 112.3h0M169.6 112.3h0M183.8 112.3h0M5.7 119.5h0M19.9 119.5h0M34.2 119.5h0M48.4 119.5h0M62.7 119.5h0M77 119.5h0M91.2 119.5h0M105.5 119.5h0M119.7 119.5h0M162.5 119.5h0M176.7 119.5h0M12.8 126.7h0M41.3 126.7h0M55.6 126.7h0M69.8 126.7h0M84.1 126.7h0M98.3 126.7h0M112.6 126.7h0M155.3 126.7h0M169.6 126.7h0M183.8 126.7h0M5.7 134h0M19.9 134h0M62.7 134h0M77 134h0M91.2 134h0M105.5 134h0M119.7 134h0M162.5 134h0M176.7 134h0M98.3 141.2h0M5.7 148.5h0M19.9 148.5h0M34.2 148.5h0M48.4 148.5h0M12.8 155.7h0M27.1 155.7h0M41.3 155.7h0M55.6 155.7h0M84.1 155.7h0M98.3 155.7h0M112.6 155.7h0" stroke="#000" stroke-width="4.1" stroke-linecap="round" fill="none"/><use href="#c2"/></g>
<rect x="64.8" y="587.6" width="239.6" height="157.7" fill="none" stroke="#000" stroke-width="3.3"/>
<path d="M64.8 745.3V751.2M133.2 745.3V751.2M201.7 745.3V751.2M270.1 745.3V751.2M64.8 745.3H58.5M64.8 692.8H58.5M64.8 640.2H58.5M64.8 587.6H58.5" stroke="#000" stroke-width="2.8" stroke-linecap="round" fill="none"/>
<path d="M76.2 745.3V748.9M87.6 745.3V748.9M99 745.3V748.9M110.4 745.3V748.9M121.8 745.3V748.9M144.6 745.3V748.9M156 745.3V748.9M167.4 745.3V748.9M178.8 745.3V748.9M190.3 745.3V748.9M213.1 745.3V748.9M224.5 745.3V748.9M235.9 745.3V748.9M247.3 745.3V748.9M258.7 745.3V748.9M281.5 745.3V748.9M292.9 745.3V748.9M304.4 745.3V748.9M64.8 727.8H60.5M64.8 710.3H60.5M64.8 675.3H60.5M64.8 657.7H60.5M64.8 622.7H60.5M64.8 605.2H60.5" stroke="#000" stroke-opacity="0.3" stroke-width="0.7" fill="none"/>
<text x="64.8" y="771.6" font-size="18" text-anchor="middle">180</text>
<text x="133.2" y="771.6" font-size="18" text-anchor="middle">120W</text>
<text x="201.7" y="771.6" font-size="18" text-anchor="middle">60W</text>
<text x="270.1" y="771.6" font-size="18" text-anchor="middle">0</text>
<text x="53.9" y="593.9" font-size="18.3" text-anchor="end">90N</text>
<text x="53.9" y="646.5" font-size="18.3" text-anchor="end">60N</text>
<text x="53.9" y="699.1" font-size="18.3" text-anchor="end">30N</text>
<text x="53.9" y="751.6" font-size="18.3" text-anchor="end">EQ</text>
<text x="63.4" y="580.7" font-size="20.2">(k) SEN_IO</text>
<text x="305.4" y="584.3" font-size="18" text-anchor="end">U200</text>
<g transform="translate(318.7 586)" clip-path="url(#cp)"><rect x="0" y="0" width="242.9" height="161" fill="#3838FF"/><path d="M-2 -2L244.8 -2L244.8 163L-2 163L-2 40.2L11.5 43L17.5 44.5L23.5 46.5L28.8 48.8L32.6 51.2L35 53.5L36.7 55.8L39.7 61L41.7 64L44.5 67.2L47.7 70L51.2 72.3L52.9 73L55 73.6L56.5 73.7L58 73.1L58.6 72.2L58.8 71.5L58.3 69.2L56.8 66.2L53.5 62L46.4 54.2L45 52L44.3 49.8L44.3 48.2L44.7 46.8L46.1 43.8L48.6 40.8L54 35.5L55.7 33.2L56.2 31.8L56.2 31L55.8 29.6L55.2 28.8L53.7 27.2L51.5 25.8L49 24.5L46 23.2L39.2 21.1L32.5 19.9L24.2 19.4L15.2 19.8L6.2 20.8L-2 22.5ZM123.2 79.5L122.5 78.8L121 78.1L119.5 77.7L117.2 77.5L113.5 78.2L111.4 79L109.8 79.9L107.1 82L105.9 83.5L105 85L104.5 86.5L104.4 88L104.6 89.5L105.2 90.9L106 91.8L107.5 92.8L109 93.3L110.5 93.5L112 93.5L114.2 93.1L116.1 92.5L118 91.5L119.8 90.2L121.3 88.8L122.5 87.2L123.8 85L124.2 83.5L124.3 82L123.9 80.5ZM-1 132.2L-1.2 133.8L-1.1 134.5L-0.5 135.9L1 137.4L2.7 138.2L4.8 138.6L7.2 138.2L8.5 137.6L9.2 136.9L10 135.5L10 133.8L9.4 132.2L7.8 130.8L6.2 129.9L4 129.5L1.8 129.8L0.1 130.8Z" fill="#5858FF" fill-rule="evenodd"/><path d="M-2 -2L244.8 -2L244.8 163L-2 163L-2 139.9L0.2 141L3.2 141.8L6.2 141.9L9.2 141.3L11 140.5L12.8 139L13.7 137.5L14.1 135.2L13.6 133L12.3 130.8L10.8 129.2L8.5 127.8L6.2 126.9L3.2 126.5L0.2 126.8L-2 127.6L-2 42.8L8.5 44.7L14.5 46L20.5 48L25 50.1L28 52L30.6 54.2L32.6 56.5L37.6 63.2L40 66.2L43 69.3L46.5 72.2L50.5 75L54.2 76.9L58 78L59.5 78.2L61 78.1L62.8 77.5L63.5 76.8L63.9 76L64.1 75.2L64.1 73.8L63.4 71.5L62.3 69.2L60.3 66.2L53.1 57.2L50.9 54.2L49.4 51.2L49 49.8L49 48.2L49.2 46.8L49.8 45.4L51.4 43L54.2 40.4L62 34.8L63.9 32.5L64.3 31L64.1 29.5L63.4 28L62.1 26.5L60.2 24.8L52 18.2L49.8 17.2L47.5 16.6L43 16.1L37.8 15.8L22.8 16.1L9.2 17.1L3.2 17.9L-2 18.9ZM82.4 153.2L83.5 154.1L86.5 154.5L88 154.4L89.5 154L89.9 153.2L88.8 152.5L85.8 152.1L84.2 152.2L82.9 152.5ZM130.8 76L129.2 74.8L126.9 73.8L124 73.2L121 73.1L118 73.3L115 74L112 75L109 76.4L106.8 77.8L104.4 79.8L102.4 82L100.9 84.2L100.1 86.5L99.8 88.8L100.1 91L100.7 92.5L101.8 94L103.8 95.5L106 96.4L108.2 96.9L111.2 96.9L114.2 96.4L117.2 95.5L119.5 94.4L122.4 92.5L125 90.2L127.7 87.2L129.7 84.2L131.2 81.2L131.8 79L131.6 77.5ZM152.8 72.2L152.9 73L153.2 73.8L154.8 75.1L156.4 76L159.2 77L162.2 77.6L166.8 78.2L170.5 78.3L175 78.2L183.2 77.2L187 76.4L190.8 75.2L194.5 73.8L197 72.2L198.6 70.8L199.1 70L199.2 69.2L199 68.5L198.4 67.8L197.1 67L194.9 66.2L191.5 65.6L184 64.9L175 65.1L170.5 65.5L165.2 66.2L158.7 67.8L156.2 68.7L154.2 70L153.4 70.8L153 71.5Z" fill="#7474FF" fill-rule="evenodd"/><path d="M-2 -2L244.8 -2L244.8 163L-2 163L-2 143.1L1 143.9L4.8 144.2L8.5 143.9L11.5 143.2L14.1 142L15.8 140.5L16.7 139L17.2 136.8L17.1 135.2L16.8 133.8L15.8 131.5L14.1 129.2L11.4 127L8.5 125.5L4.8 124.4L1 124.2L-2 124.7L-2 45.2L7 46.7L13 48L17.5 49.4L21.8 51.2L25 53.3L28 55.8L30.2 58.2L36.4 65.5L39.2 68.5L43.2 72.2L48.2 76L53.5 79.1L58.8 81.3L61 81.9L63.2 82.1L64.8 82.1L66.2 81.8L67.4 81.2L68.3 80.5L69 79L69.1 76.8L68.4 74.5L67 71.5L65 68.5L56.8 58L54.3 54.2L53.3 52L52.9 50.5L52.9 48.2L53.3 46.8L54.7 44.5L57.2 42.3L60.2 40.4L69.6 35.5L71.6 34L72.9 32.5L73.4 31L73.5 30.2L73.2 28.8L72.6 27.2L70.8 24.2L70.3 22.8L70.5 21.2L71 20.5L71.9 19.8L74.5 18.5L79 17.1L85.8 15.8L93.6 14.5L96.5 13.8L94.8 13L84.4 12.2L67 11.7L54.2 11.6L43.8 12L8.5 14.2L-2 15.2ZM242.1 56.5L241.4 55L240.2 53.8L238.9 52.8L237.4 52L235.8 51.4L233.5 51L229.8 50.8L226.4 51.2L223 52.2L219.7 53.5L210.2 58.2L207.2 59.2L203.5 59.9L198.2 60.3L181.8 60.4L160.8 61.4L146.5 61.7L142.8 62L139.7 62.5L136.8 63.4L129.2 66.2L119.5 68.9L115 70.3L110.5 72.2L106 74.7L103.1 76.8L100.6 79L98.6 81.2L97 83.5L95.9 85.8L95.3 88L95.2 90.2L95.5 91.8L96.4 94L98.1 96.2L100 97.8L102.2 98.8L105.2 99.6L108.2 99.8L111.2 99.7L115 99L119.5 97.5L124 95.1L127.5 92.5L136 85L138.2 83.5L140.5 82.5L143.5 81.7L146.5 81.5L162.2 82.5L167.5 82.5L173.5 82.3L184.8 81.1L190 80.2L195.3 79L202.7 76.8L217 71.2L229.9 67.8L232.8 66.8L235.8 65.5L239.4 63.2L241.4 61L242.3 58.8ZM72.4 152.5L72.6 153.2L73.7 154.8L74.7 155.5L76.8 156.6L80.5 157.9L85.8 158.6L91 158.5L96.2 157.7L98.2 157L99.7 156.2L100.8 155.4L101.2 154.8L101.3 154L101 153.2L100.4 152.5L99.4 151.8L96.2 150.4L92.5 149.5L86.5 148.8L81.2 148.8L76.8 149.5L74.5 150.2L73.3 151L72.6 151.8Z" fill="#9090FF" fill-rule="evenodd"/><path d="M-2 -2L244.8 -2L244.8 50.1L241.8 48.4L238 47.2L234.2 46.6L229.8 46.5L226 46.9L222.2 47.7L217.8 49.2L209.5 52.6L205.8 53.9L201.2 55L196.8 55.6L189.2 56.1L167.5 56.8L158.5 56.6L146.5 55.4L142 55.2L137.5 55.3L133 56.1L130 57.2L127.8 58.3L119.4 64L107.5 70.1L104 72.2L100.8 74.5L96.4 78.2L92.2 82.8L90.6 85L89.8 86.5L89.4 88L89.2 89.5L89.6 92.5L90.9 95.5L91.9 97L93.2 98.5L95.5 100.1L98.8 101.5L102.7 102.2L107.5 102.4L112 102L118 100.7L121 99.7L123.8 98.5L127.9 96.2L137.5 89.7L139.8 88.6L142.8 87.6L145.8 86.9L148.8 86.6L164.5 86.3L176.5 85.4L188.5 84L198.2 82.3L208.8 79.6L233.5 71.9L239.9 69.2L242.5 67.8L244.8 66.2L244.8 163L-2 163L-2 145.4L1.8 145.9L6.2 145.9L10.8 145.4L14.5 144.4L16.5 143.5L18.5 142L19.1 141.2L19.8 139.8L20.1 137.5L19.6 134.5L18.3 131.5L16.1 128.5L13 125.9L9.2 123.9L5.5 122.7L1.8 122.2L-2 122.4L-2 47.6L6.2 48.9L11.5 50L16 51.4L19.8 53.1L22.8 55L25.6 57.2L28.8 60.4L34.9 67L38.7 70.8L43.8 75.1L49 78.8L55 82.3L61 84.8L64 85.7L66.2 86.1L68.5 86.3L70.8 86.2L73 85.6L73.9 85L74.7 84.2L75.1 83.5L75.4 82L75.2 80.5L74.8 79L73.4 76L71 72.2L68.2 68.5L60.9 59.5L58.3 55.8L57.1 53.5L56.6 52L56.4 50.5L56.6 49L57.1 47.5L58.1 46L59.8 44.5L61.8 43.3L66.2 41.2L78 37L80.8 35.5L82.7 34L83.9 32.5L84.4 31L84.4 29.5L83.7 25.8L83.8 24.2L84.1 23.5L84.8 22.8L86 22L88.8 21L93.2 19.9L98.5 19.2L104.5 18.6L135.2 16.8L165.2 14L172.8 13.8L189.2 13.8L196 13.7L202.9 13L205.1 12.2L204.1 11.5L198.2 10.8L194.5 10.6L170.5 10.4L144.1 9.2L126.2 8.8L71.5 8.4L59.5 8.5L51.2 8.8L43.8 9.3L22 11.4L13.8 11.8L-2 12.2ZM66.7 151.8L67.1 153.2L68.1 154.8L70 156.5L73 158.4L75.2 159.4L78.2 160.4L81.2 161L85 161.5L88.8 161.6L93.2 161.4L97.8 160.8L101.6 160L104.5 159.1L107.2 157.8L108.8 156.2L109.2 155.5L109.2 154.8L109 154L108.6 153.2L107.8 152.5L105.4 151L103.6 150.2L100 149.1L96.2 148.2L91.8 147.5L88 147.1L83.5 146.9L79.8 147L76 147.4L72.7 148L70.1 148.8L68.5 149.5L67.5 150.2L66.9 151Z" fill="#C0C0FF" fill-rule="evenodd"/><path d="M-2 -2L244.8 -2L244.8 11.3L244.2 10.8L242.8 10L240.7 9.2L236.5 8.2L231.2 7.4L219.2 6.3L204.2 5.8L165.2 6.1L112 5.6L59.5 5.5L51.2 5.8L44.5 6.3L28 8.7L19.8 9.5L10 9.7L-2 9.3ZM244.8 12.5L244.8 44.1L240.2 42.8L235.8 42.2L231.2 42L226 42.4L221.5 43.1L217.8 44.1L205.5 48.2L200.5 49.6L194.5 50.6L185.5 51.4L173.5 51.9L165.2 51.9L158.5 51.5L145.8 50.1L140.5 49.8L134.5 50L130 50.7L127 51.6L124.8 52.8L122.5 54.5L117 60.2L114.2 62.4L103 68.8L91.8 76.6L89.5 77.8L87.2 78.6L85 78.9L82.8 78.3L80.5 77L77.5 74.4L70 66.7L64.4 60.2L61.8 56.5L60.7 54.2L60.3 52.8L60.3 50.5L60.8 49L61.2 48.2L62.7 46.8L65.5 45.1L68.5 43.9L72.2 42.9L84.2 40.5L88.8 39.4L91.8 38.4L94.6 37L96.6 35.5L98.3 33.2L98.9 31L99.1 27.2L99.8 25.8L100.6 25L101.8 24.2L103.8 23.5L106.7 22.8L111.3 22L116.5 21.4L133 20L152.5 17.9L161.5 17.3L172.8 17.2L192.2 18.1L199.8 18.2L209.5 18.1L219.6 17.5L229.8 16.5L237.9 15.2L240.9 14.5L243 13.8L244.4 13ZM-2 50.2L4.8 51.2L10 52.4L14.5 53.8L18.2 55.4L21.2 57.3L24.2 59.6L35 70L40.2 74.5L45 78.2L49.8 81.5L55 84.6L61 87.6L66.2 89.7L76 92.9L79 94.3L81.4 96.2L83.6 99.2L84.7 101.5L85.1 103L85.8 107.8L86.5 108.1L89.4 106.8L92.5 105.9L95.5 105.5L104.5 105.1L109.8 104.6L115 103.8L120.2 102.6L123.8 101.5L127.6 100L140.5 93.6L145.8 92L151.8 91.1L190.8 87L204.2 85L215.5 82.5L229.8 78.7L238 76.1L244.8 73.3L244.8 163L106.1 163L109.8 162L112.8 161L115 159.9L117.1 158.5L118.3 157L118.6 156.2L118.6 155.5L117.8 154L117 153.2L114.5 151.8L111 150.2L106.3 148.8L101.5 147.6L96.2 146.6L91.8 146L86.5 145.6L82 145.4L75.2 145.8L68.5 146.9L66.2 147.5L64 148.3L62.3 149.5L61.8 150.2L61.6 151L62 152.5L63 154L65.5 156.7L67.8 158.8L70 160.5L72.2 161.9L74.9 163L-2 163L-2 147.3L2.5 147.5L7.8 147.3L13 146.6L16.8 145.7L20.2 144.2L22.1 142.8L23 141.2L23.3 139L23.1 137.5L22.5 135.2L20.8 131.5L18.5 128.5L15.2 125.5L11.5 123.2L7 121.4L2.5 120.5L-2 120.3Z" fill="#F0F0FF" fill-rule="evenodd"/><path d="M-2 -2L244.8 -2L244.8 1.6L229.8 0.5L212.5 0L201.2 0.1L169.8 0.8L153.2 1L62.5 0.4L50.5 0.4L43 0.8L37 1.4L31.8 2.7L26.3 4.8L23.7 5.5L19.6 6.2L13.8 6.5L10 6.4L4.3 5.5L-2 3.9ZM123.9 31L124.1 29.5L124.4 28.8L125.7 27.2L128.3 25.8L130.3 25L135.4 23.5L142.1 22L151 20.5L157.9 19.8L166 19.4L173.5 19.6L180.2 20.1L195.2 21.8L204.2 22.3L223.8 22.1L244.8 21.6L244.8 37.5L239.5 37.3L233.5 37.4L226 37.7L219.2 38.4L207.3 40L190.5 43L177.2 44.5L167.5 44.9L158.5 44.5L145.7 43L135.7 41.5L131.5 40.7L129.1 40L127.8 39.4L126.4 38.5L125.7 37.8L124.9 36.2L124.4 34.8ZM116.7 48.2L116.6 51.2L115.7 54.2L114.2 56.7L112 59L109 61L101.5 64.8L92.5 70.6L89.5 71.9L87.2 72.5L84.2 72.4L81.2 71.5L78.2 69.8L74.5 67L70.5 63.2L67.3 59.5L65.4 56.5L64.7 55L64.4 53.5L64.4 52L65 50.5L66.2 49.1L67.4 48.2L69.2 47.4L71.5 46.7L74.5 46L77.5 45.6L83.5 45.3L96.2 45.4L99.2 45.1L107.5 43.9L111.2 43.9L113.5 44.3L115.3 45.2L116.4 46.8ZM-2 53.1L4.8 54.2L10 55.4L14.5 57L18.2 58.9L23.5 62.6L37.3 74.5L46.8 81.7L55 87L69.1 94.8L72.6 97L75 99.2L76 100.8L76.7 102.2L77.3 104.5L77.9 111.2L78.9 114.2L80.5 116.5L82 117.5L83.5 118L85.2 118L87.3 117.2L89.5 115.7L94.2 111.2L96.2 110L98.5 109L102.2 108.1L116.5 105.7L125.6 103.8L131.1 102.2L145 97.8L154.3 95.5L163.8 93.6L172.8 92.2L181.8 91.1L200.5 89.4L209.5 88.4L234.2 84.7L244.8 82.8L244.8 163L131.5 163L134.2 161.5L136 160.3L137.1 159.2L138.3 157.8L138.6 156.2L138.5 155.5L138.1 154.8L137.3 154L135.9 153.2L133.8 152.5L130.6 151.8L120.2 149.9L100 145.8L90.2 144.5L81.2 144L73.8 144.4L65.5 145.6L61.3 146.5L59.1 147.2L57.6 148L56.7 148.8L56.4 149.5L56.4 150.2L57.1 151.8L62.8 158.5L65.6 163L-2 163L-2 148.9L4 148.9L9.2 148.5L15.2 147.6L20.2 146.5L23.5 145.3L25.5 144.2L26.3 143.5L26.8 142.8L27.1 141.2L26.9 139.8L26.2 137.5L24.9 134.5L23.6 132.2L20.9 128.5L18.7 126.2L16.9 124.8L13 122.3L8.5 120.3L3.2 118.9L-2 118.3ZM201.7 142.8L201.7 143.5L202.1 144.2L203.5 145.1L205 145.3L206.5 145.2L208 144.5L208.9 143.5L209 142.8L208.7 142L207.8 141.2L205.8 140.7L204.2 140.9L203.1 141.2L202.1 142Z" fill="#FFC0C0" fill-rule="evenodd"/><path d="M143 28.8L143.6 27.2L145.2 25.8L148 24.4L150.7 23.5L154 22.7L158.5 22.1L162.2 21.8L166.8 21.7L172 21.9L177.2 22.6L181.8 23.5L190.8 25.7L196 26.4L201.2 26.6L219.2 26.5L225.2 26.8L230.5 27.2L235.4 28L238.3 28.8L239.9 29.5L240.6 30.2L240.4 31L239.2 31.8L236.9 32.5L233.1 33.2L227.2 34L214 34.9L192.2 35L187 35.5L173.5 37.5L169 37.9L165.2 38L160.8 37.7L157 37.3L153.2 36.5L149.5 35.3L146.9 34L144.8 32.5L144.1 31.8L143.2 30.2ZM69.8 54.2L70 53.4L70.8 52.3L71.5 51.7L73 50.9L74.5 50.4L76.8 50L81.2 50L85.8 50.6L90.4 52L96.7 55L97.7 55.8L98 56.5L97.4 58L95.7 60.2L93.7 62.5L91.9 64L90.2 65.1L88 66.1L86.5 66.5L84.2 66.6L82 66.3L79.8 65.5L77 64L74.5 62.1L72.5 60.2L70.8 58L69.9 55.8ZM-2 56.5L4 57.4L9.4 58.8L13.8 60.3L18.2 62.6L24.2 66.6L38.1 77.5L45.2 82.8L51.2 87L66.5 97L69.9 100L71.1 101.5L72.1 103L73.3 106L75.2 113.8L76.1 115.8L77.4 118L79 119.8L80.5 121L82 121.8L83.5 122.1L85.8 122L88 121.2L90.2 119.6L95 115L97 113.4L100 111.6L103.8 110.3L107.5 109.4L112.8 108.4L133.2 105.2L141.5 103.8L148.8 101.9L164.5 97.2L174.2 95.1L181.8 94.1L190 93.5L221.5 92.9L227.5 93.1L232 93.6L236.5 94.4L240.2 95.4L244.8 97.3L244.8 138.7L240.2 141.1L235 143.1L229.8 144.4L225.2 144.8L223 144.5L220.8 143.6L215.3 139.8L212.2 138.2L210.2 137.7L208 137.3L204.2 137.4L200.5 138.2L197.5 139.7L195.3 141.2L191.5 144.6L189.2 145.8L187.8 146.2L185.5 146.5L180.2 146.4L176.5 145.9L171.2 144.7L167.5 143.6L164.5 142.2L163 141.2L161.3 139.8L160 138.1L157.7 134.5L155.8 132.2L154.8 131.5L153.2 130.7L151.8 130.3L150.2 130.2L147.8 130.8L146.6 131.5L145.8 132.3L144.3 134.5L142.3 139.8L141.4 141.2L139.8 142.8L137.5 144.2L135.2 145.2L132.2 146.1L129.2 146.7L123.2 147.2L117.2 146.9L111.2 146.2L93.2 143.5L86.5 142.8L80.5 142.6L73.8 142.9L67 143.6L56.5 145.2L53.5 145.8L50.8 146.5L49.6 147.2L49.3 148L49.6 148.8L50.9 150.2L55.8 154.8L58.3 157.8L59 159.2L59.3 160.8L59.2 162.2L58.8 163L-2 163L-2 150.4L4 150.1L10.8 149.5L16.8 148.7L24.5 147.2L27.7 146.5L31 145.4L31.9 145L32.8 144.2L33 143.5L32.9 142.8L32.1 141.2L25.1 130.8L21.9 127L18.4 124L13.8 121L9.2 119L4 117.4L-2 116.4Z" fill="#FF9090" fill-rule="evenodd"/><path d="M154.6 28.8L154.7 28L155.3 27.2L156.3 26.5L158 25.8L161.5 25L166.8 24.7L171.2 25.2L173.8 25.8L176 26.5L178.6 28L179.3 28.8L179.5 29.5L179.1 30.2L178.1 31L175 32.1L170.5 32.9L165.2 33.1L160.8 32.6L157.8 31.8L156.3 31L155.4 30.2L154.8 29.5ZM-2 60.2L4 61.2L10 62.8L14.5 64.4L19.8 67.1L23.5 69.4L28 72.5L61.7 97L66 100.8L67.8 102.8L68.9 104.5L70.4 107.5L73.3 115.8L74.5 118.3L76 120.7L77.5 122.6L79 124.1L80.5 125.1L82.8 126L84.2 126.2L85.8 126.1L87.2 125.7L88.8 125L91 123.3L96.2 117.7L99.2 115.2L103 113L107.5 111.5L112.8 110.3L118.8 109.4L124.8 108.8L136.8 108.1L143.5 107.2L151.5 105.2L165.2 100.5L171.2 98.7L179.5 97.2L187.8 96.6L193.8 96.6L199.8 96.9L216.2 98.5L221.4 99.2L225.2 100L229 101.1L232 102.2L235 103.8L238.3 106L240.6 108.2L242.3 110.5L243.4 112.8L244.2 115.8L244.4 118.8L244 121L243.2 123.2L241.9 125.5L240.2 127.6L238.8 129.1L236.7 130.8L234.3 132.2L232 133.4L229 134.6L225.2 135.6L222.2 135.9L219.2 135.8L210.2 134.8L207.2 134.8L204.2 135.1L199.7 136L190 139.5L186.2 140.4L182.5 140.5L178.8 140.2L174.2 139.4L169.8 138L166.8 136.7L164.5 135.4L158.8 130.8L156.2 129.1L153.2 127.8L150.2 127.4L148 127.6L146.5 128L145 128.7L143.5 129.9L141.5 132.2L139 136.2L137.5 138.2L136 139.8L134.5 140.9L132.2 142.2L130 143.2L127 144.1L124 144.7L118.8 145.1L112.8 144.8L91 141.8L82 141.1L73.8 141.3L59.5 142.8L53.5 143.2L47.5 143.1L42.2 142.3L38.5 140.9L36.2 139.5L34.8 138.4L31.8 135.5L24.3 127L20.9 124L17.5 121.5L13.8 119.4L9.2 117.4L4 115.8L-2 114.4ZM-2 151.8L9.2 150.8L28.8 148.4L34 148.2L38.5 148.5L41.5 149.2L43.8 149.9L46.8 151.2L50.2 153.2L52.8 155.3L54.1 157L54.8 158.5L55 160L54.4 161.5L52.8 163L-2 163Z" fill="#FF5C5C" fill-rule="evenodd"/><path d="M-2 64.2L4 65.1L10 66.5L16 68.7L21.2 71.3L27.2 74.8L34 79.4L45.9 88L55.8 95.5L61.8 100.6L65.3 104.5L67.8 108.5L72.1 118.8L75.2 124.5L76.8 126.6L78.2 128.2L79.8 129.4L82 130.4L83.5 130.6L85.8 130.5L88 129.9L89.5 129.1L91 128L92.5 126.6L97.5 120.2L100 117.7L101.6 116.5L103.8 115.2L108.2 113.4L113.5 112.1L119.5 111.3L125.5 111L137.5 111.1L141.2 110.9L145 110.3L148.8 109.5L153.2 108.1L166 103.3L171.2 101.6L177.2 100.3L183.2 99.5L187.8 99.4L192.2 99.5L201.2 100.5L206.5 101.5L212.7 103L217.9 104.5L222.1 106L225.2 107.5L227.5 108.9L229.6 110.5L231 112L232 113.6L232.9 115.8L233.1 117.2L232.9 119.5L232.4 121L231.6 122.5L229.8 124.8L226.8 127.1L222.2 129.4L217 130.9L203.5 132.9L199 133.9L191.5 135.9L187.8 136.6L184 136.8L180.2 136.6L176.5 136L172.8 135L169.8 134L166.8 132.7L158.8 127.8L155.8 126.2L152.5 125.2L148.8 124.9L146.5 125.2L145 125.7L143.5 126.4L141.5 127.8L139.4 130L135 136L133.6 137.5L131.5 139.2L129.4 140.5L127 141.6L124.8 142.3L121.8 142.9L116.5 143.4L109.8 143L102.2 142L86.5 139.5L81.2 139L75.2 139.2L63.2 140.6L57.2 141.1L50.5 140.9L45.2 140L40.8 138.5L38.5 137.4L36.2 136L33.2 133.5L24.3 124.8L21.2 122.3L17.5 119.8L13.8 117.8L9.2 115.9L4.8 114.3L-2 112.3ZM-2 153.3L22.8 150.3L29.5 149.9L34.8 150.2L38.5 150.7L41.5 151.5L44.5 152.6L46.8 153.7L48.4 154.8L50 156.2L50.9 157.8L51.1 159.2L50.5 160.6L49.6 161.5L47 163L-2 163Z" fill="#FF3C3C" fill-rule="evenodd"/><path d="M-2 68.1L4 68.7L10.8 70.3L17.5 72.7L23.5 75.5L30.2 79.5L38.3 85L47.3 91.8L55.6 98.5L58.9 101.5L61.8 104.5L64 107.4L65.9 110.5L68.5 116.1L75.4 132.2L75.8 133.8L75.7 134.5L75.2 135.2L74.2 136L73 136.5L69.8 137.5L65.5 138.4L60.2 139L55.8 139.2L52 138.9L48.2 138.4L45 137.5L40.8 135.7L37 133.4L34 131.1L25.1 123.2L22 120.9L18.2 118.6L14.5 116.6L10.8 114.9L-2 110.1ZM221.4 117.2L221.1 119.5L219.9 121.8L217.6 124L214 126.4L210.2 128.1L205.8 129.6L195.9 132.2L190 133.5L186.2 133.8L182.5 133.8L178.8 133.3L174.2 132.3L170.5 131.1L167.5 129.8L159.2 125.3L155.5 123.6L151 122.2L147.2 121.8L144.2 122.3L142.8 123L141.2 123.9L139.8 125.1L138.2 126.7L133.2 133.8L130.4 136.8L128.4 138.2L126.2 139.4L124 140.3L121.8 141L118 141.6L114.2 141.8L109.8 141.6L105.2 141L98.5 139.8L93.1 138.2L91.2 137.5L89.9 136.8L89.3 136L89.2 135.2L89.7 134.5L94.2 130L95.5 128.2L98.5 123.2L100.8 120.3L102.4 118.8L104.5 117.3L108.2 115.4L111.2 114.5L114.2 113.8L117.2 113.4L121 113.2L127 113.3L139 114.6L142 114.6L144.2 114.3L147.2 113.6L151 112.3L169.8 104.9L175 103.3L179.5 102.5L185.5 102L192.2 102.3L199 103.4L205.8 105.4L209.3 106.8L212.6 108.2L215.2 109.8L217.4 111.2L219.1 112.8L220.3 114.2L221 115.8ZM-2 155.1L5.5 153.6L17.5 151.9L25 151.3L31.8 151.4L37.8 152.3L40.8 153.1L43 154L44.5 154.8L46.3 156.2L47.2 157.8L47.3 158.5L47.2 159.2L46.8 159.9L45.9 160.8L43.8 161.9L40.6 163L3 163L-2 161.7Z" fill="#FF2020" fill-rule="evenodd"/><path d="M-2 71.9L4 72.2L10 73.3L16.8 75.4L22.8 78L29.5 81.7L36.2 86.2L43.8 91.8L51 97.8L56.5 102.8L60.2 106.8L63 110.5L65.5 114.9L68.4 121.8L69.8 127L70.1 129.2L70 131.3L69.8 132.2L68.9 133.8L67 135.1L64.9 136L61.8 136.7L58.8 137.1L55 137.1L52 136.8L48.2 136.1L45.2 135.2L41.5 133.5L38.3 131.5L35.5 129.5L26 121.8L19.8 117.7L13 114.2L2.6 109.8L-2 107.6ZM153.8 117.2L154 116.5L154.6 115.8L157.5 113.5L163.1 110.5L169 107.9L173.5 106.3L178 105.2L181.8 104.7L186.2 104.5L191.5 104.9L196 105.8L200.5 107.3L204.2 109L207.6 111.2L209.9 113.5L211.2 115.8L211.6 118L211 120.2L209.5 122.5L206.9 124.8L203.5 126.7L199.2 128.5L193.8 130.1L189.2 130.9L184.8 131.1L181 130.9L177.2 130.3L172.8 129.1L169 127.6L163.4 124.8L156 120.2L154.4 118.8L153.9 118ZM136.1 120.2L136.3 121.8L135.6 124L133.3 128.5L131 132.2L129.1 134.5L127.4 136L125.2 137.5L122.5 138.7L119.5 139.6L115.8 140.1L112 140.1L107.6 139.8L103.6 139L100 137.9L97.8 136.8L97 136L96.7 135.2L96.7 133.8L97.2 132.2L99.9 126.2L101.6 123.2L103.5 121L105.2 119.5L107.5 118L109.8 117L113.5 115.9L117.2 115.3L121 115.2L124.8 115.4L128.5 116.1L132.2 117.2L134.9 118.8L135.7 119.5ZM-0.4 158.5L-0.3 157.8L0.4 157L1.7 156.2L3.8 155.5L6.7 154.8L15.7 153.2L25 152.5L31.8 152.8L35 153.2L37.8 153.9L39.9 154.8L41.4 155.5L42.4 156.2L43 157L43.4 157.8L43.4 158.5L43 159.2L42.3 160L41.1 160.8L39.2 161.5L37 162.1L32 163L13.2 163L6.2 161.9L2.5 160.8L1 160L0 159.2Z" fill="#FF0000" fill-rule="evenodd"/><path d="M13.7 25.4h0M28 25.4h0M42.2 25.4h0M56.5 25.4h0M6.6 32.6h0M20.9 32.6h0M35.1 32.6h0M49.4 32.6h0M63.6 32.6h0M13.7 39.9h0M28 39.9h0M42.2 39.9h0M170.5 68.8h0M184.7 68.8h0M177.6 76.1h0M13.7 83.3h0M6.6 90.5h0M20.9 90.5h0M13.7 97.8h0M28 97.8h0M42.2 97.8h0M20.9 105h0M35.1 105h0M49.4 105h0M163.4 105h0M177.6 105h0M191.9 105h0M42.2 112.3h0M56.5 112.3h0M113.5 112.3h0M127.7 112.3h0M170.5 112.3h0M184.7 112.3h0M199 112.3h0M35.1 119.5h0M49.4 119.5h0M63.6 119.5h0M106.4 119.5h0M120.6 119.5h0M134.9 119.5h0M163.4 119.5h0M177.6 119.5h0M191.9 119.5h0M42.2 126.7h0M56.5 126.7h0M113.5 126.7h0M127.7 126.7h0M170.5 126.7h0M184.7 126.7h0M199 126.7h0M49.4 134h0M106.4 134h0M120.6 134h0M63.6 148.5h0M77.9 148.5h0M92.1 148.5h0M13.7 155.7h0M28 155.7h0M42.2 155.7h0M70.7 155.7h0M85 155.7h0M99.2 155.7h0M70.7 83.3h0M106.4 90.5h0M113.5 97.8h0M120.6 76.1h0M134.9 47.1h0M6.6 134h0" stroke="#000" stroke-width="4.1" stroke-linecap="round" fill="none"/><use href="#c2"/></g>
<rect x="320.3" y="587.6" width="239.6" height="157.7" fill="none" stroke="#000" stroke-width="3.3"/>
<path d="M320.3 745.3V751.2M388.8 745.3V751.2M457.3 745.3V751.2M525.7 745.3V751.2" stroke="#000" stroke-width="2.8" stroke-linecap="round" fill="none"/>
<path d="M331.8 745.3V748.9M343.2 745.3V748.9M354.6 745.3V748.9M366 745.3V748.9M377.4 745.3V748.9M400.2 745.3V748.9M411.6 745.3V748.9M423 745.3V748.9M434.4 745.3V748.9M445.9 745.3V748.9M468.7 745.3V748.9M480.1 745.3V748.9M491.5 745.3V748.9M502.9 745.3V748.9M514.3 745.3V748.9M537.1 745.3V748.9M548.5 745.3V748.9M559.9 745.3V748.9" stroke="#000" stroke-opacity="0.3" stroke-width="0.7" fill="none"/>
<text x="320.3" y="771.6" font-size="18" text-anchor="middle">180</text>
<text x="388.8" y="771.6" font-size="18" text-anchor="middle">120W</text>
<text x="457.3" y="771.6" font-size="18" text-anchor="middle">60W</text>
<text x="525.7" y="771.6" font-size="18" text-anchor="middle">0</text>
<text x="319" y="580.7" font-size="20.2">(l) WSGEN</text>
<text x="561" y="584.3" font-size="18" text-anchor="end">U200</text>
<g transform="translate(574.3 586)" clip-path="url(#cp)"><rect x="0" y="0" width="242.9" height="161" fill="#3838FF"/><path d="M-2 -2L244.8 -2L244.8 163L-2 163ZM52.7 28L52.4 27.2L51.7 26.5L50.5 25.7L48.2 24.8L44.5 24L40.8 23.7L37 23.7L32.5 24L28 24.6L23.5 25.5L19.8 26.5L15.7 28L12.5 29.5L10.3 31L8.8 32.5L8.1 34L8.1 35.5L8.9 37L10.5 38.5L13 40L14.9 40.8L17.5 41.5L19.8 41.9L22 41.9L25 41.6L29.5 40.5L38.2 37.8L42.4 36.2L46 34.8L49 33.1L51.6 31L52.6 29.5Z" fill="#5858FF" fill-rule="evenodd"/><path d="M-2 -2L244.8 -2L244.8 163L-2 163ZM62.4 26.5L61.8 24.9L61 24.1L59.5 23.1L56.5 21.8L52 20.8L46.8 20.3L40.8 20.2L34.8 20.5L28 21.3L21.2 22.6L15.2 24.1L10.5 25.8L5.5 28L1.8 30.2L-0.6 32.5L-1.5 34L-1.7 34.8L-1.7 36.2L-1.2 37.4L-0.5 38.4L1.4 40L4 41.5L9.2 43.8L13.6 45.2L17.2 46L21.2 46.3L24.5 46L28 45.3L31.8 44L47.5 38.2L53.6 35.5L57.4 33.2L60.2 31L62 28.8L62.4 27.2ZM76.4 145L76.5 146.5L77 147.2L78.7 148.8L82 150.1L85.8 150.8L89.5 150.9L93.8 150.2L95.7 149.5L96.9 148.8L97.5 148L97.9 147.2L97.9 146.5L97.2 145L96.2 144L94.8 142.9L93 142L91 141.3L87.2 140.6L83.5 140.7L81.2 141.2L79.8 141.7L77.5 143.1L76.6 144.2ZM-0.3 130L-0.6 130.8L-0.9 132.2L-0.7 133.8L0 135.2L1 136.6L2 137.5L3.3 138.2L5.2 139L8.5 139.4L10.8 139.1L12.2 138.7L13.8 137.9L15.1 136.8L16 135.5L16.4 134.5L16.6 132.2L15.7 130L15.2 129.2L13.8 128L12.2 127.1L10.8 126.6L9.2 126.2L7 126.1L4 126.6L1.7 127.8L0.8 128.5Z" fill="#7474FF" fill-rule="evenodd"/><path d="M-2 -2L244.8 -2L244.8 163L-2 163L-2 139.4L-0.5 140.5L1 141.3L4.8 142.4L7 142.7L9.2 142.7L13 142.1L16 141L17.5 140L18.6 139L20.1 136.8L20.6 135.2L20.8 133.8L20.7 132.2L20.3 130.8L19 128.4L16.7 126.2L15.2 125.3L13 124.4L9.2 123.5L7 123.3L4.8 123.5L1 124.3L-2 126L-2 43.9L9.7 47.5L13 48.3L16.8 48.8L20.5 49.1L24 49L27.2 48.6L31 47.9L36.2 46.2L51.2 40.2L56.5 37.9L61.1 35.5L65.9 32.5L69.5 29.5L71.1 27.2L71.6 25.8L71.6 25L71.1 23.5L70.6 22.8L69.2 21.5L66.2 19.9L63.2 18.8L58.8 17.8L54.2 17.2L49 16.9L43 16.9L37 17.2L31 17.8L25 18.7L18.2 20.1L12.2 21.6L7 23.2L2.4 25L-2 27.1ZM72 145L72.2 146.5L73.1 148L74.5 149.4L76 150.3L78.2 151.4L81.2 152.4L84.2 153.1L87.2 153.5L90.2 153.6L94 153.4L97 153L100 152.3L102.2 151.5L104.3 150.2L105 149.5L105.5 148L105.1 146.5L104.2 145L101.8 142.8L99.5 141.2L97 140L94 138.8L91 138L88 137.6L85 137.5L82.8 137.7L79.8 138.3L77.5 139.2L75.2 140.5L73.4 142L72.4 143.5ZM203.5 75.2L203 74.5L201.5 73.8L199 73.3L196 73L189.2 73.4L182.3 74.5L173.8 76.8L167.5 79L157.3 83.5L154.4 85L152.2 86.5L152.4 87.2L154.8 87.6L158.5 87.7L163.8 87.6L169 87.2L175 86.6L183.8 85L191.9 82.8L197.5 80.5L200.3 79L202.3 77.5L203.4 76Z" fill="#9090FF" fill-rule="evenodd"/><path d="M-2 -2L244.8 -2L244.8 163L-2 163L-2 143.5L0 144.2L2.5 144.8L7 145.3L12.2 145L16.8 143.9L19.8 142.5L21.2 141.4L22.2 140.5L23.2 139L23.9 137.5L24.4 134.5L24.2 132.2L23.8 130.8L23.2 129.2L22.2 127.8L19.8 125.2L16.4 123.2L14.5 122.5L11.9 121.8L7 121.1L2.5 121.4L0.2 121.9L-2 122.6L-2 47.8L10.8 50.4L18.2 51.3L22 51.4L26.5 51.3L35.5 50.6L38.5 50.1L40.8 49.1L47.6 45.2L63.7 37.8L75.1 31.8L78.3 29.5L80 28L81.5 25.8L81.8 24.2L81.7 22.8L81.4 22L79.8 20L77.3 18.2L73.8 16.6L68.5 14.9L62.5 13.5L57.2 12.8L52 12.4L46 12.5L39.2 13.1L31.8 14.1L24.2 15.4L16.8 17L10 18.6L4 20.4L-2 22.5ZM240.2 64L239.5 62.6L238.8 61.8L236.5 60.2L233.5 59.4L229.8 59.4L225.2 60.4L216.2 63.8L211 65.3L206.5 66L190.8 67.8L180.2 69.7L169 72.6L151.8 78.2L145 80.1L138.2 81.7L122.3 85L115.8 86.7L111.2 88.4L108.1 90.2L106.7 91.8L106.4 92.5L106.4 93.2L106.7 94L107.5 94.8L108.8 95.5L110.8 96.2L113.5 96.9L120.2 97.6L127.8 97.6L139.8 96.6L160.4 94L174.2 92L184.8 90L192.2 88.2L199.8 86L220.8 78.7L223.8 77.5L236.5 70L238.6 68.5L239.5 67.6L240.2 66.2L240.3 65.5ZM75.2 88.9L74 89.5L73.2 90.2L72.7 91L72.1 92.5L71.8 95.5L72.5 99.2L73.4 101.5L74.5 103.5L76.8 106.2L79 107.6L80.5 107.7L81.2 107.6L82.8 106.8L83.7 106L85 104.3L86.2 102.2L87.2 100L87.6 98.5L87.7 97L87.4 95.5L86.6 94L85.2 92.5L82 90.2L80.5 89.5L78.2 88.8L76.8 88.6ZM68.7 144.2L68.7 145.8L68.8 146.5L69.6 148L70.9 149.5L73 151.1L76 152.7L79 153.9L82.8 155L86.5 155.7L91 156.1L95.5 156.1L100 155.8L105.2 155.1L109.8 154.2L112.7 153.2L114.2 152.4L115 151.8L115.4 151L115.5 150.2L115.3 149.5L113.8 147.2L110.8 144.2L106.7 141.2L102.7 139L97.8 136.9L93.2 135.4L88.8 134.5L85 134.3L82 134.6L79 135.5L76 136.7L73 138.5L70.8 140.5L69.2 142.6Z" fill="#C0C0FF" fill-rule="evenodd"/><path d="M-2 -2L244.8 -2L244.8 56.9L242.7 55.8L241 55.1L237.2 54.2L232.8 54.1L228.2 54.7L223.8 55.8L213.2 59.3L208.8 60.5L203.5 61.4L184.8 64.2L177.2 65.7L170.5 67.3L162.2 69.5L146.2 74.5L138.2 76.7L117.2 81.4L111.2 82.9L106 84.6L97.8 87.6L94.8 88.3L92.5 88.5L89.5 88L86.5 86.9L80.5 84.4L77.5 83.5L75.2 83.2L73 83.4L70.8 84.5L70 85.2L69 86.5L68.4 88L68 89.5L67.7 92.5L67.9 96.2L68.8 100L70.2 103.8L72.5 108.2L75.2 112.4L77.5 114.9L79.8 116.5L81.2 116.9L82 116.9L83.5 116.4L85 114.9L86.5 112.7L90 106.8L92.5 103.6L94.8 101.8L97 100.9L98.5 100.7L100.8 100.6L111.2 101.6L118 101.9L124 101.9L131.5 101.5L143.5 100.5L160 98.6L172.8 96.9L183.2 95.1L190.8 93.5L199 91.4L219.2 85.3L221.5 84.3L223.8 83.1L230.8 77.5L234.2 75.4L238 74L244.8 72.6L244.8 163L-2 163L-2 146.5L4 147.3L10 147.3L16 146.5L19 145.8L21.2 145L24 143.5L25 142.7L26.2 141.2L27 139.8L27.5 138.2L27.8 135.2L27.3 131.5L26.5 129.2L25.7 127.8L24.6 126.2L23.1 124.8L19.8 122.5L17.5 121.4L14.5 120.4L9.2 119.4L6.2 119.2L3.2 119.2L-2 120L-2 51.2L14.5 53.2L19.8 53.5L28 53.7L31.8 54.2L33.2 54.7L34.8 55.8L38.4 60.2L40 61.5L42.2 62.3L44.5 62.2L45.7 61.8L46.7 61L47.6 59.5L48.1 57.2L47.8 53.5L47.8 52L48.4 50.5L48.9 49.8L50.4 48.2L52.7 46.8L55.4 45.2L67 39.5L73.8 36.7L84.9 32.5L89.5 30.2L91.7 28.8L93.8 26.5L94.6 25L95 22.8L94.4 20.5L92.7 18.2L90.7 16.8L86 13.8L84.4 12.2L84 11.5L84 10.8L85.2 8.5L85.3 7.8L84.9 7L83.5 6.2L79 5.2L73.8 4.5L67 4L55.8 3.7L44.5 3.9L34 4.6L26.5 5.5L23.2 6.2L21 7L19.7 7.8L17.1 10.8L14.4 12.2L10.4 13.8L-2 17.6ZM65.6 144.2L65.8 146.5L67.1 148.8L69.5 151L72.2 152.9L76 154.9L80.5 156.7L85 158L89.5 158.8L94.8 159.2L101.5 159.2L115.8 158.7L123.2 158.1L127.8 157.3L131 156.2L132.4 155.5L133.4 154.8L133.9 154L134.2 153.2L134.1 152.5L133.8 151.8L133.1 151L131.1 149.5L121 144.5L109.7 138.2L104.5 135.9L97.8 133.3L90.2 130.7L86.5 129.7L84.2 129.6L81.2 130.4L76.8 132.6L73 135L70 137.4L67.7 139.8L66.3 142Z" fill="#F0F0FF" fill-rule="evenodd"/><path d="M-2 163L-2 148.9L4.8 149.2L11.5 148.9L18.2 148L24 146.5L27.3 145L28.8 144L29.9 142.8L31 140.3L31.3 139L31.4 136.8L31.2 134.5L30.8 132.2L30.1 130L29.1 127.8L28.1 126.2L26.5 124.4L25 123.1L22.8 121.6L19.9 120.2L17.5 119.3L11.5 117.9L4.8 117.3L-2 117.6L-2 54.4L4 54.7L23.5 56L28 56.5L30.2 57.2L31.8 58L36.6 62.5L39.2 64.3L40.8 64.9L43 65.4L46 65.2L47.5 64.8L48.8 64L49.8 63.2L50.9 61.8L51.8 59.5L52.9 53.5L53.6 52L55 50.2L57.4 48.2L62.3 45.2L67 42.8L71.5 40.9L76.8 39.3L82.8 38.1L106 35.9L109 35.9L111.2 36.1L119.5 37.7L123.2 38.2L127.8 38.3L131.5 37.9L134.5 37.2L136.8 36.3L138.5 35.5L140.5 34.2L141.6 33.2L142.8 31.8L143.5 30.2L143.8 28.8L143.2 26.5L141.5 24.2L139.5 22.8L136.4 21.2L134.1 20.5L130.7 19.8L120.2 18.4L114.2 17.3L108.2 15.4L104.8 13.8L104 13L103.7 12.2L103.9 11.5L104.8 10.8L108.2 9.2L115.3 7L117.1 6.2L118.2 5.5L118.2 4.8L117 4L112.8 2.9L103 1.3L89.5 0L76 -0.7L62.5 -1L46.8 -0.8L29.5 -0.1L13.8 0.9L-2 2.3L-2 -2L244.8 -2L244.8 49.9L241.8 49.6L238 49.5L231.2 50.2L226 51.3L213.2 54.9L206.5 56.4L199.8 57.5L175 60.9L160 63.7L150.2 66L130.9 71.5L112 76.4L97.8 81.1L94 82L91 82.2L88 81.9L78.2 79.2L73.8 78.4L71.5 78.4L69.2 78.9L67.8 79.6L66.6 80.5L65.1 82.8L64.6 84.2L64.1 86.5L63.9 91L64.5 96.2L65.6 100.8L67.4 106L74.4 121.8L74.9 124L75 125.5L74.7 127L73.5 129.2L71.7 131.5L66.2 137.3L64 140.4L63.2 142L62.7 143.5L62.7 145.8L63.3 147.2L64.9 149.5L67 151.5L70 153.7L76 157.4L81.2 160.3L85 162L88.1 163ZM166.8 19.8L167.1 20.5L168 21.2L170.5 22.4L173.5 23L177.2 23.1L181 22.7L184 21.8L186.4 20.5L187.2 19.8L187.5 19L187.3 18.2L186.7 17.5L184.8 16.6L181.8 15.9L177.2 15.7L172.8 16.3L170.9 16.8L168.8 17.5L167.5 18.2L166.9 19ZM244.8 78.2L244.8 138.1L242.5 136.7L239 135.2L235 134.2L230.5 133.4L226 133L220.8 133L215.5 133.2L209.6 133.8L203.5 134.6L196.7 136L191 137.5L186.8 139L183.6 140.5L181.4 142L179.9 143.5L179.5 144.2L179 145.8L179.1 146.5L179.5 147.7L180.9 149.5L184 151.7L187.2 153.2L191.5 154.8L196.8 156.1L202 157L208 157.6L214 157.7L219.2 157.5L224.5 157L229.8 156.1L234.2 154.9L238.8 153.3L242 151.8L244.8 149.9L244.8 163L138.2 163L142.8 161.8L146.5 160.5L150.2 158.6L152.5 157L154.4 154.8L154.9 153.2L154.7 151.8L154.4 151L153.1 149.5L150.9 148L146.5 146.1L127.8 140.4L101 130L97.8 128.4L94.8 126.4L93.2 124.8L92.1 122.5L91.6 120.2L91.7 118L92.3 115L93.1 112.8L94.5 110.5L95.8 109L97.8 107.7L99.2 107.1L101.5 106.6L103.8 106.4L121 106.6L128.5 106.2L138.2 105.4L176.5 101.7L187.8 100.2L198.2 98.4L205.8 96.8L214.8 94.5L219.2 93.1L221.5 92.1L223 91L224.5 89.6L228.8 83.5L230.7 81.2L232.8 79.5L235 78.1L237.2 77.3L239.5 77.1L241.8 77.3Z" fill="#FFC0C0" fill-rule="evenodd"/><path d="M124.5 12.2L124.9 11.5L126.8 10.8L130.8 9.9L139 9L149.5 8.4L158.5 8.4L166 8.8L172 9.6L173.7 10L175.3 10.8L175 11.5L173.1 12.2L167.3 13.8L160 15.1L153.2 15.7L144.2 15.5L133.2 14.5L127.8 13.6L125.6 13ZM244.8 22.3L244.8 44.3L236.5 45.6L230.5 46.8L214.8 50.9L208.8 52.2L202.8 53.2L196 54L181 55.2L168.2 55.6L163.8 55.4L160.8 55L158.5 54.3L157.5 53.5L157.3 52.8L158.5 49L158.7 46.8L158.1 44.5L156.1 40.8L156 40L156.2 39.2L157.4 37.8L159.2 36.6L162.2 35.1L166 33.5L171.2 31.9L177.2 30.3L199 25.5L207.2 24L216.2 23L226.8 22.3L236.5 22ZM96 46.8L98.3 49L100.1 52L101.1 55L101.4 58.8L101 62.5L99.8 66.2L98.1 69.2L97 70.8L95.5 72.2L93.4 73.8L91 74.9L88.8 75.5L86.5 75.7L82 75.4L70 73.4L67 73.2L64.8 73.4L62.5 74.3L61.3 75.2L60.3 76.8L59.7 79L59.4 82L59.5 86.5L60.1 91.8L60.8 96.2L62.8 103.8L68 119.5L68.7 122.5L68.9 124.8L68.7 127L67.6 130L66.2 132.2L62 138.2L60.3 141.2L59.6 143.5L59.7 145.8L60.7 148L62.7 150.2L71 157L73.4 159.2L75.1 161.5L75.6 163L-2 163L-2 151L5.5 150.9L13 150.4L20.5 149.3L26.5 148L30.6 146.5L33 145L33.7 144.2L34.7 142.8L35.1 141.2L35.3 139.8L35.1 136.8L34.6 133.8L33.8 130.8L32.9 128.5L31.7 126.2L30.2 124.4L28.3 122.5L26.5 121.2L24.2 119.9L21.2 118.6L18.2 117.6L14.5 116.7L10.8 116.1L6.2 115.6L-2 115.4L-2 57.9L4 57.6L10.8 57.7L20.5 58.3L25.8 59L28 59.7L29.5 60.4L35.5 64.9L39.2 67L41.5 67.8L43.8 68.3L46 68.5L48.2 68.4L50.5 68L52 67.3L53.5 66.3L54.2 65.4L55 64L55.6 62.5L57.4 55.8L58.5 53.5L59.6 52L61.8 50L64 48.2L66.4 46.8L69.3 45.2L73 43.8L76 43L79.8 42.4L83.5 42.4L87.2 42.8L90.6 43.8L93.8 45.2ZM238.8 80.3L240.2 80.5L241.8 81.2L243.6 82.8L244.8 84.4L244.8 94.7L243.2 97L241 98.8L238.8 99.7L236.5 99.8L235 99.4L233.5 98.6L232 97.3L231.3 96.2L230.5 94.8L230.1 93.2L229.9 91.8L230 89.5L230.5 87.2L231.1 85.8L231.9 84.2L233.1 82.8L234.2 81.7L235.8 80.8L237.2 80.3ZM213.1 117.2L212.8 118.8L211.5 120.2L209.3 121.8L207.8 122.5L201.9 124.8L193.6 127L182.5 129.3L170.5 131.1L159.2 132.1L147.2 132.7L138.2 132.5L130 131.7L121 130L112.8 127.8L107.5 125.9L105.2 124.8L103.8 123.9L102.2 122.6L101.5 121.6L100.8 120.2L100.5 118.8L100.8 117.3L101.1 116.5L102.2 115.2L103.9 114.2L106.8 113.5L124.8 112.6L145 110.3L155.5 109.4L164.5 108.8L173.5 108.6L181.8 108.6L189.2 109L196 109.7L201.2 110.7L206.1 112L209.6 113.5L211.8 115L212.5 115.8Z" fill="#FF9090" fill-rule="evenodd"/><path d="M244.8 30.9L244.8 37.8L242.2 39.2L236.3 41.5L226.3 44.5L216.2 47.3L208.8 48.9L201.2 50L193 50.7L185.5 50.9L178.8 50.6L173.5 49.8L169.8 48.7L168.8 48.2L167.5 47.1L166.8 46L166.7 45.2L166.8 44.2L167.2 43L168.5 41.5L171.2 39.6L174.7 37.8L179.5 35.8L185.5 33.9L192.2 32.1L199 30.7L205.8 29.6L212.5 28.8L219.2 28.3L226 28.2L232 28.4L237.2 28.9L241.8 29.8ZM64.7 53.5L66.7 51.2L68.6 49.8L71.3 48.2L73.8 47.3L76.1 46.8L79 46.5L82 46.7L84.2 47.3L86.5 48.3L88.5 49.8L89.9 51.2L91.2 53.5L92 55.8L92.3 58L92.1 60.2L91.6 62.5L90.6 64.8L88.8 67.3L86.5 68.9L84.2 69.9L81.2 70.3L78.2 70.2L74.5 69.5L71 68.5L67.8 67.1L65.5 65.7L64 64.1L63.1 62.5L62.6 60.2L62.7 58L63.4 55.8ZM-2 61.6L4.8 60.8L11.5 60.6L19.8 61.2L25 62.2L28.8 63.7L37.8 69.2L46.8 73.2L49 74.7L50.8 76.8L52.7 80.5L54.2 85.4L58.3 103L62.9 119.5L63.7 124L63.6 127L62.9 130L61.1 133.8L56.5 141.2L55.8 143.5L55.8 145L56.4 146.5L58.1 148.8L65.9 155.5L68.1 157.8L69 159.2L69.5 160.8L69.4 162.2L69.1 163L-2 163L-2 153.1L8.5 152.4L16.8 151.5L25 150.2L31.4 148.8L35.5 147.2L37.9 145.8L38.7 145L39.7 143.5L40 141.2L39.5 138.2L38.2 133L37.2 130L35.9 127L34.6 124.8L33.4 123.2L31.9 121.8L30 120.2L27.3 118.8L25 117.8L21.2 116.5L17.5 115.6L8.5 114.1L-2 113.3ZM238 84.2L239.5 84.8L240.4 85.8L240.9 87.2L241 88.8L240.5 90.2L239.5 91.7L238.8 92.2L237.2 92.5L235.8 92L235 91.2L234.3 89.5L234.2 88L234.7 86.5L235.7 85L237.2 84.2ZM153.1 120.2L153.3 119.5L154.6 118.8L157.7 118L161.5 117.7L165.2 117.7L168.3 118L170.5 118.8L171.1 119.5L170.6 120.2L168.8 121L166 121.6L163 121.9L160 121.9L157 121.6L154.2 121Z" fill="#FF5C5C" fill-rule="evenodd"/><path d="M231.1 36.2L230.9 37L229.4 38.5L226.9 40L223.5 41.5L219.2 43L214 44.5L205.8 46.1L201.2 46.6L196.8 46.9L192.2 46.8L188.5 46.5L185.5 46L183.3 45.2L182.2 44.5L181.7 43.8L181.5 43L181.8 42.2L183.1 40.8L185.4 39.2L188.7 37.8L193 36.3L196.8 35.3L202 34.1L206.5 33.4L215.5 32.6L220 32.6L223.8 32.9L226.3 33.2L229 34L230.3 34.8L231 35.5ZM71.4 54.2L73.3 52.8L76 51.7L77.5 51.6L79 51.6L81.2 52.3L83 53.5L83.7 54.2L84.5 55.8L85 57.2L85 58.8L84.4 61L83.5 62.3L82.5 63.2L81.2 64L79.8 64.5L78.2 64.6L76.8 64.5L75.2 64.2L73.8 63.6L72.2 62.6L71.3 61.8L70.7 61L70 59.5L69.8 58L70 56.5L70.8 55.1ZM-2 65.5L4 64.3L10.8 63.8L17.5 64.2L20.5 64.6L23.5 65.3L26.1 66.2L28.8 67.5L38.2 73L42.3 76L43.8 77.5L45.7 79.8L47.2 82L48.7 85L50.9 91L52.3 97L55.2 111.2L57.9 121.8L58.4 124.8L58.3 128.5L58 130L57.1 132.2L55 135.7L53.5 137.4L52 138.8L50.5 139.8L49 140.2L47.5 139.8L46 138.6L44.6 136.8L43.8 135.2L40.4 127L38.5 123.4L37.2 121.8L35.6 120.2L32.2 118L27.2 116L20.2 114.2L12.2 112.9L-2 111ZM65.2 160L64.7 161.5L63.5 163L7.5 163L2.5 162.1L-2 161L-2 156L4.6 154.8L22 152.3L30.2 151L36.6 149.5L46 146.3L48.2 146.1L49.8 146.5L52 147.6L56.5 150.6L61.1 154L62.7 155.5L64 157L64.9 158.5Z" fill="#FF3C3C" fill-rule="evenodd"/><path d="M-2 69.5L3.2 67.9L8.5 67.2L14.5 67.2L19.8 67.9L25 69.5L29.5 71.6L34.8 74.9L38.6 78.2L41.8 82L44 85.8L45.9 90.2L47.2 94.8L48.1 100.8L48.5 107.5L48.2 116.5L47.9 118.8L47.5 119.9L46.8 120.2L46 120L42.4 118L39.3 116.5L35.5 115.2L31.8 114.2L24.2 112.9L4 109.9L-2 108.7ZM61.1 159.2L60.5 160.8L59.7 161.5L58.6 162.2L56.9 163L31.7 163L21.8 162.2L14.5 161.3L11.7 160.8L9.2 160L7.8 159.2L7.2 158.5L7.6 157.8L8.9 157L11.1 156.2L14.3 155.5L32.5 152.4L42.2 150.5L46.8 150.1L49 150.2L51.2 150.7L53.5 151.6L56.5 153.2L58.5 154.8L60 156.2L60.9 157.8Z" fill="#FF2020" fill-rule="evenodd"/><path d="M-2 73.4L1.8 71.9L6.2 70.7L10.8 70.3L16 70.6L20.5 71.5L24.8 73L28.8 75L32.4 77.5L35.6 80.5L38.5 84.2L40.6 88L42 91.8L42.9 96.2L43 100.8L42.3 104.5L41.7 106L40.8 107.5L39.1 109L37.8 109.7L36.2 110.1L32.5 110.6L27.2 110.7L19 110.1L10 109L3.2 107.7L-2 106.1ZM56.7 158.5L56.4 159.2L55.7 160L53.5 161.1L50.5 161.7L46 161.9L39.1 161.5L25.7 160L22.4 159.2L21 158.5L21 157.8L22.1 157L24.4 156.2L27.6 155.5L40.8 153.1L43.8 152.7L46.8 152.7L50.5 153.2L52.7 154L54 154.8L55.9 156.2L56.7 157.8Z" fill="#FF0000" fill-rule="evenodd"/><path d="M192.8 32.6h0M207 32.6h0M221.2 32.6h0M235.5 32.6h0M7.5 90.5h0M21.8 90.5h0M14.6 97.8h0M28.9 97.8h0M93 148.5h0M107.2 148.5h0M121.5 148.5h0M135.8 148.5h0M14.6 155.7h0M28.9 155.7h0M43.1 155.7h0M85.9 155.7h0M100.1 155.7h0M114.4 155.7h0M128.6 155.7h0M142.9 155.7h0M157.1 155.7h0M107.2 90.5h0M7.5 134h0M100.1 39.9h0" stroke="#000" stroke-width="4.1" stroke-linecap="round" fill="none"/><use href="#c2"/></g>
<rect x="575.9" y="587.6" width="239.6" height="157.7" fill="none" stroke="#000" stroke-width="3.3"/>
<path d="M575.9 745.3V751.2M644.4 745.3V751.2M712.9 745.3V751.2M781.3 745.3V751.2" stroke="#000" stroke-width="2.8" stroke-linecap="round" fill="none"/>
<path d="M587.4 745.3V748.9M598.8 745.3V748.9M610.2 745.3V748.9M621.6 745.3V748.9M633 745.3V748.9M655.8 745.3V748.9M667.2 745.3V748.9M678.6 745.3V748.9M690 745.3V748.9M701.5 745.3V748.9M724.3 745.3V748.9M735.7 745.3V748.9M747.1 745.3V748.9M758.5 745.3V748.9M769.9 745.3V748.9M792.7 745.3V748.9M804.1 745.3V748.9M815.5 745.3V748.9" stroke="#000" stroke-opacity="0.3" stroke-width="0.7" fill="none"/>
<text x="575.9" y="771.6" font-size="18" text-anchor="middle">180</text>
<text x="644.4" y="771.6" font-size="18" text-anchor="middle">120W</text>
<text x="712.9" y="771.6" font-size="18" text-anchor="middle">60W</text>
<text x="781.3" y="771.6" font-size="18" text-anchor="middle">0</text>
<text x="574.6" y="580.7" font-size="20.2">(m) EqEN_IO</text>
<text x="816.6" y="584.3" font-size="18" text-anchor="end">U200</text>
<g transform="translate(829.9 586)" clip-path="url(#cp)"><rect x="0" y="0" width="242.9" height="161" fill="#3838FF"/><path d="M-2 -2L244.8 -2L244.8 131.5L237.2 131.4L229 131.8L220.8 132.5L211.8 133.6L195.2 136.4L167.5 142.4L157 144L151.8 144.4L146.5 144.4L141.2 144.1L132.2 143.3L129.2 143.3L127.8 143.8L127.1 144.2L126.6 145L126.2 146.5L126.4 148L127 149.5L127.9 151L129.2 152.5L132.3 154.8L136 156.4L141.2 157.7L146.5 158.5L154 159.3L166 159.9L177.2 160.2L187.8 160.2L197.5 159.7L207.2 158.9L217 157.6L226.8 155.9L235.8 154L244.8 151.5L244.8 163L-2 163L-2 122.4L4 123.7L10.4 124.8L17.5 125.6L25 126.4L40 127.1L64.8 127.6L75.2 128.4L85.8 130.2L109 135.5L115.8 136.5L118.8 136.3L120.2 135.5L121 134.6L121.7 133L122.1 131.5L122.4 129.2L122.5 126.2L122.3 122.5L121.3 118.8L119.8 115.8L118.7 114.2L117.2 112.7L114.2 110.4L109.9 108.2L105.2 106.6L99.2 105.2L92.5 104.1L83.5 103.2L49.8 101L36.2 100.4L25.8 100.3L15.2 100.7L6.2 101.4L-2 102.6Z" fill="#5858FF" fill-rule="evenodd"/><path d="M-2 -2L244.8 -2L244.8 128.8L237.2 129L229.8 129.4L214 131.1L199 133.5L172 138.7L162.2 140.1L154 140.7L150.2 140.7L146.5 140.4L142 139.7L137.5 138.4L134 136.8L131.5 134.9L129.8 133L128.3 130L127.4 127L125.4 118L124.2 115L122.9 112.8L120.9 110.5L117.8 108.2L114.2 106.5L109 104.8L104.7 103.8L100 102.9L89.5 101.6L43 98.9L30.2 98.5L18.2 98.6L7.8 99.1L-2 100ZM-2 125L10.8 126.9L25 128.2L37 128.8L61 129.4L70 129.9L77.5 130.8L85.8 132.4L92.5 134.2L99.2 136.3L104.3 138.2L108.8 140.5L111 142L113.4 144.2L115.1 146.5L118.7 151.8L121.3 154.8L124.8 157.4L128.5 159.2L133.8 160.9L140.5 162L148.8 162.7L160 163L-2 163ZM244.8 154.2L244.8 163L175 163L184.8 162.8L193.8 162.3L202.8 161.6L211.8 160.6L220 159.4L228.2 158L237.2 156.1Z" fill="#7474FF" fill-rule="evenodd"/><path d="M-2 -2L244.8 -2L244.8 126.1L231.2 127L216.2 128.6L203.5 130.6L177.2 135.2L165.2 136.9L156.2 137.7L152.5 137.7L148.8 137.5L144.2 136.7L140.5 135.4L137.3 133.8L134.5 131.3L132.5 128.5L131.3 125.5L130.5 122.5L128.8 113.5L128.1 111.2L127 108.8L125.5 106.8L124 105.5L121.8 104.3L118.8 103.3L114.2 102.3L108.2 101.4L94.8 99.9L83.5 99.1L48.2 97.3L33.2 96.8L20.5 96.7L8.5 96.9L-2 97.6ZM34.2 23.5L34.3 24.2L34.7 25L36.2 26.4L37.8 27.2L40.8 28.4L44.5 29.3L48.2 29.9L52 30.2L56.5 30.4L61 30.3L64.8 29.9L67.8 29.5L71.5 28.6L73.8 27.8L76 26.5L77.3 25L77.6 24.2L77.6 23.5L76.9 22L75.2 20.6L73.7 19.8L70.8 18.6L67.8 17.9L64 17.2L60.2 16.9L55.8 16.7L51.2 16.9L47.5 17.3L43.8 17.9L40.8 18.7L38 19.8L35.5 21.2L34.8 22.1L34.4 22.8ZM135.3 95.5L136 97L136.8 97.8L138.2 98.5L140.9 99.2L143.5 99.6L147.2 99.7L151 99.6L154.7 99.2L160 98.1L162.2 97.3L164.6 96.2L166 95.3L167.5 94L168.4 92.5L168.6 91L168.1 89.5L166.8 88L164.5 86.5L162.4 85.8L159.2 85L156.2 84.7L152.5 84.7L149.5 85L146.5 85.6L143.7 86.5L142 87.3L139.5 88.8L137.7 90.2L136 92.5L135.4 94ZM-2 127.5L9.2 128.8L22.8 129.9L37 130.6L60.2 131.3L67.8 131.8L77.5 133L86.5 135L91.8 136.6L95.9 138.2L100 140.2L103 142L105.8 144.2L107.9 146.5L113.5 154.5L116.4 157.8L118.2 159.2L120.4 160.8L122.5 161.8L125.4 163L-2 163ZM244.8 157L244.8 163L211.8 163L229 160.3Z" fill="#9090FF" fill-rule="evenodd"/><path d="M-2 -2L244.8 -2L244.8 123.2L232.8 124.2L220.8 125.6L209.5 127.3L180.2 132.2L170.5 133.5L160.9 134.5L154.8 134.8L149.5 134.5L145 133.6L141.7 132.2L139.4 130.8L137.1 128.5L135.7 126.2L134.6 123.2L134 119.5L134 115L134.4 112.8L134.9 111.2L136.2 109L138.2 107.3L139.8 106.5L142 105.8L145.8 105L159.2 103.1L163.8 102.1L167.8 100.8L171.3 99.2L175.1 97L177.6 94.8L179 92.5L179.3 90.2L178.9 88.8L177.5 86.5L175.8 85L173.4 83.5L169.8 82L166 81L161.5 80.2L156.2 79.9L150.2 80.1L145 80.7L141.2 81.7L137.5 83.4L133.8 85.8L129.8 88.8L124 93.6L121.8 95.1L120.2 95.9L118 96.8L113.5 97.6L109 97.8L102.2 97.7L28.8 94.9L12.2 94.8L-2 95.1ZM18 22.8L18.2 23.5L19 25L21.7 27.2L25.8 29.3L30.2 30.8L36.2 32.3L42.1 33.2L49 34L55.8 34.3L62.5 34.2L69.2 33.8L75.2 33L80.7 31.8L84.7 30.2L87.2 28.7L88.1 28L89.4 26.5L89.7 25.8L90 24.2L90 23.5L89.6 22L87.9 19.8L84.9 17.5L81.2 15.9L76.8 14.5L70.8 13.3L64.8 12.5L58 12.2L50.5 12.3L43.8 12.8L37.6 13.8L31 15.2L23.9 17.5L20.7 19L18.8 20.5L18.2 21.4ZM191.5 25.8L191.6 26.5L192.1 27.2L192.9 28L194.3 28.8L196.3 29.5L199.1 30.2L202.8 30.9L210.2 31.4L217.8 31.2L224.5 30.2L227.3 29.5L229.2 28.8L230.5 27.9L231.1 27.2L231.4 26.5L231.1 25.8L230.3 25L229 24.2L226 23.2L223.8 22.7L219.2 22L211.8 21.5L204.2 21.7L201.2 22L197.5 22.6L194.5 23.4L193 24.1L191.9 25ZM-2 130L7.8 130.8L19 131.5L55.8 133L64.8 133.6L74.5 134.7L79 135.6L83.6 136.8L88.2 138.2L92.5 140L96.1 142L99.3 144.2L101.7 146.5L103.5 148.8L108.7 157L110.3 159.2L112 161.1L114.2 163L-2 163ZM244.8 160.1L244.8 163L230.3 163Z" fill="#C0C0FF" fill-rule="evenodd"/><path d="M-2 -2L244.8 -2L244.8 26.4L244.4 25.8L243.7 25L241.2 23.5L237.2 22.1L233.8 21.2L229.7 20.5L223.8 19.7L211.8 19L205 19L199 19.3L193.2 19.8L188.2 20.5L185.1 21.2L182.5 22.2L180.7 23.5L180.2 24.2L179.9 25L180.2 26.5L181.4 28L182.3 28.8L184.7 30.2L187.8 31.5L191.5 32.7L196 33.6L201.2 34.3L206.5 34.7L213.2 34.8L220 34.5L226.2 34L232 33.2L237.2 32L241 30.7L243.2 29.4L244 28.8L244.8 27.6L244.8 119.7L221.5 122.8L185.5 128.8L176.5 129.9L163 131.3L156.2 131.8L151.8 131.7L148 131.1L144.2 129.7L142 128.2L140.2 126.2L139 124L138.3 121.8L138.2 118.8L138.7 116.5L139.8 114.2L141.7 112L144.1 110.5L147.2 109.3L151 108.5L160 107L164.5 106L169.8 104.5L175.8 102.2L181 99.8L185.5 97L188 94.8L189.2 93.2L190 91.8L190.4 90.2L190.5 88.8L189.9 86.5L188.3 84.2L185.4 82L181.2 79.8L176.5 78L171.2 76.7L166 75.9L159.2 75.4L149.5 75.5L143.5 76L139.8 76.7L137.5 77.6L135.2 78.9L125.5 86.1L121.8 88.6L118 90.7L115 92L112 93.1L108.2 93.9L104.5 94.4L96.2 94.8L82 94.7L65.5 94.3L24.2 92.9L-2 92.6ZM3.3 22L3.5 23.5L4.1 25L5.3 26.5L6.2 27.4L8.2 28.8L10 29.7L13.1 31L16 31.9L24.2 34L34 35.7L44.5 36.9L55.8 37.5L66.2 37.6L75.2 37.1L82.8 36.2L88.8 34.8L92.9 33.2L94.8 32.2L96.4 31L97.8 29.5L98.7 28L99.2 26.5L99.5 25L99.3 22.8L98.9 21.2L98.2 19.8L97 18L95.9 16.8L94 15.2L91.8 13.8L89.5 12.7L83.5 10.7L76 9.1L67.8 8.1L58.8 7.5L49 7.5L40 8.2L18.2 11.1L13.8 12L11.5 12.7L9.2 13.7L6.2 16L4.9 17.5L4 19L3.5 20.5ZM-2 132.5L46 134.5L58.8 135.1L65.5 135.7L70.8 136.4L75.2 137.2L79.8 138.3L85 140L89.3 142L93 144.2L95.7 146.5L97.8 148.8L99.8 151.8L105.3 163L-2 163Z" fill="#F0F0FF" fill-rule="evenodd"/><path d="M-2 -2L244.8 -2L244.8 19.9L233.5 18.2L221.5 17.2L208 16.8L193.8 17L182.5 17.7L178 18.2L175 18.8L172 19.8L170.7 20.5L170 21.2L169.4 22.8L169.7 24.2L171 26.5L173.2 28.8L176.4 31L180.2 33L184 34.5L188.5 35.8L193 36.8L197.5 37.5L202 38L212.5 38.3L230.5 37.9L244.8 36.9L244.8 115.2L237.2 116.7L220 119.8L198.1 124L188.7 125.5L181 126.4L157.8 128.3L154 128.4L151 128.1L148 127.2L146.2 126.2L144.5 124.8L143.6 123.2L143.1 121.8L143 120.2L143.3 118.8L144.5 116.5L145.8 115.3L147.3 114.2L149.5 113.3L151.8 112.7L160.8 111L165.2 110L174.2 107.1L183.3 103.8L190.6 100.8L195.3 98.5L198.8 96.2L201.4 94L206.2 88.8L213.4 82.8L214.8 81.2L215.7 79.8L216.1 78.2L216 77.5L215.6 76.8L214.9 76L212.5 75L209.7 74.5L205.8 74.4L197.5 74.9L193 74.7L189.2 74.2L173.5 71.3L168.2 70.6L163 70.2L153.2 70.3L147.2 70.7L142.8 71.2L138.2 72.3L134.5 74L131.6 76L126.6 80.5L123.7 82.8L119.5 85.3L115 87.6L110.5 89.3L106 90.5L101.5 91.4L96.2 91.9L84.2 92.4L66.2 92.3L-2 90.1L-2 33.2L5.5 34.9L15.2 36.6L27.2 38.2L39.2 39.4L52 40.3L64.8 40.8L76 40.9L84.2 40.5L90.2 39.8L94.8 38.9L99.2 37.4L102.2 35.7L104.5 33.7L105.3 32.5L106.1 31L106.9 28L107.1 24.2L106.8 19.9L106 16.8L104.9 14.5L103 12.2L100 10.1L96.2 8.3L91 6.4L84.2 4.5L73 2.3L62.5 0.9L51.2 0.2L40.8 0.1L18.2 1.4L12.2 2L8.5 2.7L5.5 3.5L2.5 4.5L-2 6.5ZM-2 135L27.2 135.5L51.2 136.6L59.5 137.2L66.2 138L71.8 139L76.8 140.2L82 142L85.8 143.8L89.5 146.3L92.1 148.8L94.2 151.8L95.7 154.8L96.7 158.5L97.3 163L-2 163Z" fill="#FFC0C0" fill-rule="evenodd"/><path d="M-2 87.4L-2 39.3L53.5 43.2L81.2 44.6L88.8 44.6L95.5 44.2L101.5 43.3L106 42L108.6 40.8L110.5 39.4L111.9 37.8L112.7 36.2L113.4 33.2L113.9 25L114.4 21.2L115.3 18.2L117.3 13.8L117.6 12.2L117.2 10.8L116 9.2L114.2 7.8L107.5 3.2L105.9 1.8L105.5 1L105.4 0.2L105.8 -0.5L106.9 -1.2L109 -2L176.4 -2L196 -0.3L212.5 1.5L229 3.7L244.8 6.5L244.8 15.6L227.5 14.8L213.2 14.5L169 14.5L163 14.7L159.2 15.1L156.4 16L155.7 16.8L155.6 17.5L155.8 18.2L157.3 20.5L162.4 25.8L166.7 29.5L170.5 32.2L174.2 34.4L178.3 36.2L183.2 38.1L190.8 40.2L198.2 41.5L206.5 42.2L223 42.6L231.2 43.1L238.8 44.4L242 45.2L244.8 46.3L244.8 62.5L239.5 65.1L233.5 67.4L229 68.6L224.5 69L196.8 69.2L191.5 68.8L185.5 68.2L159.2 64.5L154 64.1L149.5 64.3L146.5 64.7L142.8 65.8L138.2 67.5L134.5 69.4L130 72.5L124 78L121.9 79.8L118.8 81.9L115.8 83.4L112 85.1L107.5 86.7L103 87.8L98.5 88.7L91.8 89.5L83.5 90L73.8 90.2L61.8 90.2L30.2 89.2ZM244.8 80.2L244.8 109L242.5 110.1L238 111.8L232.8 113.2L218.5 116L200.2 120.2L189.2 122L184.8 122.5L179.5 122.8L165.2 122.3L156.2 122.7L154 122.4L152.8 121.8L152.3 121L152.3 120.2L152.9 119.5L154.8 118.4L161.5 116.8L164.5 115.9L179.4 109.8L187.8 106.8L199.9 103L202.8 101.9L205 100.8L207.2 99.2L208.8 97.7L213.6 90.2L217 86.5L224.5 80.1L226.8 78.5L229 77.3L231.2 76.6L232.8 76.4L234.2 76.4L236.5 76.6L238.8 77.2L241 78.1ZM-2 137.6L8.5 137.2L19 137.2L30.2 137.3L41.5 137.8L50.5 138.4L58.8 139.2L65.5 140.2L71.5 141.5L76.8 143.1L80.9 145L84.4 147.2L86.9 149.5L89.1 152.5L90.2 155.5L90.5 158.5L90.1 161.5L89.6 163L-2 163Z" fill="#FF9090" fill-rule="evenodd"/><path d="M144.5 4.8L145.1 4L147.8 3.2L154.8 2.6L166 2.5L178.8 3L190.5 4L202.6 5.5L207.2 6.2L213.8 7.8L215.8 8.5L216.6 9.2L215.6 10L210.8 10.8L205.8 11L193 11.2L179.1 10.8L163.8 9.4L152.6 7.8L146.6 6.2L145.1 5.5ZM237.4 54.2L237.2 55.3L236.7 56.5L235.2 58L233.5 59.2L231.6 60.2L227.5 61.8L222.2 63.2L217 64.2L210.2 64.9L203.5 65.3L193 65.2L181.8 64.2L168.2 62L147.2 57.5L143.5 57.1L140.2 57.2L139 57.6L137.5 58.6L134.1 63.2L132.2 65.5L121.8 75.7L119.6 77.5L117.2 79.1L112 81.8L106 83.9L100 85.5L92.5 86.7L85 87.5L75.2 88L64 88.2L51.2 88.1L37 87.6L22.8 86.9L10 86L-2 84.8L-2 43.5L12.2 43.5L30.2 44.2L50.5 45.5L82 48.2L91 48.7L97 48.7L103 48.4L109.8 47.8L115 47L118 46.3L119.5 45.6L120.8 44.5L121.6 43L121.8 41.5L121.8 40L120.4 32.5L120.1 29.5L120.3 26.5L120.6 25L121.3 23.5L122.9 21.2L124.8 19.9L127.8 18.6L130.8 18L134.5 18L139 18.6L142.8 19.6L147.2 21.3L150.2 22.9L153.2 24.7L164.2 32.5L168.9 35.5L174.8 38.5L181 40.9L190 43.5L198.2 45.2L205.8 46.1L221.5 47.1L225.2 47.5L228.8 48.2L232 49.2L235 50.8L236.4 52L237 52.8ZM244 88.8L244.8 90L244.8 100.2L242.8 103L240.1 105.2L238 106.5L235 107.7L232 108.5L228.2 109.2L223.8 109.5L218.5 109.4L215.2 109L213.6 108.2L213.3 107.5L213.5 106.8L215.1 102.2L217 95.5L218.2 92.5L219.6 90.2L220.9 88.8L222.4 87.2L224.5 85.7L226.8 84.4L229.8 83.3L232 83L235 83.1L238 83.9L240.2 85.1L242.5 86.9ZM203.7 111.2L203.6 112L202.6 112.8L199.1 114.2L196.3 115L191.5 115.6L190 115.4L188.9 115L188.9 114.2L189.8 113.5L191.4 112.8L193.8 112L196.9 111.2L199.8 110.9L202 110.9ZM-2 140L6.2 139.4L14.5 139L23.5 138.9L33.2 139.1L42.2 139.6L50.5 140.3L58 141.2L64 142.3L69 143.5L73.4 145L76.8 146.6L80.1 148.8L82.4 151L83.8 153.2L84.5 155.5L84.6 157L84.4 158.5L83.6 160.8L82.1 163L-2 163Z" fill="#FF5C5C" fill-rule="evenodd"/><path d="M127.2 28L127.9 26.5L129.2 25.1L130.8 24.3L132.2 23.8L134.5 23.4L136.8 23.4L139.8 23.8L142.8 24.5L146.2 25.8L149.5 27.4L153.2 29.6L164.5 37.1L169 39.5L174.2 41.8L183.2 44.9L193.8 47.7L201.2 49.2L214.8 51.2L218.2 52L220.3 52.8L221.6 53.5L222.3 54.2L222.6 55L222.4 55.8L221.8 56.5L220.9 57.2L219.5 58L217 59L213.2 60L205.8 61.3L196.8 61.9L188.5 61.8L179.5 60.9L170.5 59.4L161.5 57.2L154 54.7L146.5 51.6L140.5 48.4L136 45.2L133.8 43.1L131.6 40.8L130 38.5L128.6 36.2L127.6 34L127 31.8L126.9 29.5ZM-2 82.3L-2 46.8L6.2 46.4L16 46.3L25.8 46.5L37 47L58 48.6L89.5 52L108.2 53L112.8 53.4L118 54.4L120.2 55.2L122.5 56.4L124 57.6L125 58.8L125.9 60.2L126.3 61.8L126.2 63.2L125.8 64.8L125.1 66.2L123.7 68.5L119.8 73L118 74.7L115.8 76.4L111.2 78.9L106 81L100 82.7L93.2 84L85 85.1L74.5 85.8L61.8 86.2L48.2 86.1L34.8 85.6L21.2 84.8L9.2 83.7ZM237 89.5L238 90.4L239 91.8L239.6 93.2L239.9 94.8L239.8 96.2L239.3 97.8L238.4 99.2L237.2 100.5L235.8 101.6L234.2 102.4L232.1 103L230.5 103.2L228.2 103.1L226.8 102.8L225.7 102.2L224.5 101.3L223.6 100L223 98.5L222.9 97L223 95.5L223.4 94L224.1 92.5L226 90.2L228.4 88.8L231.2 88L232.8 88L234.2 88.2L235.8 88.8ZM-2 142.5L4.8 141.6L11.5 141.1L19 140.7L27.2 140.7L35.5 140.9L43.8 141.4L50.5 142.1L57.2 143.2L62.3 144.2L67 145.6L71 147.2L73.7 148.8L75.7 150.2L77.6 152.5L78.6 154.8L78.8 157L78.4 158.5L77.6 160L76.4 161.5L74.8 163L-2 163Z" fill="#FF3C3C" fill-rule="evenodd"/><path d="M136.3 31.8L136.7 31L137.5 30.4L139 29.9L140.5 29.8L142 30L145 30.8L148.8 32.6L157.8 38.3L163 41L171.2 44.3L190 50.5L196.1 52.8L198.9 54.2L199.6 55L199.6 55.8L198.8 56.5L197 57.2L193.8 57.9L188.5 58.3L183.2 58.1L177.2 57.5L171.7 56.5L166 55L161.5 53.5L156.4 51.2L152.3 49L147.8 46L143.1 42.2L139.9 39.2L137.4 36.2L136.3 34L136.1 32.5ZM-2 49.8L7 49L17.5 48.7L28.8 48.8L40.8 49.4L59.5 51.1L87.2 54.7L103.8 56.5L108.2 57.2L111.2 58L113.6 58.8L115.8 59.8L117.4 61L118.7 62.5L119.3 64L119.4 65.5L119 67L118.4 68.5L116.5 71.2L113.8 73.8L110.3 76L106 78L100.8 79.7L94.8 81.2L88.8 82.2L80.5 83.2L71.5 83.8L61 84.2L50.5 84.2L40 84L29.5 83.5L19.8 82.7L10 81.6L-2 79.7ZM-2 144.9L4 143.8L10 143.1L16.8 142.6L23.5 142.4L31 142.4L37.8 142.7L44.5 143.3L51.2 144.2L56.5 145.2L61.4 146.5L65.4 148L68.3 149.5L70.3 151L72.3 153.2L72.9 154.8L72.9 157L72.4 158.5L71.3 160L69.7 161.5L67.5 163L-2 163Z" fill="#FF2020" fill-rule="evenodd"/><path d="M-2 52.6L4.8 51.7L11.5 51.2L19 50.9L27.2 50.9L35.5 51.2L44.5 51.8L53.5 52.6L62.5 53.7L95.5 58.6L100.4 59.5L104.5 60.5L108.2 61.8L110.7 63.2L111.5 64L112.4 65.5L112.6 66.2L112.6 67.8L111.6 70L109.5 72.2L107.4 73.8L103.8 75.6L99.2 77.3L94.8 78.6L89.5 79.6L83.5 80.6L76 81.3L67.8 81.9L58.8 82.2L49 82.3L40 82.1L31 81.7L22.8 81L14.5 80.1L5.5 78.7L-2 77.1ZM-2 147.5L2.5 146.3L7.8 145.4L13 144.7L19 144.2L25 144.1L31.8 144.1L37.8 144.4L43.8 145L49 145.8L54.2 147L57.8 148L61.5 149.5L64 151L65.8 152.5L66.8 154L67.1 154.8L67.2 156.2L66.7 157.8L66.3 158.5L64.9 160L62.9 161.5L60 163L-2 163Z" fill="#FF0000" fill-rule="evenodd"/><path d="M36.9 18.1h0M51.1 18.1h0M65.4 18.1h0M193.6 18.1h0M44 25.4h0M58.3 25.4h0M143.8 25.4h0M158 25.4h0M200.8 25.4h0M36.9 32.6h0M51.1 32.6h0M65.4 32.6h0M136.6 32.6h0M150.9 32.6h0M165.1 32.6h0M44 39.9h0M143.8 39.9h0M158 39.9h0M172.3 39.9h0M150.9 47.1h0M165.1 47.1h0M179.4 47.1h0M15.5 54.3h0M29.8 54.3h0M158 54.3h0M172.3 54.3h0M186.5 54.3h0M8.4 61.6h0M22.6 61.6h0M36.9 61.6h0M51.1 61.6h0M65.4 61.6h0M79.6 61.6h0M93.9 61.6h0M15.5 68.8h0M29.8 68.8h0M44 68.8h0M58.3 68.8h0M72.5 68.8h0M86.8 68.8h0M8.4 76.1h0M22.6 76.1h0M36.9 76.1h0M51.1 76.1h0M65.4 76.1h0M79.6 76.1h0M93.9 76.1h0M15.5 83.3h0M29.8 83.3h0M44 83.3h0M58.3 83.3h0M72.5 83.3h0M136.6 90.5h0M150.9 90.5h0M15.5 97.8h0M29.8 97.8h0M44 97.8h0M58.3 97.8h0M72.5 97.8h0M143.8 97.8h0M158 97.8h0M8.4 105h0M22.6 105h0M36.9 105h0M51.1 105h0M65.4 105h0M79.6 105h0M93.9 105h0M122.4 105h0M15.5 112.3h0M29.8 112.3h0M44 112.3h0M58.3 112.3h0M72.5 112.3h0M86.8 112.3h0M101 112.3h0M115.3 112.3h0M8.4 119.5h0M22.6 119.5h0M36.9 119.5h0M51.1 119.5h0M65.4 119.5h0M79.6 119.5h0M93.9 119.5h0M15.5 126.7h0M29.8 126.7h0M44 126.7h0M58.3 126.7h0M72.5 126.7h0M86.8 126.7h0M101 126.7h0M215 126.7h0M229.3 126.7h0M36.9 134h0M51.1 134h0M65.4 134h0M79.6 134h0M93.9 134h0M108.1 134h0M207.9 134h0M222.1 134h0M236.4 134h0M15.5 141.2h0M29.8 141.2h0M44 141.2h0M101 141.2h0M115.3 141.2h0M186.5 141.2h0M200.8 141.2h0M215 141.2h0M229.3 141.2h0M8.4 148.5h0M22.6 148.5h0M36.9 148.5h0M51.1 148.5h0M165.1 148.5h0M179.4 148.5h0M193.6 148.5h0M207.9 148.5h0M222.1 148.5h0M236.4 148.5h0M15.5 155.7h0M29.8 155.7h0M44 155.7h0M58.3 155.7h0M158 155.7h0M172.3 155.7h0M186.5 155.7h0M200.8 155.7h0M215 155.7h0M229.3 155.7h0" stroke="#000" stroke-width="4.1" stroke-linecap="round" fill="none"/><use href="#c2"/></g>
<rect x="831.5" y="587.6" width="239.6" height="157.7" fill="none" stroke="#000" stroke-width="3.3"/>
<path d="M831.5 745.3V751.2M900 745.3V751.2M968.5 745.3V751.2M1036.9 745.3V751.2" stroke="#000" stroke-width="2.8" stroke-linecap="round" fill="none"/>
<path d="M843 745.3V748.9M854.4 745.3V748.9M865.8 745.3V748.9M877.2 745.3V748.9M888.6 745.3V748.9M911.4 745.3V748.9M922.8 745.3V748.9M934.2 745.3V748.9M945.6 745.3V748.9M957.1 745.3V748.9M979.9 745.3V748.9M991.3 745.3V748.9M1002.7 745.3V748.9M1014.1 745.3V748.9M1025.5 745.3V748.9M1048.3 745.3V748.9M1059.7 745.3V748.9M1071.1 745.3V748.9" stroke="#000" stroke-opacity="0.3" stroke-width="0.7" fill="none"/>
<text x="831.5" y="771.6" font-size="18" text-anchor="middle">180</text>
<text x="900" y="771.6" font-size="18" text-anchor="middle">120W</text>
<text x="968.5" y="771.6" font-size="18" text-anchor="middle">60W</text>
<text x="1036.9" y="771.6" font-size="18" text-anchor="middle">0</text>
<text x="830.2" y="580.7" font-size="20.2">(n) SGLN</text>
<text x="1072.2" y="584.3" font-size="18" text-anchor="end">U200</text>
<g transform="translate(1085.5 586)" clip-path="url(#cp)"><rect x="0" y="0" width="242.9" height="161" fill="#5858FF"/><path d="M-2 -2L244.8 -2L244.8 163L-2 163ZM65.2 104.5L64.8 104L64 103.9L62 104.5L59.1 106L55.8 108.2L53.1 110.5L51 112.8L49.7 115L49.8 116L50.5 116.6L51.2 116.7L52.8 116.5L55.8 115.3L58.6 113.5L61.3 111.2L63.3 109L64.8 106.8L65.3 105.2ZM188.2 149.5L188.5 149.9L189.2 150.2L191.5 150.2L194.3 149.5L194 148.8L192.2 148.6L190.5 148.8Z" fill="#7474FF" fill-rule="evenodd"/><path d="M-2 -2L244.8 -2L244.8 163L-2 163ZM6.2 66.4L4 66.9L2.5 67.7L1.7 68.5L0.2 70.8L-0.3 72.2L-0.5 73.8L-0.5 75.2L-0.1 76.8L1 79L1.8 79.8L3.2 80.8L5.5 81.3L7 81.2L8.5 80.7L10 79.8L10.8 79L12.3 76.8L12.7 75.2L12.9 73.8L12.8 72.2L12.4 70.8L11 68.5L9.1 67L7.8 66.5ZM85 87.5L83.7 86.5L82 85.9L80.5 85.8L78.2 86.1L76 86.7L73.8 87.7L71.5 89L68.8 91L59.4 99.2L48.7 108.2L43.3 113.5L40.9 116.5L39.1 119.5L38.5 121.8L38.6 122.5L39.2 123.7L40.8 124.6L43 124.9L46 124.6L49.8 123.5L53.5 122L56.8 120.2L60.4 118L64.5 115L68 112L71.1 109L84 94.8L85.4 92.5L85.8 91L85.8 89ZM120.9 91L120.2 90.5L119.6 90.2L117.2 90.3L114.7 91L113.5 91.8L113.3 92.5L115 93.2L117.2 93.1L119.3 92.5L120.6 91.8ZM166.1 151.8L166.3 152.5L167 153.2L168.1 154L170 154.8L173.5 155.5L177.2 155.9L181.8 156.1L191.5 155.7L200.5 154.5L205 153.6L209.3 152.5L211.8 151.7L214.9 150.2L217 148.8L217.6 148L217.8 147.2L217.7 146.5L217.1 145.8L215.9 145L214 144.2L210.6 143.5L206.5 143L202 142.8L192.2 143.3L182.5 144.6L178 145.5L174.1 146.5L171.2 147.5L168.6 148.8L166.7 150.2L166.3 151Z" fill="#9090FF" fill-rule="evenodd"/><path d="M-2 -2L244.8 -2L244.8 163L-2 163L-2 82.3L0.2 84.1L1.8 84.9L3.2 85.3L4.8 85.4L7 85.3L10 84.2L11.5 83.4L13 82.1L15 79.8L16.5 76.8L16.9 75.2L17.1 73L16.7 70L16.2 68.5L15.2 66.6L14.4 65.5L13 64.1L11.5 63L10 62.3L8.3 61.8L6.2 61.5L3.2 62L1.8 62.6L0.2 63.5L-2 65.8ZM133.7 88L133.2 87.2L132.3 86.5L130.6 85.8L127.8 85.2L124 84.9L117.2 85.3L104.5 87.3L100.8 87.4L99.2 87.2L97.8 86.6L96.2 85.6L93.8 83.5L91.8 82L90.2 81.2L88 80.6L85 80.3L82 80.5L79 81L76 82L73 83.3L70.8 84.5L65.9 88L62.6 91L54.2 99.2L39.3 112.8L35.1 117.2L32.4 121L31 124L30.7 125.5L30.9 127L31.8 128.3L33.2 129.2L34.8 129.7L37 130L40 129.9L43 129.4L46.6 128.5L49.8 127.4L53.5 125.9L57.2 124L61 121.8L64.5 119.5L71.3 114.2L83.5 103.6L86.5 101.4L89.5 99.7L92.5 98.6L95.5 98L98.5 98.1L105.2 98.8L109.8 99L115 98.5L120.2 97.4L125.9 95.5L130.2 93.2L132.1 91.8L133.3 90.2L133.8 88.8ZM231.9 145.8L231.7 145L231.2 144.2L230.4 143.5L228.2 142.3L224.5 141.1L219.2 140.2L213.2 139.7L206.5 139.5L199 139.8L190.8 140.4L182.5 141.4L174.2 142.7L168.2 144L163 145.5L159.2 147.2L157 148.8L156.2 149.5L155.1 151L154.6 152.5L154.7 153.2L154.9 154L155.5 154.9L156.2 155.6L157.8 156.5L160.9 157.8L166 158.8L171.2 159.3L178 159.6L185.5 159.4L193 158.8L201.2 157.9L208.8 156.6L215.5 155L221.5 153.2L226 151.4L229.4 149.5L231.1 148L231.6 147.2ZM200.1 69.2L200 70L200.7 71.5L202.3 73L204.8 74.5L207.2 75.5L210.2 76.5L215.5 77.3L218.5 77.3L220.8 77.1L223 76.8L225.5 76L227.5 74.9L228.9 73.8L229.5 73L229.9 71.5L229.8 70.5L229.1 69.2L227.5 67.8L226.1 67L224.2 66.2L221.5 65.5L217 64.9L211 65L205.8 65.8L204.1 66.2L202 67.2L200.5 68.4Z" fill="#C0C0FF" fill-rule="evenodd"/><path d="M-2 -2L244.8 -2L244.8 65.7L243.2 64.2L241.8 63.2L239.2 61.8L236.5 60.6L233.5 59.7L229.8 58.8L222.2 57.6L214.8 57L205 56.7L173.5 57.2L169 56.9L159.2 55.6L155.5 55.4L152.5 55.5L150.2 55.8L147.8 56.5L145.8 57.5L144 58.8L142.7 60.2L142 61.8L141.9 63.2L142.1 64.8L142.6 66.2L143.5 68.1L145 70.3L148 73.6L149.5 74.7L151 75.4L152.5 75.8L154.8 76.1L167.5 76L172 76.2L175.8 76.7L184 78.4L200.5 82.8L205 83.8L209.5 84.4L215.5 84.8L220.8 84.8L226 84.2L230.5 83.3L234.8 82L238.8 80.2L241.9 78.2L243.6 76.8L244.8 75.5L244.8 141.3L241.8 139.8L237.2 138.2L231.2 137.1L224.5 136.5L217 136.2L207.2 136.4L196 136.9L178.8 138L172.8 138.2L169 137.9L161.5 136.6L143.5 135.7L137.5 135L128.5 133.6L126.2 133.4L124 133.5L122.9 133.8L122 134.5L122 135.2L122.2 136L123.3 137.5L124.7 139L126.5 140.5L127.8 141.2L129.4 142L132.2 142.9L142.8 144.7L144.2 145.1L145.8 145.8L146.4 146.5L146.6 147.2L146.6 148L145 152.5L144.8 154.8L145.2 156.2L145.6 157L147.2 158.6L150.2 160.2L154.8 161.5L160.8 162.5L167.2 163L-2 163L-2 87.6L-0.5 88.2L1.8 88.8L3.2 89L5.5 89L9.2 88.1L11.2 87.2L13 86.2L16.2 83.5L17.5 82L19 79.8L20.6 76L21.1 72.2L21 70L20.7 68.5L19.9 66.2L19.1 64.8L18 63.2L16.6 61.8L14.9 60.2L13 59.1L9.2 57.6L5.5 57.1L3.2 57.2L1.8 57.6L-0.5 58.5L-2 59.4ZM5.5 10.8L6.1 11.5L9 12.2L16.8 12.9L28 13.1L41.5 12.7L57.2 11.6L69.2 10.1L73.6 9.2L76.5 8.5L78.3 7.8L78.9 7L77.9 6.2L75.2 5.7L67.8 5.1L56.5 4.9L42.2 5.4L29.5 6.3L16.3 7.8L8.5 9.2L6.3 10ZM143.9 83.5L143.4 82.8L142.8 82.3L141.2 81.6L139.4 81.2L136.8 81L128.5 81.1L112.8 81.9L107.5 81.7L103.8 80.8L97.9 78.2L95.5 77.4L92.5 76.7L89.5 76.4L85.8 76.4L81.2 76.8L77.5 77.6L73.8 78.9L70.8 80.2L67.8 81.9L65.5 83.5L62.7 85.8L59.5 88.9L52.6 96.2L48.9 100L34.9 112.8L30.2 117.2L26.2 121.8L23.8 125.5L23.3 127L23 128.5L23.1 130L23.4 130.8L24.6 132.2L26.5 133.3L29.5 134.1L33.2 134.3L37.8 133.9L42.2 133L47.5 131.6L52 130L58.8 127L64.8 123.7L71.1 119.5L84.2 110.1L87.2 108.2L90.2 106.7L92.5 105.9L95.5 105.2L107.5 104.2L115 102.8L120.2 101.3L124.8 99.8L129.2 98L132.9 96.2L138 93.2L139.9 91.8L142.2 89.5L143.2 88L143.9 86.5L144.2 85ZM244.8 148.5L244.8 163L182.4 163L191.5 162.4L202 161.3L211.8 159.8L220.8 158L229 155.8L235.8 153.5L241.1 151L243.5 149.5Z" fill="#F0F0FF" fill-rule="evenodd"/><path d="M-2 163L-2 92.4L0.2 92.7L2.5 92.8L7 92.2L9.2 91.5L11.5 90.6L13.8 89.4L16 87.9L18.2 86.1L20.1 84.2L22 82L23.5 79.8L24.7 77.5L25.7 75.2L26.3 73L26.5 70.8L26.4 68.5L26 67L25.4 65.5L24.1 63.2L22.2 61L20.6 59.5L16.6 56.5L12.2 54.2L10 53.4L7 52.6L2.5 52.2L0.2 52.4L-2 52.8L-2 16L13 16.6L37.8 17L44 17.5L42.9 18.2L34.8 20.3L30.2 21.8L28.7 22.8L28.8 23.5L31 24.2L37 24.7L43.8 24.7L51.2 24.2L64.3 22.8L85.1 19.8L97.6 17.5L103.4 16L104.8 15.2L103.8 14.5L95.5 13.5L93.2 13L94 12.2L103 9.4L107.3 7.8L109.8 6.2L110.2 5.5L109.9 4.8L108.2 3.8L105.2 3L100.8 2.4L88.8 1.5L72.2 1.2L55 1.5L36.2 2.3L16.8 3.7L-2 5.7L-2 -2L244.8 -2L244.8 52.6L235.8 51.6L225.2 50.8L202.8 49.8L175 48.9L155.5 47.2L151.8 47.2L148 47.5L145 48.1L141.2 49.1L136.8 50.8L132.8 52.8L130.7 54.2L130 55L129.1 56.5L128.8 58L129.1 60.2L129.9 62.5L132.3 67.8L133.2 70.8L133.1 72.2L132.9 73L131.9 74.5L130.8 75.2L128.5 76.2L124.8 77.1L120.2 77.5L115.8 77.5L112.8 77.3L109.8 76.7L101.4 74.5L97 73.6L92.5 73.1L87.2 73L81.2 73.4L76 74.2L71.5 75.3L67.6 76.8L64 78.7L60.2 81.7L57.2 84.8L49.2 94.8L44.3 100L37.1 106.8L20.4 121L17.4 124L15 127L13.8 129.2L13.4 131.5L13.8 133L14.2 133.8L15.9 135.2L19 136.7L22.8 137.5L27.2 138L32.5 137.8L37 137.3L42.2 136.2L48.2 134.6L54.2 132.6L63.1 129.2L77.5 122.4L82.8 120.4L85 119.9L87.2 119.7L89.5 119.9L91.8 120.4L100 123.4L103 124.8L104.2 125.5L105.2 126.6L107.1 130L108.9 132.2L110.6 133.8L116.5 138.1L121.9 142.8L125.5 144.5L133.5 147.2L135.2 148.4L136 149.5L136.1 151L134.6 156.2L134.5 158.5L135.1 160.8L136 162.1L136.9 163ZM115.2 123.2L115.7 121.8L118 118.3L118.9 116.5L120.7 110.5L121.4 109L122.4 107.5L124 106L126.1 104.5L128.7 103L138.2 98.1L143 95.5L154.8 87.8L157.8 86.3L161.5 85.1L165.2 84.3L169 84.1L172.8 84.1L177.2 84.7L184.8 86.4L197.5 90.6L202 91.9L207.2 92.9L212.5 93.4L220 93.3L228.2 92.6L236.5 91.2L244.8 89.2L244.8 132.1L238.8 131.7L232.8 131.7L211 132.6L203.5 132.7L197.5 132.5L187.8 131.7L183.2 131.6L151.8 132.9L145 132.9L140.5 132.4L136.1 131.5L123.8 127.8L117.4 125.5L116.1 124.8L115.4 124ZM244.8 158L244.8 163L224.3 163L235.8 160.5Z" fill="#FFC0C0" fill-rule="evenodd"/><path d="M244.8 -1.4L244.8 41.6L237.2 42.8L230.5 43.6L224.5 44L218.5 44L180.2 41.1L157 38.5L149.5 38.3L145.8 38.5L141.2 39L127 41.5L110.5 44L107.5 45L106.3 46L106 46.8L106.4 48.2L108.3 50.5L115.8 57.3L119.4 61L121.7 64L122.5 65.5L123.1 67L123.2 68.5L123.1 69.2L122.5 70.4L121.1 71.5L118.8 72.3L115.8 72.5L112.8 72.4L100 70.6L92.5 70L85.8 70.1L70 71L62.5 71.2L55.8 71L49.8 70.2L44.5 68.7L38.5 66L33.2 62.9L20.7 54.2L14.5 50.8L10.8 49.2L7 47.9L-2 45.7L-2 23.2L-0.9 25L0.4 25.8L3.7 26.5L10.3 27.2L25.8 28.4L49.8 29.8L57.2 29.9L62.5 29.7L67 29L83.2 25.8L96.3 23.5L145.8 16.1L156.2 14.2L164.4 12.2L171.6 10L174.9 8.5L176.1 7.8L176.9 7L177.3 6.2L177.3 5.5L176.7 3.2L176.8 2.5L177.3 1.8L178.2 1L180.2 -0.1L185.1 -2L243 -2ZM47 78.2L47.6 79L48.2 80.4L48.5 82.8L48 85.8L46.9 88.8L45.4 91.8L43 95.5L39.8 99.2L36.1 103L31 107.4L25.8 111.3L20.5 114.8L15.2 117.8L10 120.3L5.5 122L1.8 122.9L-2 123.2L-2 98.2L2.5 97.4L7 96.3L10.8 94.9L14.5 93L17.5 91.1L20.7 88.8L31.8 79.4L34 78L36.2 76.9L39.2 76.1L42.2 76.1L43.8 76.4L45.2 77ZM132 117.2L132.4 113.5L133.3 110.5L134.1 109L135.2 107.5L137.6 105.2L142 102.2L156.2 93.8L161.5 91.6L166 90.5L170.5 90.1L175 90.5L179.5 91.5L183.2 93L186.7 94.8L189.9 97L192.5 99.2L196.8 103.9L198.2 105.1L199.9 106L202 106.5L205 106.6L208.8 106.2L229.8 101.9L238 100.7L244.8 99.9L244.8 118.1L238 121.3L232 123.7L226.8 125.2L221.5 126.2L217 126.8L211.8 127.1L197.5 127L191.5 127.2L174.2 128.9L166 129.4L154 129.6L147.2 129.4L143.5 128.8L140.5 128L138.1 127L135.6 125.5L134 124L133 122.5L132.3 120.2ZM125.9 151.8L125.9 152.5L125.4 154L123.2 157.2L120.2 160.4L116.9 163L3.3 163L-2 161.6L-2 139.3L4.8 139.5L23.5 141.2L28 141.3L31.8 141.1L36.2 140.5L41.5 139.4L63.2 133.8L71.5 132.1L79 131.2L85.8 131.4L91 132.1L97 133.5L103 135.5L107.5 137.5L111.1 139.8L112.7 141.2L115 144.1L116.1 145L118 146.2L122.5 148.2L124.7 149.5L125.4 150.2L125.8 151Z" fill="#FF9090" fill-rule="evenodd"/><path d="M184.7 23.5L185.4 22L187.6 19.8L191 17.5L194.5 15.9L199 14.4L205 13L210.2 12.3L214.8 12.1L219.2 12.3L223.8 13L227.5 14L230.6 15.2L233.5 17L235.7 19L237.1 21.2L237.6 23.5L237 25.8L236.1 27.2L231.2 31.8L230.8 32.5L230.8 33.2L231.2 35.5L231.2 36.2L230.9 37L230.3 37.8L229.2 38.5L226.8 39.4L224.5 39.9L221.5 40L218.5 39.9L215.4 39.2L213.2 38.5L211.8 37.8L208 35.1L206.5 34.4L204.2 33.7L195.5 31.8L190 29.9L187.8 28.8L185.9 27.2L184.9 25.8L184.7 25ZM-2 33.6L0.4 32.5L3.9 31.8L8.5 31.3L13 31.3L19 31.5L24.2 32.1L29.5 32.9L34.8 34.2L42.2 36.5L68.4 45.2L91.8 52.4L98.5 54.8L103.9 57.2L108.2 60L109.4 61L110.8 62.5L111.5 64L111.5 64.8L111.2 65.5L110.1 66.2L109 66.6L106.8 66.9L92.5 66.8L74.5 67.3L69.2 67.1L63.2 66.4L57.2 65.3L51.2 63.8L42.2 60.9L34.8 57.6L29.5 54.8L16.8 47.1L1.1 39.2L-2 37ZM35.1 91.8L35.4 93.2L35.2 94.8L34.6 96.2L33.1 98.5L31.2 100.8L28.8 103L25.8 105.2L23.3 106.8L20.5 108.2L17.5 109.4L14.5 110.2L12.2 110.5L10 110.5L7.8 110.1L6.2 109.3L5.3 108.2L5.1 107.5L5.2 106L6.1 104.5L7.7 103L10.9 100.8L24.2 92.5L28 90.7L31 90L32.5 90L33.5 90.2L34.6 91ZM144 115L144.3 112.8L145 111.2L146.1 109.8L148.9 106.8L153.3 103L157.5 100L160.8 98.2L164.5 96.7L168.2 96L172 96L175 96.5L178 97.6L180.9 99.2L182.7 100.8L184.8 103.2L186 105.2L188.5 110.5L189.6 112L191.5 113.4L193.8 114.1L196.8 114.2L200.5 113.6L219.2 108.7L229 106.7L233.5 106.1L238 105.8L241.8 105.7L244.8 105.9L244.8 113.1L242.7 114.2L235.8 117.4L228.2 120.1L220 122.1L212.5 123.1L206.5 123.4L192.2 123.7L187 124.3L178 125.5L172 126.1L166.8 126.1L162.2 125.8L158.5 125.2L154.8 124.2L151.8 123.1L148.8 121.6L146.7 120.2L145.3 118.8L144.4 117.2ZM113.7 153.2L113 154.8L112 155.8L110.4 157L107.6 158.5L104.5 159.7L101.5 160.7L94.8 162.1L88.5 163L56.2 163L35.5 160.4L29.5 159.3L24.2 158L14.5 154.6L8.5 152.1L5.9 150.2L5.2 149.5L4.9 148.8L4.9 148L5.5 147L7 145.9L8.5 145.4L10.8 144.9L15.2 144.6L26.5 144.8L31.8 144.5L38.5 143.4L54.2 139.7L63.2 138.1L73 137.3L83.5 137.3L89.5 137.8L94 138.4L97.8 139.2L101.4 140.5L103 141.5L104.2 142.8L105.7 145.8L107 147.2L112.8 151.2L113.7 152.5Z" fill="#FF5C5C" fill-rule="evenodd"/><path d="M21.8 40.8L22.2 40L24.2 39.4L26.5 39.4L30.2 39.8L38.5 41.6L54.2 45.8L69.9 50.5L82.5 55L86 56.5L88.9 58L90.8 59.5L91.1 60.2L90.8 61L89.6 61.8L87.2 62.5L82 63.4L75.2 63.8L70.8 63.7L65.5 63.2L60.2 62.3L54.2 60.8L49 59.1L44.1 57.2L39.3 55L35.3 52.8L29.7 49L25.2 45.2L22.3 42.2L21.9 41.5ZM161.4 106.8L163 105.3L164.5 104.3L166 103.6L168.2 103L170.5 103L172 103.2L173.5 103.7L175 104.5L175.9 105.2L177.2 106.8L178 108.2L178.4 109.8L178.7 111.2L178.7 113.5L178.3 115.8L177.7 117.2L176.5 118.6L175 119.4L173.5 119.8L171.2 120L169 119.8L166.8 119.3L164.5 118.5L162.2 117.3L160.8 116.1L159.8 115L159.2 114L158.9 112.8L158.9 111.2L159.4 109.8L160.2 108.2ZM234.5 112L234.4 112.8L233.7 113.5L231.4 115L228 116.5L222.2 118.2L217 119.1L212.5 119.4L210.2 119.3L208 118.8L207.5 118L207.9 117.2L208.9 116.5L211.9 115L216 113.5L221.6 112L226 111.2L230.5 110.9L233.5 111.2ZM94.8 153.2L94.6 154L93.8 154.8L92.5 155.5L90.4 156.2L87 157L82.8 157.6L78.2 157.8L67 157.8L52.8 156.9L47.5 156.2L43.3 155.5L40 154.6L37.1 153.2L36.1 152.5L35.6 151.8L35.5 151L35.9 150.2L36.8 149.5L39.8 148L46.4 145.8L53.5 143.9L59.5 142.9L65.5 142.2L71.5 141.9L77.5 141.9L82 142.2L85.8 142.7L88.8 143.4L90.7 144.2L91.8 145L92.8 146.5L94.8 152.5Z" fill="#FF3C3C" fill-rule="evenodd"/><path d="M48.6 52L49.4 51.2L51.2 51L54.2 51.2L58.3 52L63.5 53.5L67.2 55L69.5 56.5L69.9 57.2L69.2 58.1L67.8 58.4L66.2 58.5L62.5 58.3L58.8 57.5L55.4 56.5L51.9 55L49.6 53.5L48.8 52.8Z" fill="#FF2020" fill-rule="evenodd"/><use href="#c2"/></g>
<rect x="1087.2" y="587.6" width="239.6" height="157.7" fill="none" stroke="#000" stroke-width="3.3"/>
<path d="M1087.2 745.3V751.2M1155.6 745.3V751.2M1224.1 745.3V751.2M1292.5 745.3V751.2" stroke="#000" stroke-width="2.8" stroke-linecap="round" fill="none"/>
<path d="M1098.6 745.3V748.9M1110 745.3V748.9M1121.4 745.3V748.9M1132.8 745.3V748.9M1144.2 745.3V748.9M1167 745.3V748.9M1178.4 745.3V748.9M1189.8 745.3V748.9M1201.2 745.3V748.9M1212.7 745.3V748.9M1235.5 745.3V748.9M1246.9 745.3V748.9M1258.3 745.3V748.9M1269.7 745.3V748.9M1281.1 745.3V748.9M1303.9 745.3V748.9M1315.3 745.3V748.9M1326.8 745.3V748.9" stroke="#000" stroke-opacity="0.3" stroke-width="0.7" fill="none"/>
<text x="1087.2" y="771.6" font-size="18" text-anchor="middle">180</text>
<text x="1155.6" y="771.6" font-size="18" text-anchor="middle">120W</text>
<text x="1224.1" y="771.6" font-size="18" text-anchor="middle">60W</text>
<text x="1292.5" y="771.6" font-size="18" text-anchor="middle">0</text>
<text x="1085.8" y="580.7" font-size="20.2">(o) EqLN</text>
<text x="1327.8" y="584.3" font-size="18" text-anchor="end">U200</text>
<rect x="81.6" y="238.5" width="96.4" height="14.4" fill="#FF0000"/>
<rect x="177.7" y="238.5" width="95.5" height="14.4" fill="#FF3A3A"/>
<rect x="272.9" y="238.5" width="95.5" height="14.4" fill="#FF5C5C"/>
<rect x="368.1" y="238.5" width="95.5" height="14.4" fill="#FF9090"/>
<rect x="463.3" y="238.5" width="95.5" height="14.4" fill="#FFBDBD"/>
<rect x="558.5" y="238.5" width="95.5" height="14.4" fill="#FFEDED"/>
<rect x="653.7" y="238.5" width="95.5" height="14.4" fill="#EDFFF2"/>
<rect x="748.9" y="238.5" width="95.5" height="14.4" fill="#A0FFC0"/>
<rect x="844.1" y="238.5" width="95.5" height="14.4" fill="#00FF90"/>
<rect x="939.3" y="238.5" width="95.5" height="14.4" fill="#00FF48"/>
<rect x="1034.5" y="238.5" width="95.5" height="14.4" fill="#00FF00"/>
<rect x="1129.7" y="238.5" width="96.5" height="14.4" fill="#00FF00"/>
<path d="M177.7 238.5V252.9M272.9 238.5V252.9M368.1 238.5V252.9M463.3 238.5V252.9M558.5 238.5V252.9M653.7 238.5V252.9M748.9 238.5V252.9M844.1 238.5V252.9M939.3 238.5V252.9M1034.5 238.5V252.9M1129.7 238.5V252.9" stroke="#000" stroke-width="0.8" fill="none"/>
<rect x="81.6" y="238.5" width="1144.3" height="14.4" fill="none" stroke="#000" stroke-width="0.8"/>
<text x="178" y="270.7" font-size="18" text-anchor="middle">-20</text>
<text x="273.2" y="270.7" font-size="18" text-anchor="middle">-16</text>
<text x="368.4" y="270.7" font-size="18" text-anchor="middle">-12</text>
<text x="463.6" y="270.7" font-size="18" text-anchor="middle">-8</text>
<text x="558.8" y="270.7" font-size="18" text-anchor="middle">-4</text>
<text x="653.7" y="270.7" font-size="18" text-anchor="middle">0</text>
<text x="748.9" y="270.7" font-size="18" text-anchor="middle">4</text>
<text x="844.1" y="270.7" font-size="18" text-anchor="middle">8</text>
<text x="939.3" y="270.7" font-size="18" text-anchor="middle">12</text>
<text x="1034.5" y="270.7" font-size="18" text-anchor="middle">16</text>
<text x="1129.7" y="270.7" font-size="18" text-anchor="middle">20</text>
<text x="1258" y="261" font-size="18.4">mm/10d</text>
<rect x="86.2" y="511.6" width="95.3" height="14.4" fill="#9B1FF0"/>
<rect x="181.2" y="511.6" width="95.6" height="14.4" fill="#0000FF"/>
<rect x="276.5" y="511.6" width="95.6" height="14.4" fill="#0070E6"/>
<rect x="371.8" y="511.6" width="95.6" height="14.4" fill="#00A0F8"/>
<rect x="467.1" y="511.6" width="95.6" height="14.4" fill="#00C4F4"/>
<rect x="562.4" y="511.6" width="95.6" height="14.4" fill="#90DCF2"/>
<rect x="657.7" y="511.6" width="95.6" height="14.4" fill="#FFF478"/>
<rect x="753" y="511.6" width="95.6" height="14.4" fill="#FFC400"/>
<rect x="848.3" y="511.6" width="95.6" height="14.4" fill="#FF8200"/>
<rect x="943.6" y="511.6" width="95.6" height="14.4" fill="#FF0A00"/>
<rect x="1038.9" y="511.6" width="95.6" height="14.4" fill="#EB0000"/>
<rect x="1134.2" y="511.6" width="95.6" height="14.4" fill="#FFB4B4"/>
<path d="M181.2 511.6V526M276.5 511.6V526M371.8 511.6V526M467.1 511.6V526M562.4 511.6V526M657.7 511.6V526M753 511.6V526M848.3 511.6V526M943.6 511.6V526M1038.9 511.6V526M1134.2 511.6V526" stroke="#000" stroke-width="0.8" fill="none"/>
<rect x="86.2" y="511.6" width="1143.3" height="14.4" fill="none" stroke="#000" stroke-width="0.8"/>
<text x="181.5" y="543.8" font-size="18" text-anchor="middle">-50</text>
<text x="276.8" y="543.8" font-size="18" text-anchor="middle">-40</text>
<text x="372.1" y="543.8" font-size="18" text-anchor="middle">-30</text>
<text x="467.4" y="543.8" font-size="18" text-anchor="middle">-20</text>
<text x="562.7" y="543.8" font-size="18" text-anchor="middle">-10</text>
<text x="657.7" y="543.8" font-size="18" text-anchor="middle">0</text>
<text x="753" y="543.8" font-size="18" text-anchor="middle">10</text>
<text x="848.3" y="543.8" font-size="18" text-anchor="middle">20</text>
<text x="943.6" y="543.8" font-size="18" text-anchor="middle">30</text>
<text x="1038.9" y="543.8" font-size="18" text-anchor="middle">40</text>
<text x="1134.2" y="543.8" font-size="18" text-anchor="middle">50</text>
<text x="1293" y="532.6" font-size="18.4">m</text>
<rect x="86.4" y="784.3" width="95.4" height="14.4" fill="#3838FF"/>
<rect x="181.5" y="784.3" width="95.6" height="14.4" fill="#5858FF"/>
<rect x="276.8" y="784.3" width="95.6" height="14.4" fill="#7474FF"/>
<rect x="372.1" y="784.3" width="95.6" height="14.4" fill="#9090FF"/>
<rect x="467.4" y="784.3" width="95.6" height="14.4" fill="#C0C0FF"/>
<rect x="562.7" y="784.3" width="95.6" height="14.4" fill="#F0F0FF"/>
<rect x="658" y="784.3" width="95.6" height="14.4" fill="#FFC0C0"/>
<rect x="753.3" y="784.3" width="95.6" height="14.4" fill="#FF9090"/>
<rect x="848.6" y="784.3" width="95.6" height="14.4" fill="#FF5C5C"/>
<rect x="943.9" y="784.3" width="95.6" height="14.4" fill="#FF3C3C"/>
<rect x="1039.2" y="784.3" width="95.6" height="14.4" fill="#FF2020"/>
<rect x="1134.5" y="784.3" width="95.3" height="14.4" fill="#FF0000"/>
<path d="M181.5 784.3V798.7M276.8 784.3V798.7M372.1 784.3V798.7M467.4 784.3V798.7M562.7 784.3V798.7M658 784.3V798.7M753.3 784.3V798.7M848.6 784.3V798.7M943.9 784.3V798.7M1039.2 784.3V798.7M1134.5 784.3V798.7" stroke="#000" stroke-width="0.8" fill="none"/>
<rect x="86.4" y="784.3" width="1143.1" height="14.4" fill="none" stroke="#000" stroke-width="0.8"/>
<text x="181.8" y="816.5" font-size="18" text-anchor="middle">-2</text>
<text x="277.1" y="816.5" font-size="18" text-anchor="middle">-1.6</text>
<text x="372.4" y="816.5" font-size="18" text-anchor="middle">-1.2</text>
<text x="467.7" y="816.5" font-size="18" text-anchor="middle">-0.8</text>
<text x="563" y="816.5" font-size="18" text-anchor="middle">-0.4</text>
<text x="658" y="816.5" font-size="18" text-anchor="middle">0</text>
<text x="753.3" y="816.5" font-size="18" text-anchor="middle">0.4</text>
<text x="848.6" y="816.5" font-size="18" text-anchor="middle">0.8</text>
<text x="943.9" y="816.5" font-size="18" text-anchor="middle">1.2</text>
<text x="1039.2" y="816.5" font-size="18" text-anchor="middle">1.6</text>
<text x="1134.5" y="816.5" font-size="18" text-anchor="middle">2</text>
<text x="1275.3" y="807.3" font-size="18.4">m/s</text>
</svg></body></html>
